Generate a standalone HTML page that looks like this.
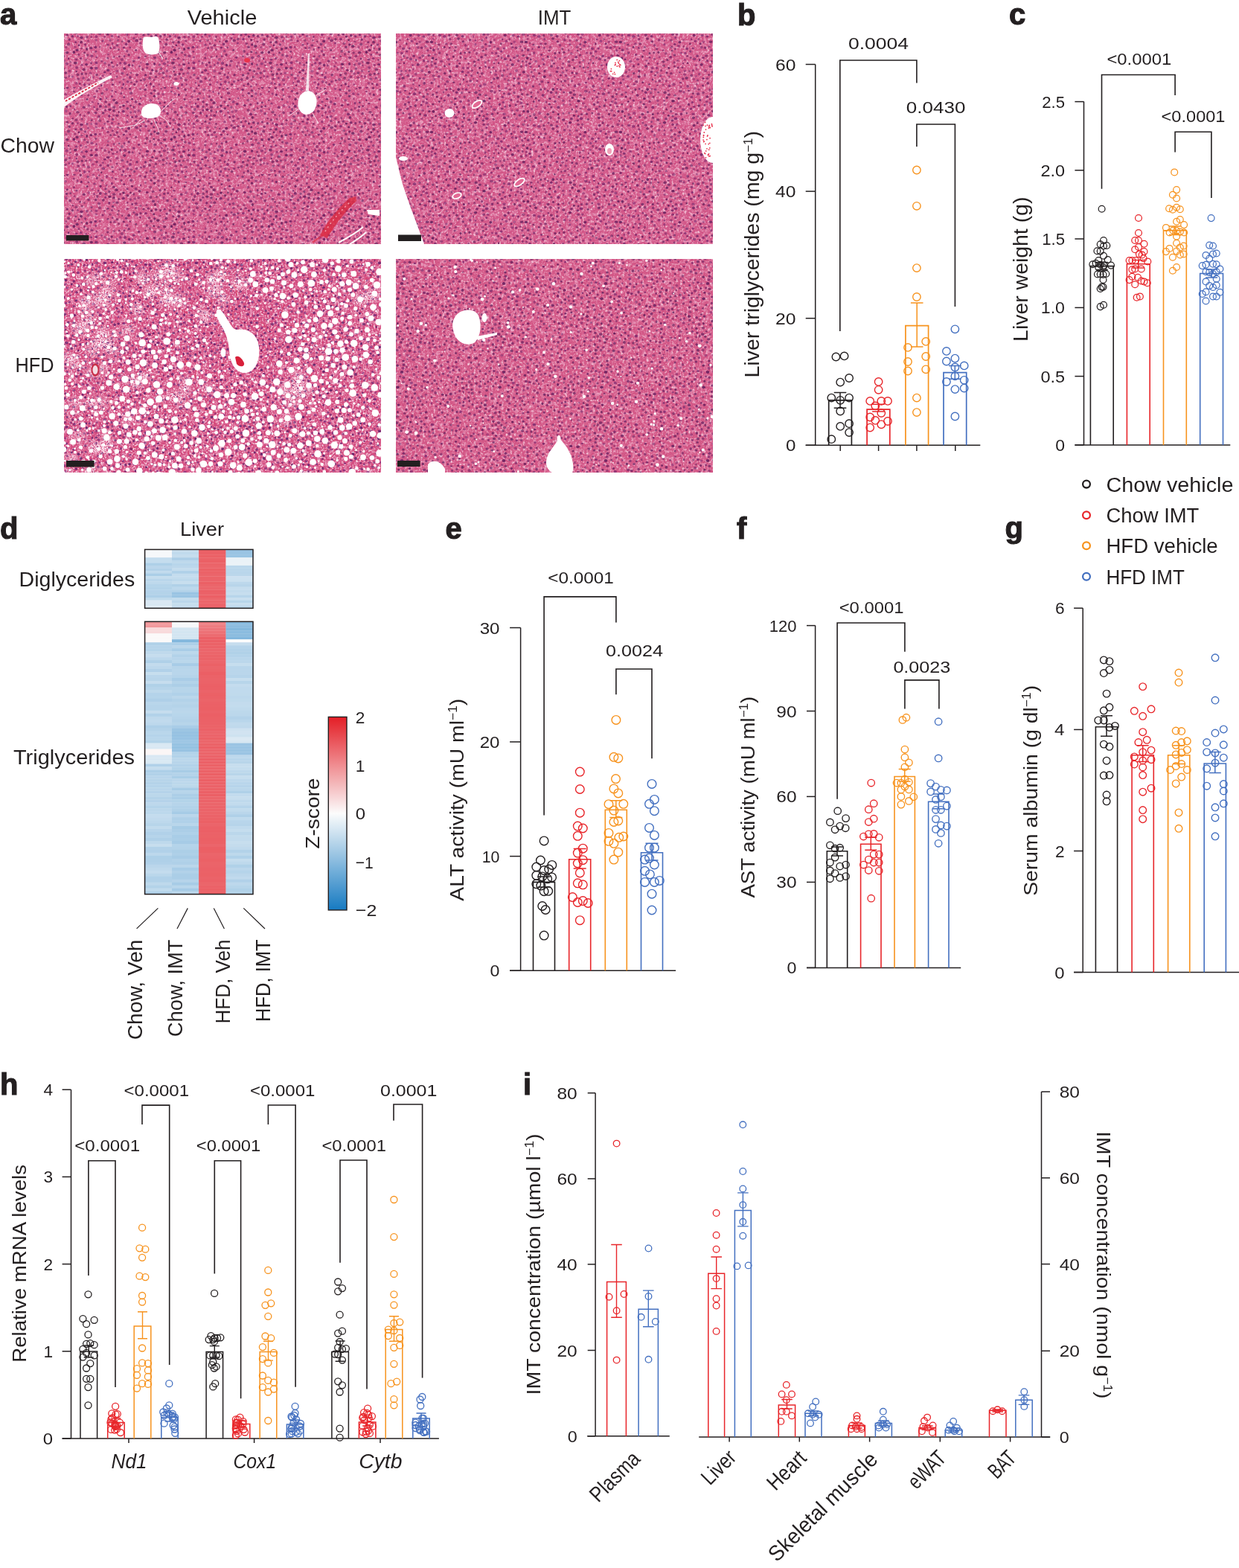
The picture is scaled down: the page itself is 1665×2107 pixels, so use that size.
<!DOCTYPE html>
<html><head><meta charset='utf-8'><title>Figure</title>
<style>html,body{margin:0;padding:0;background:#fff;width:1665px;height:2107px;overflow:hidden;}svg{display:block;}</style></head>
<body><svg width='1665' height='2107' viewBox='0 0 1665 2107' font-family="'Liberation Sans', Arial, sans-serif" fill='#231f20'>
<rect width='1665' height='2107' fill='#fff'/>
<defs><filter id='fA' x='0' y='0' width='1' height='1' color-interpolation-filters='sRGB'><feFlood flood-color='#d35a8a' result='base'/><feTurbulence type='fractalNoise' baseFrequency='0.35' numOctaves='2' seed='7' result='n2'/><feColorMatrix in='n2' type='matrix' values='0 0 0 0 1 0 0 0 0 0.93 0 0 0 0 0.96 2.4 0 0 0 -1.25' result='wh'/><feTurbulence type='fractalNoise' baseFrequency='0.6' numOctaves='1' seed='57' result='n4'/><feColorMatrix in='n4' type='matrix' values='0 0 0 0 0.78 0 0 0 0 0.22 0 0 0 0 0.45 0 2.5 0 0 -1.3' result='dk'/><feTurbulence type='fractalNoise' baseFrequency='0.22' numOctaves='2' seed='97' result='n5'/><feColorMatrix in='n5' type='matrix' values='0 0 0 0 0.92 0 0 0 0 0.62 0 0 0 0 0.75 0 2.6 0 0 -1.28' result='lp'/><feMerge><feMergeNode in='base'/><feMergeNode in='dk'/><feMergeNode in='lp'/><feMergeNode in='wh'/></feMerge></filter><filter id='fB' x='0' y='0' width='1' height='1' color-interpolation-filters='sRGB'><feFlood flood-color='#d35a8a' result='base'/><feTurbulence type='fractalNoise' baseFrequency='0.35' numOctaves='2' seed='9' result='n2'/><feColorMatrix in='n2' type='matrix' values='0 0 0 0 1 0 0 0 0 0.93 0 0 0 0 0.96 2.4 0 0 0 -1.25' result='wh'/><feTurbulence type='fractalNoise' baseFrequency='0.6' numOctaves='1' seed='59' result='n4'/><feColorMatrix in='n4' type='matrix' values='0 0 0 0 0.78 0 0 0 0 0.22 0 0 0 0 0.45 0 2.5 0 0 -1.3' result='dk'/><feTurbulence type='fractalNoise' baseFrequency='0.22' numOctaves='2' seed='99' result='n5'/><feColorMatrix in='n5' type='matrix' values='0 0 0 0 0.92 0 0 0 0 0.62 0 0 0 0 0.75 0 2.6 0 0 -1.28' result='lp'/><feMerge><feMergeNode in='base'/><feMergeNode in='dk'/><feMergeNode in='lp'/><feMergeNode in='wh'/></feMerge></filter><filter id='fC' x='0' y='0' width='1' height='1' color-interpolation-filters='sRGB'><feFlood flood-color='#d44d80' result='base'/><feTurbulence type='fractalNoise' baseFrequency='0.42' numOctaves='2' seed='13' result='n2'/><feColorMatrix in='n2' type='matrix' values='0 0 0 0 1 0 0 0 0 0.93 0 0 0 0 0.96 2.9 0 0 0 -1.38' result='wh'/><feTurbulence type='fractalNoise' baseFrequency='0.6' numOctaves='1' seed='63' result='n4'/><feColorMatrix in='n4' type='matrix' values='0 0 0 0 0.78 0 0 0 0 0.22 0 0 0 0 0.45 0 2.5 0 0 -1.3' result='dk'/><feTurbulence type='fractalNoise' baseFrequency='0.22' numOctaves='2' seed='103' result='n5'/><feColorMatrix in='n5' type='matrix' values='0 0 0 0 0.92 0 0 0 0 0.62 0 0 0 0 0.75 0 2.6 0 0 -1.28' result='lp'/><feMerge><feMergeNode in='base'/><feMergeNode in='dk'/><feMergeNode in='lp'/><feMergeNode in='wh'/></feMerge></filter><filter id='fD' x='0' y='0' width='1' height='1' color-interpolation-filters='sRGB'><feFlood flood-color='#d45a88' result='base'/><feTurbulence type='fractalNoise' baseFrequency='0.35' numOctaves='2' seed='17' result='n2'/><feColorMatrix in='n2' type='matrix' values='0 0 0 0 1 0 0 0 0 0.93 0 0 0 0 0.96 2.4 0 0 0 -1.25' result='wh'/><feTurbulence type='fractalNoise' baseFrequency='0.6' numOctaves='1' seed='67' result='n4'/><feColorMatrix in='n4' type='matrix' values='0 0 0 0 0.78 0 0 0 0 0.22 0 0 0 0 0.45 0 2.5 0 0 -1.3' result='dk'/><feTurbulence type='fractalNoise' baseFrequency='0.22' numOctaves='2' seed='107' result='n5'/><feColorMatrix in='n5' type='matrix' values='0 0 0 0 0.92 0 0 0 0 0.62 0 0 0 0 0.75 0 2.6 0 0 -1.28' result='lp'/><feMerge><feMergeNode in='base'/><feMergeNode in='dk'/><feMergeNode in='lp'/><feMergeNode in='wh'/></feMerge></filter><filter id='fBlur' x='-10%' y='-10%' width='120%' height='120%'><feGaussianBlur stdDeviation='3'/></filter><filter id='fFoam' x='0' y='0' width='1' height='1' color-interpolation-filters='sRGB'><feTurbulence type='fractalNoise' baseFrequency='0.55' numOctaves='2' seed='23' result='n'/><feColorMatrix in='n' type='matrix' values='0 0 0 0 1 0 0 0 0 0.94 0 0 0 0 0.97 4 0 0 0 -1.45'/></filter><pattern id='tA' patternUnits='userSpaceOnUse' width='131' height='117'><ellipse cx='17.6' cy='99.1' rx='1.4' ry='1.3' fill='#722365' fill-opacity='0.58'/><ellipse cx='100.1' cy='29.8' rx='1.4' ry='1.4' fill='#7d276c' fill-opacity='0.61'/><ellipse cx='64.9' cy='52.6' rx='1.9' ry='1.6' fill='#7e276c' fill-opacity='0.82'/><ellipse cx='85.4' cy='92.3' rx='1.8' ry='1.7' fill='#5a1956' fill-opacity='0.57'/><ellipse cx='12.3' cy='3.3' rx='1.9' ry='1.9' fill='#772568' fill-opacity='0.57'/><ellipse cx='109.5' cy='50.6' rx='2.3' ry='1.9' fill='#6d2162' fill-opacity='0.80'/><ellipse cx='99.9' cy='0.2' rx='1.8' ry='1.8' fill='#732365' fill-opacity='0.73'/><ellipse cx='58.3' cy='84.4' rx='1.3' ry='1.3' fill='#81296e' fill-opacity='0.51'/><ellipse cx='30.0' cy='110.6' rx='1.6' ry='1.7' fill='#82296f' fill-opacity='0.57'/><ellipse cx='118.1' cy='3.6' rx='1.8' ry='1.8' fill='#651d5d' fill-opacity='0.64'/><ellipse cx='3.3' cy='63.3' rx='1.1' ry='1.3' fill='#81286e' fill-opacity='0.74'/><ellipse cx='123.0' cy='44.6' rx='1.6' ry='1.3' fill='#5d1a58' fill-opacity='0.63'/><ellipse cx='28.4' cy='49.4' rx='1.4' ry='1.3' fill='#611c5b' fill-opacity='0.61'/><ellipse cx='3.8' cy='25.9' rx='2.0' ry='1.9' fill='#6f2163' fill-opacity='0.82'/><ellipse cx='57.4' cy='58.0' rx='1.6' ry='1.6' fill='#7e276c' fill-opacity='0.70'/><ellipse cx='30.5' cy='27.0' rx='1.4' ry='1.6' fill='#671e5e' fill-opacity='0.65'/><ellipse cx='38.0' cy='2.5' rx='1.3' ry='1.4' fill='#792569' fill-opacity='0.55'/><ellipse cx='109.7' cy='65.1' rx='1.4' ry='1.4' fill='#671e5e' fill-opacity='0.52'/><ellipse cx='84.1' cy='21.8' rx='1.5' ry='1.7' fill='#752467' fill-opacity='0.80'/><ellipse cx='130.0' cy='100.6' rx='1.8' ry='1.7' fill='#5f1b5a' fill-opacity='0.62'/><ellipse cx='-1.0' cy='100.6' rx='1.8' ry='1.7' fill='#5f1b5a' fill-opacity='0.62'/><ellipse cx='15.8' cy='38.9' rx='1.6' ry='1.8' fill='#752467' fill-opacity='0.84'/><ellipse cx='94.5' cy='83.2' rx='1.3' ry='1.5' fill='#6c2061' fill-opacity='0.51'/><ellipse cx='122.7' cy='49.4' rx='1.3' ry='1.5' fill='#702264' fill-opacity='0.55'/><ellipse cx='108.7' cy='78.4' rx='1.8' ry='1.5' fill='#782569' fill-opacity='0.70'/><ellipse cx='39.7' cy='68.7' rx='1.7' ry='1.7' fill='#7f286d' fill-opacity='0.70'/><ellipse cx='115.6' cy='99.0' rx='1.7' ry='1.5' fill='#5a1956' fill-opacity='0.52'/><ellipse cx='66.2' cy='68.9' rx='1.8' ry='1.9' fill='#571855' fill-opacity='0.56'/><ellipse cx='104.5' cy='48.5' rx='1.4' ry='1.5' fill='#7c276b' fill-opacity='0.59'/><ellipse cx='22.7' cy='64.2' rx='1.8' ry='1.6' fill='#81296e' fill-opacity='0.60'/><ellipse cx='92.1' cy='78.9' rx='1.2' ry='1.3' fill='#6a1f60' fill-opacity='0.82'/><ellipse cx='49.1' cy='51.4' rx='1.6' ry='1.5' fill='#742366' fill-opacity='0.70'/><ellipse cx='66.6' cy='91.1' rx='1.7' ry='1.7' fill='#752467' fill-opacity='0.61'/><ellipse cx='68.2' cy='46.0' rx='1.8' ry='1.5' fill='#6e2163' fill-opacity='0.70'/><ellipse cx='64.1' cy='3.5' rx='1.9' ry='1.5' fill='#6b2061' fill-opacity='0.79'/><ellipse cx='5.7' cy='82.3' rx='1.6' ry='1.4' fill='#772568' fill-opacity='0.59'/><ellipse cx='128.8' cy='69.4' rx='1.4' ry='1.3' fill='#6d2162' fill-opacity='0.70'/><ellipse cx='51.6' cy='19.9' rx='2.0' ry='1.9' fill='#7a266a' fill-opacity='0.70'/><ellipse cx='65.8' cy='114.9' rx='1.4' ry='1.3' fill='#6f2163' fill-opacity='0.70'/><ellipse cx='100.9' cy='63.1' rx='1.6' ry='1.4' fill='#712264' fill-opacity='0.52'/><ellipse cx='112.7' cy='27.2' rx='2.0' ry='1.8' fill='#6a1f60' fill-opacity='0.74'/><ellipse cx='75.7' cy='53.7' rx='1.5' ry='1.5' fill='#5a1957' fill-opacity='0.77'/><ellipse cx='35.3' cy='64.1' rx='1.7' ry='1.4' fill='#6a1f60' fill-opacity='0.79'/><ellipse cx='125.4' cy='0.7' rx='1.7' ry='1.6' fill='#82296f' fill-opacity='0.56'/><ellipse cx='102.7' cy='96.0' rx='1.1' ry='1.3' fill='#611c5b' fill-opacity='0.81'/><ellipse cx='116.1' cy='86.6' rx='2.1' ry='1.7' fill='#6d2162' fill-opacity='0.85'/><ellipse cx='106.0' cy='60.7' rx='1.3' ry='1.3' fill='#621c5c' fill-opacity='0.85'/><ellipse cx='7.4' cy='101.8' rx='1.3' ry='1.4' fill='#80286d' fill-opacity='0.72'/><ellipse cx='74.7' cy='23.4' rx='1.8' ry='1.6' fill='#6a1f60' fill-opacity='0.66'/><ellipse cx='46.7' cy='40.5' rx='1.5' ry='1.4' fill='#722365' fill-opacity='0.83'/><ellipse cx='70.5' cy='72.9' rx='1.5' ry='1.8' fill='#631d5c' fill-opacity='0.55'/><ellipse cx='112.8' cy='93.4' rx='2.2' ry='1.9' fill='#5c1a58' fill-opacity='0.63'/><ellipse cx='33.4' cy='98.5' rx='2.1' ry='1.8' fill='#722365' fill-opacity='0.65'/><ellipse cx='88.2' cy='9.7' rx='1.8' ry='1.6' fill='#7c276b' fill-opacity='0.52'/><ellipse cx='2.2' cy='1.7' rx='1.2' ry='1.3' fill='#681e5f' fill-opacity='0.66'/><ellipse cx='14.3' cy='73.1' rx='1.5' ry='1.6' fill='#7d276c' fill-opacity='0.51'/><ellipse cx='45.1' cy='8.1' rx='2.3' ry='1.9' fill='#6b2061' fill-opacity='0.64'/><ellipse cx='22.0' cy='31.9' rx='1.7' ry='1.8' fill='#5e1b59' fill-opacity='0.71'/><ellipse cx='93.2' cy='53.2' rx='1.6' ry='1.8' fill='#702264' fill-opacity='0.78'/><ellipse cx='42.2' cy='55.4' rx='2.0' ry='1.9' fill='#611c5b' fill-opacity='0.80'/><ellipse cx='3.1' cy='45.2' rx='1.9' ry='1.9' fill='#5b1957' fill-opacity='0.52'/><ellipse cx='14.2' cy='105.3' rx='1.7' ry='1.9' fill='#6b2061' fill-opacity='0.68'/><ellipse cx='66.8' cy='24.5' rx='1.9' ry='1.6' fill='#6a1f60' fill-opacity='0.81'/><ellipse cx='79.3' cy='95.6' rx='2.0' ry='1.6' fill='#5d1a59' fill-opacity='0.55'/><ellipse cx='19.2' cy='84.1' rx='1.6' ry='1.7' fill='#611c5b' fill-opacity='0.78'/><ellipse cx='88.8' cy='63.7' rx='1.4' ry='1.6' fill='#7e276c' fill-opacity='0.54'/><ellipse cx='29.2' cy='75.9' rx='1.3' ry='1.3' fill='#5d1a59' fill-opacity='0.63'/><ellipse cx='51.7' cy='67.4' rx='1.5' ry='1.4' fill='#571855' fill-opacity='0.67'/><ellipse cx='42.1' cy='73.8' rx='1.7' ry='1.8' fill='#641d5d' fill-opacity='0.70'/><ellipse cx='7.7' cy='34.9' rx='1.8' ry='1.8' fill='#5e1b59' fill-opacity='0.67'/><ellipse cx='40.1' cy='100.4' rx='1.5' ry='1.6' fill='#6f2163' fill-opacity='0.69'/><ellipse cx='40.7' cy='109.9' rx='2.0' ry='1.8' fill='#81296e' fill-opacity='0.70'/><ellipse cx='97.4' cy='48.7' rx='1.8' ry='1.8' fill='#651d5d' fill-opacity='0.71'/><ellipse cx='33.1' cy='1.0' rx='1.5' ry='1.6' fill='#681f5f' fill-opacity='0.69'/><ellipse cx='107.3' cy='112.6' rx='1.3' ry='1.4' fill='#601b5a' fill-opacity='0.71'/><ellipse cx='113.7' cy='113.9' rx='1.8' ry='1.8' fill='#7f286d' fill-opacity='0.77'/><ellipse cx='92.2' cy='59.5' rx='2.1' ry='1.9' fill='#661e5e' fill-opacity='0.63'/><ellipse cx='56.7' cy='22.7' rx='2.0' ry='1.7' fill='#691f60' fill-opacity='0.78'/><ellipse cx='13.7' cy='77.9' rx='1.6' ry='1.5' fill='#611c5b' fill-opacity='0.64'/><ellipse cx='26.3' cy='38.3' rx='2.1' ry='1.7' fill='#5e1b59' fill-opacity='0.64'/><ellipse cx='129.3' cy='91.6' rx='2.3' ry='1.9' fill='#722265' fill-opacity='0.77'/><ellipse cx='-1.7' cy='91.6' rx='2.3' ry='1.9' fill='#722265' fill-opacity='0.77'/><ellipse cx='44.4' cy='24.9' rx='1.4' ry='1.4' fill='#591956' fill-opacity='0.71'/><ellipse cx='88.4' cy='98.0' rx='2.1' ry='1.7' fill='#641d5c' fill-opacity='0.65'/><ellipse cx='115.6' cy='80.4' rx='1.4' ry='1.3' fill='#691f60' fill-opacity='0.55'/><ellipse cx='30.7' cy='84.9' rx='1.6' ry='1.8' fill='#83296f' fill-opacity='0.76'/><ellipse cx='11.1' cy='19.9' rx='1.8' ry='1.6' fill='#6f2163' fill-opacity='0.72'/><ellipse cx='119.3' cy='24.9' rx='1.8' ry='1.9' fill='#81286e' fill-opacity='0.57'/><ellipse cx='99.4' cy='70.2' rx='1.7' ry='1.9' fill='#5e1a59' fill-opacity='0.84'/><ellipse cx='110.2' cy='43.1' rx='1.6' ry='1.7' fill='#5c1a58' fill-opacity='0.55'/><ellipse cx='44.6' cy='34.1' rx='1.6' ry='1.8' fill='#762467' fill-opacity='0.61'/><ellipse cx='113.6' cy='70.7' rx='1.6' ry='1.5' fill='#5e1b59' fill-opacity='0.58'/><ellipse cx='125.0' cy='103.8' rx='1.7' ry='1.6' fill='#80286d' fill-opacity='0.53'/><ellipse cx='17.7' cy='64.5' rx='1.5' ry='1.6' fill='#5d1a58' fill-opacity='0.63'/><ellipse cx='102.4' cy='44.2' rx='2.0' ry='1.9' fill='#661e5e' fill-opacity='0.52'/><ellipse cx='10.7' cy='31.2' rx='1.5' ry='1.6' fill='#7e276c' fill-opacity='0.75'/><ellipse cx='116.7' cy='66.0' rx='1.6' ry='1.9' fill='#571855' fill-opacity='0.74'/><ellipse cx='36.3' cy='92.1' rx='2.1' ry='1.8' fill='#5f1b5a' fill-opacity='0.78'/><ellipse cx='108.4' cy='1.4' rx='1.6' ry='1.8' fill='#5b1957' fill-opacity='0.64'/><ellipse cx='129.4' cy='49.3' rx='1.9' ry='1.8' fill='#83296f' fill-opacity='0.68'/><ellipse cx='-1.6' cy='49.3' rx='1.9' ry='1.8' fill='#83296f' fill-opacity='0.68'/><ellipse cx='49.6' cy='113.5' rx='1.7' ry='1.7' fill='#5d1a58' fill-opacity='0.63'/><ellipse cx='119.1' cy='34.4' rx='1.9' ry='1.8' fill='#691f60' fill-opacity='0.63'/><ellipse cx='33.2' cy='55.8' rx='1.2' ry='1.4' fill='#591956' fill-opacity='0.58'/><ellipse cx='128.7' cy='34.6' rx='1.9' ry='1.7' fill='#6b2061' fill-opacity='0.72'/><ellipse cx='119.7' cy='113.5' rx='1.1' ry='1.3' fill='#7b266b' fill-opacity='0.79'/><ellipse cx='127.0' cy='13.0' rx='1.9' ry='1.6' fill='#7a266a' fill-opacity='0.65'/><ellipse cx='128.4' cy='63.5' rx='2.0' ry='1.7' fill='#742366' fill-opacity='0.82'/><ellipse cx='40.3' cy='28.8' rx='1.9' ry='1.7' fill='#591856' fill-opacity='0.66'/><ellipse cx='85.4' cy='75.3' rx='1.9' ry='1.6' fill='#712264' fill-opacity='0.62'/><ellipse cx='40.2' cy='38.3' rx='1.3' ry='1.4' fill='#732366' fill-opacity='0.65'/><ellipse cx='43.8' cy='63.7' rx='1.3' ry='1.3' fill='#5c1a58' fill-opacity='0.60'/><ellipse cx='75.8' cy='69.7' rx='1.6' ry='1.3' fill='#5a1956' fill-opacity='0.78'/><ellipse cx='31.9' cy='8.5' rx='1.4' ry='1.6' fill='#6c2061' fill-opacity='0.71'/><ellipse cx='72.2' cy='8.3' rx='1.8' ry='1.6' fill='#752467' fill-opacity='0.83'/><ellipse cx='64.6' cy='100.9' rx='1.7' ry='1.6' fill='#691f60' fill-opacity='0.82'/><ellipse cx='20.2' cy='58.7' rx='1.4' ry='1.6' fill='#782568' fill-opacity='0.65'/><ellipse cx='104.1' cy='9.0' rx='1.5' ry='1.7' fill='#7d276c' fill-opacity='0.63'/><ellipse cx='124.3' cy='20.3' rx='1.5' ry='1.3' fill='#7f286d' fill-opacity='0.54'/><ellipse cx='107.6' cy='37.4' rx='1.2' ry='1.3' fill='#6e2162' fill-opacity='0.82'/><ellipse cx='14.0' cy='60.2' rx='1.6' ry='1.5' fill='#722365' fill-opacity='0.70'/><ellipse cx='117.1' cy='16.6' rx='1.5' ry='1.5' fill='#581856' fill-opacity='0.71'/><ellipse cx='105.3' cy='106.1' rx='2.1' ry='1.7' fill='#6a1f60' fill-opacity='0.59'/><ellipse cx='110.1' cy='87.3' rx='1.6' ry='1.5' fill='#82296f' fill-opacity='0.67'/><ellipse cx='90.3' cy='20.8' rx='1.5' ry='1.4' fill='#5e1b59' fill-opacity='0.75'/><ellipse cx='72.0' cy='63.3' rx='1.8' ry='1.7' fill='#5f1b59' fill-opacity='0.68'/><ellipse cx='51.8' cy='39.6' rx='2.0' ry='1.8' fill='#742366' fill-opacity='0.64'/><ellipse cx='84.7' cy='48.8' rx='1.6' ry='1.7' fill='#6c2061' fill-opacity='0.72'/><ellipse cx='46.5' cy='16.2' rx='1.6' ry='1.3' fill='#5d1a58' fill-opacity='0.84'/><ellipse cx='16.4' cy='30.3' rx='2.1' ry='1.8' fill='#621c5b' fill-opacity='0.79'/><ellipse cx='69.3' cy='58.6' rx='2.0' ry='1.6' fill='#641d5d' fill-opacity='0.54'/><ellipse cx='89.9' cy='85.6' rx='2.2' ry='1.9' fill='#7d276b' fill-opacity='0.66'/><ellipse cx='118.8' cy='107.4' rx='2.3' ry='1.9' fill='#6f2163' fill-opacity='0.54'/><ellipse cx='36.1' cy='75.6' rx='1.4' ry='1.6' fill='#792569' fill-opacity='0.72'/><ellipse cx='6.3' cy='8.4' rx='1.9' ry='1.6' fill='#571855' fill-opacity='0.59'/><ellipse cx='20.9' cy='89.6' rx='1.9' ry='1.7' fill='#702264' fill-opacity='0.54'/><ellipse cx='48.7' cy='82.1' rx='2.0' ry='1.7' fill='#732366' fill-opacity='0.74'/><ellipse cx='112.2' cy='104.9' rx='1.7' ry='1.6' fill='#722265' fill-opacity='0.69'/><ellipse cx='28.5' cy='66.6' rx='1.5' ry='1.7' fill='#5f1b5a' fill-opacity='0.52'/><ellipse cx='99.3' cy='6.1' rx='1.5' ry='1.3' fill='#6f2163' fill-opacity='0.61'/><ellipse cx='5.3' cy='114.8' rx='1.2' ry='1.4' fill='#5d1a59' fill-opacity='0.80'/><ellipse cx='105.8' cy='73.5' rx='1.4' ry='1.5' fill='#762467' fill-opacity='0.70'/><ellipse cx='35.0' cy='106.8' rx='1.6' ry='1.3' fill='#702264' fill-opacity='0.59'/><ellipse cx='86.4' cy='81.9' rx='1.6' ry='1.4' fill='#80286e' fill-opacity='0.51'/><ellipse cx='58.3' cy='108.1' rx='1.7' ry='1.4' fill='#6c2061' fill-opacity='0.65'/><ellipse cx='21.6' cy='38.1' rx='1.5' ry='1.4' fill='#792569' fill-opacity='0.51'/><ellipse cx='78.7' cy='47.8' rx='1.8' ry='1.8' fill='#6a1f60' fill-opacity='0.80'/><ellipse cx='0.5' cy='22.2' rx='1.7' ry='1.5' fill='#7f286d' fill-opacity='0.85'/><ellipse cx='57.5' cy='2.5' rx='1.7' ry='1.4' fill='#81286e' fill-opacity='0.63'/><ellipse cx='82.2' cy='70.9' rx='1.7' ry='1.5' fill='#601b5a' fill-opacity='0.59'/><ellipse cx='32.9' cy='80.0' rx='2.2' ry='1.9' fill='#6e2163' fill-opacity='0.54'/><ellipse cx='50.2' cy='33.2' rx='1.8' ry='1.9' fill='#7a266a' fill-opacity='0.50'/><ellipse cx='14.2' cy='94.5' rx='2.2' ry='1.8' fill='#762467' fill-opacity='0.85'/><ellipse cx='15.5' cy='87.4' rx='1.6' ry='1.8' fill='#762467' fill-opacity='0.63'/><ellipse cx='71.4' cy='112.9' rx='1.6' ry='1.8' fill='#6b2061' fill-opacity='0.80'/><ellipse cx='75.0' cy='36.4' rx='2.1' ry='1.9' fill='#742366' fill-opacity='0.81'/><ellipse cx='65.9' cy='41.7' rx='1.5' ry='1.6' fill='#6e2162' fill-opacity='0.53'/><ellipse cx='57.9' cy='52.6' rx='1.8' ry='1.7' fill='#5f1b59' fill-opacity='0.63'/><ellipse cx='39.9' cy='46.7' rx='1.8' ry='1.7' fill='#7f286d' fill-opacity='0.65'/><ellipse cx='102.6' cy='80.0' rx='1.9' ry='1.5' fill='#782569' fill-opacity='0.72'/><ellipse cx='64.5' cy='75.8' rx='1.5' ry='1.3' fill='#5c1a58' fill-opacity='0.60'/><ellipse cx='78.4' cy='103.2' rx='1.8' ry='1.7' fill='#601b5a' fill-opacity='0.59'/><ellipse cx='129.3' cy='54.0' rx='1.7' ry='1.4' fill='#7c266b' fill-opacity='0.54'/><ellipse cx='40.0' cy='19.9' rx='1.7' ry='1.4' fill='#772468' fill-opacity='0.77'/><ellipse cx='81.2' cy='62.1' rx='2.3' ry='1.9' fill='#581855' fill-opacity='0.73'/><ellipse cx='53.1' cy='100.8' rx='1.7' ry='1.8' fill='#6b2061' fill-opacity='0.76'/><ellipse cx='76.6' cy='85.9' rx='1.6' ry='1.8' fill='#691f5f' fill-opacity='0.84'/><ellipse cx='122.8' cy='91.5' rx='2.1' ry='1.7' fill='#5c1a58' fill-opacity='0.77'/><ellipse cx='92.8' cy='102.3' rx='1.4' ry='1.6' fill='#7c276b' fill-opacity='0.58'/><ellipse cx='71.3' cy='17.8' rx='2.0' ry='1.8' fill='#691f60' fill-opacity='0.53'/><ellipse cx='109.1' cy='56.7' rx='1.9' ry='1.9' fill='#5a1957' fill-opacity='0.71'/><ellipse cx='86.0' cy='2.3' rx='1.2' ry='1.3' fill='#5a1956' fill-opacity='0.52'/><ellipse cx='90.4' cy='47.0' rx='1.7' ry='1.5' fill='#6f2163' fill-opacity='0.72'/><ellipse cx='90.2' cy='70.8' rx='2.2' ry='1.8' fill='#5e1b59' fill-opacity='0.72'/><ellipse cx='9.8' cy='97.2' rx='1.6' ry='1.4' fill='#722265' fill-opacity='0.85'/><ellipse cx='67.0' cy='86.2' rx='2.1' ry='1.7' fill='#641d5d' fill-opacity='0.85'/><ellipse cx='22.1' cy='76.4' rx='1.5' ry='1.5' fill='#641d5d' fill-opacity='0.50'/><ellipse cx='93.5' cy='95.4' rx='1.8' ry='1.9' fill='#7a266a' fill-opacity='0.55'/><ellipse cx='113.5' cy='38.6' rx='1.2' ry='1.4' fill='#621c5c' fill-opacity='0.57'/><ellipse cx='4.0' cy='105.2' rx='1.8' ry='1.6' fill='#80286d' fill-opacity='0.80'/><ellipse cx='81.5' cy='37.0' rx='1.3' ry='1.5' fill='#7f286d' fill-opacity='0.57'/><ellipse cx='56.6' cy='89.1' rx='1.4' ry='1.4' fill='#7a266a' fill-opacity='0.75'/><ellipse cx='102.9' cy='22.2' rx='1.6' ry='1.4' fill='#732366' fill-opacity='0.68'/><ellipse cx='79.4' cy='30.7' rx='1.5' ry='1.6' fill='#5a1957' fill-opacity='0.52'/><ellipse cx='47.3' cy='87.9' rx='1.4' ry='1.6' fill='#772468' fill-opacity='0.69'/><ellipse cx='94.1' cy='35.7' rx='1.8' ry='1.9' fill='#6b2061' fill-opacity='0.69'/><ellipse cx='13.9' cy='46.4' rx='1.7' ry='1.4' fill='#601b5a' fill-opacity='0.71'/><ellipse cx='64.5' cy='11.7' rx='1.2' ry='1.4' fill='#661e5e' fill-opacity='0.60'/><ellipse cx='24.5' cy='6.5' rx='1.1' ry='1.3' fill='#7a266a' fill-opacity='0.84'/><ellipse cx='44.9' cy='98.0' rx='1.2' ry='1.3' fill='#6b2061' fill-opacity='0.61'/><ellipse cx='22.1' cy='27.1' rx='2.3' ry='1.9' fill='#5f1b5a' fill-opacity='0.57'/><ellipse cx='130.3' cy='5.4' rx='1.5' ry='1.7' fill='#752467' fill-opacity='0.73'/><ellipse cx='-0.7' cy='5.4' rx='1.5' ry='1.7' fill='#752467' fill-opacity='0.73'/><ellipse cx='104.5' cy='100.3' rx='2.0' ry='1.9' fill='#581855' fill-opacity='0.58'/><ellipse cx='76.0' cy='107.5' rx='1.7' ry='1.8' fill='#81296e' fill-opacity='0.50'/><ellipse cx='99.4' cy='17.8' rx='1.1' ry='1.3' fill='#5d1a58' fill-opacity='0.82'/><ellipse cx='17.0' cy='54.2' rx='1.6' ry='1.6' fill='#5f1b5a' fill-opacity='0.50'/><ellipse cx='35.8' cy='13.7' rx='1.5' ry='1.4' fill='#6f2163' fill-opacity='0.81'/><ellipse cx='83.5' cy='87.1' rx='1.7' ry='1.6' fill='#631d5c' fill-opacity='0.56'/><ellipse cx='82.7' cy='113.4' rx='1.3' ry='1.5' fill='#7f286d' fill-opacity='0.57'/><ellipse cx='84.1' cy='28.4' rx='1.3' ry='1.3' fill='#651d5d' fill-opacity='0.58'/><ellipse cx='7.9' cy='109.4' rx='2.2' ry='1.9' fill='#772568' fill-opacity='0.71'/><ellipse cx='77.4' cy='40.9' rx='1.7' ry='1.9' fill='#591956' fill-opacity='0.74'/><ellipse cx='26.1' cy='103.0' rx='1.3' ry='1.5' fill='#681f5f' fill-opacity='0.60'/><ellipse cx='55.6' cy='77.5' rx='1.7' ry='1.4' fill='#762468' fill-opacity='0.84'/><ellipse cx='94.5' cy='88.0' rx='1.3' ry='1.3' fill='#702264' fill-opacity='0.57'/><ellipse cx='19.8' cy='107.5' rx='1.7' ry='1.6' fill='#5e1a59' fill-opacity='0.53'/><ellipse cx='58.1' cy='15.0' rx='1.1' ry='1.3' fill='#7c276b' fill-opacity='0.81'/><ellipse cx='102.7' cy='111.9' rx='2.0' ry='1.8' fill='#7c276b' fill-opacity='0.51'/><ellipse cx='76.5' cy='12.2' rx='1.7' ry='1.6' fill='#5e1b59' fill-opacity='0.79'/><ellipse cx='129.4' cy='84.2' rx='2.0' ry='1.8' fill='#81286e' fill-opacity='0.84'/><ellipse cx='-1.6' cy='84.2' rx='2.0' ry='1.8' fill='#81286e' fill-opacity='0.84'/><ellipse cx='70.2' cy='104.9' rx='1.9' ry='1.9' fill='#591956' fill-opacity='0.62'/><ellipse cx='20.6' cy='43.3' rx='1.7' ry='1.6' fill='#671e5e' fill-opacity='0.79'/><ellipse cx='42.6' cy='87.6' rx='1.8' ry='1.8' fill='#6a1f60' fill-opacity='0.83'/><ellipse cx='62.8' cy='106.8' rx='2.1' ry='1.9' fill='#702264' fill-opacity='0.63'/><ellipse cx='75.4' cy='116.1' rx='1.6' ry='1.3' fill='#752467' fill-opacity='0.71'/><ellipse cx='75.4' cy='-0.9' rx='1.6' ry='1.3' fill='#752467' fill-opacity='0.71'/><ellipse cx='97.8' cy='42.3' rx='1.1' ry='1.3' fill='#691f60' fill-opacity='0.71'/><ellipse cx='123.4' cy='75.3' rx='2.1' ry='1.8' fill='#7f286d' fill-opacity='0.72'/><ellipse cx='52.7' cy='54.4' rx='2.3' ry='1.9' fill='#6b2061' fill-opacity='0.68'/><ellipse cx='22.0' cy='17.4' rx='2.0' ry='1.7' fill='#631c5c' fill-opacity='0.71'/><ellipse cx='71.5' cy='31.1' rx='2.1' ry='1.8' fill='#5c1a58' fill-opacity='0.56'/><ellipse cx='117.0' cy='49.8' rx='1.8' ry='1.8' fill='#772568' fill-opacity='0.67'/><ellipse cx='130.8' cy='30.0' rx='1.7' ry='1.9' fill='#621c5b' fill-opacity='0.60'/><ellipse cx='-0.2' cy='30.0' rx='1.7' ry='1.9' fill='#621c5b' fill-opacity='0.60'/><ellipse cx='26.4' cy='87.4' rx='1.2' ry='1.3' fill='#732365' fill-opacity='0.73'/><ellipse cx='76.6' cy='4.7' rx='2.0' ry='1.8' fill='#5e1b59' fill-opacity='0.63'/><ellipse cx='90.6' cy='0.6' rx='1.9' ry='1.8' fill='#6b2061' fill-opacity='0.78'/><ellipse cx='52.7' cy='109.6' rx='1.8' ry='1.7' fill='#7c276b' fill-opacity='0.70'/><ellipse cx='60.8' cy='93.1' rx='1.6' ry='1.9' fill='#581855' fill-opacity='0.51'/><ellipse cx='101.8' cy='56.8' rx='1.6' ry='1.5' fill='#6f2163' fill-opacity='0.72'/><ellipse cx='12.0' cy='15.1' rx='1.6' ry='1.3' fill='#7e276c' fill-opacity='0.58'/><ellipse cx='126.6' cy='26.8' rx='1.3' ry='1.5' fill='#7d276b' fill-opacity='0.75'/><ellipse cx='109.3' cy='10.4' rx='1.5' ry='1.6' fill='#681f5f' fill-opacity='0.85'/><ellipse cx='45.4' cy='110.7' rx='1.6' ry='1.5' fill='#5e1b59' fill-opacity='0.50'/><ellipse cx='72.4' cy='49.1' rx='1.6' ry='1.7' fill='#5e1a59' fill-opacity='0.79'/><ellipse cx='34.8' cy='32.6' rx='2.0' ry='1.9' fill='#752467' fill-opacity='0.84'/><ellipse cx='38.5' cy='59.4' rx='1.9' ry='1.8' fill='#722265' fill-opacity='0.75'/><ellipse cx='26.4' cy='60.9' rx='2.0' ry='1.6' fill='#631c5c' fill-opacity='0.62'/><ellipse cx='129.6' cy='76.9' rx='1.2' ry='1.3' fill='#7c266b' fill-opacity='0.76'/><ellipse cx='19.5' cy='48.4' rx='1.6' ry='1.6' fill='#7c276b' fill-opacity='0.68'/><ellipse cx='35.0' cy='25.1' rx='1.8' ry='1.6' fill='#5e1b59' fill-opacity='0.85'/><ellipse cx='89.7' cy='26.5' rx='1.7' ry='1.4' fill='#661e5e' fill-opacity='0.75'/><ellipse cx='11.1' cy='26.3' rx='1.7' ry='1.6' fill='#631d5c' fill-opacity='0.63'/><ellipse cx='10.1' cy='84.8' rx='1.6' ry='1.9' fill='#762468' fill-opacity='0.58'/><ellipse cx='4.1' cy='16.3' rx='1.6' ry='1.7' fill='#621c5c' fill-opacity='0.81'/><ellipse cx='89.0' cy='32.0' rx='1.7' ry='1.9' fill='#7b266a' fill-opacity='0.59'/><ellipse cx='117.7' cy='74.0' rx='1.8' ry='1.8' fill='#5b1957' fill-opacity='0.55'/><ellipse cx='62.0' cy='47.2' rx='1.5' ry='1.4' fill='#5b1957' fill-opacity='0.69'/><ellipse cx='71.4' cy='98.7' rx='1.9' ry='1.8' fill='#591956' fill-opacity='0.52'/><ellipse cx='110.2' cy='99.2' rx='1.6' ry='1.8' fill='#601b5a' fill-opacity='0.71'/><ellipse cx='43.9' cy='104.0' rx='1.9' ry='1.9' fill='#7e276c' fill-opacity='0.83'/><ellipse cx='1.1' cy='111.4' rx='1.3' ry='1.3' fill='#7b266b' fill-opacity='0.65'/><ellipse cx='7.0' cy='55.1' rx='1.6' ry='1.5' fill='#762468' fill-opacity='0.75'/><ellipse cx='88.2' cy='104.3' rx='1.8' ry='1.4' fill='#5d1a59' fill-opacity='0.52'/><ellipse cx='101.3' cy='84.6' rx='2.4' ry='1.9' fill='#5a1956' fill-opacity='0.71'/><ellipse cx='121.4' cy='98.3' rx='1.9' ry='1.7' fill='#82296f' fill-opacity='0.55'/><ellipse cx='104.5' cy='33.8' rx='2.3' ry='1.8' fill='#5c1a58' fill-opacity='0.57'/><ellipse cx='20.4' cy='113.7' rx='1.6' ry='1.4' fill='#722365' fill-opacity='0.82'/><ellipse cx='76.7' cy='60.0' rx='1.6' ry='1.8' fill='#641d5d' fill-opacity='0.80'/><ellipse cx='122.6' cy='84.8' rx='1.3' ry='1.5' fill='#6d2062' fill-opacity='0.75'/><ellipse cx='84.0' cy='56.0' rx='1.6' ry='1.3' fill='#671e5e' fill-opacity='0.55'/><ellipse cx='51.8' cy='45.5' rx='1.9' ry='1.6' fill='#712264' fill-opacity='0.65'/><ellipse cx='26.3' cy='95.6' rx='2.1' ry='1.9' fill='#7f286d' fill-opacity='0.53'/><ellipse cx='81.9' cy='9.0' rx='1.9' ry='1.8' fill='#80286d' fill-opacity='0.69'/><ellipse cx='27.4' cy='54.2' rx='1.3' ry='1.4' fill='#571855' fill-opacity='0.51'/><ellipse cx='15.8' cy='23.6' rx='1.7' ry='1.8' fill='#691f5f' fill-opacity='0.69'/><ellipse cx='55.2' cy='31.8' rx='1.9' ry='1.9' fill='#80286d' fill-opacity='0.59'/><ellipse cx='118.9' cy='11.0' rx='1.5' ry='1.3' fill='#681f5f' fill-opacity='0.58'/><ellipse cx='118.6' cy='55.1' rx='1.7' ry='1.5' fill='#752467' fill-opacity='0.51'/><ellipse cx='122.4' cy='64.6' rx='2.0' ry='1.7' fill='#641d5c' fill-opacity='0.77'/><ellipse cx='103.1' cy='90.8' rx='2.0' ry='1.9' fill='#762467' fill-opacity='0.65'/><ellipse cx='103.6' cy='67.4' rx='2.1' ry='1.8' fill='#651d5d' fill-opacity='0.81'/><ellipse cx='83.1' cy='99.1' rx='2.0' ry='1.7' fill='#792569' fill-opacity='0.52'/><ellipse cx='19.4' cy='12.6' rx='1.6' ry='1.6' fill='#752467' fill-opacity='0.73'/><ellipse cx='34.8' cy='113.4' rx='1.5' ry='1.8' fill='#7d276c' fill-opacity='0.85'/><ellipse cx='37.0' cy='85.0' rx='2.2' ry='1.9' fill='#792569' fill-opacity='0.71'/><ellipse cx='57.9' cy='42.6' rx='1.8' ry='1.5' fill='#691f5f' fill-opacity='0.51'/><ellipse cx='77.1' cy='77.6' rx='2.1' ry='1.8' fill='#6e2162' fill-opacity='0.71'/><ellipse cx='94.7' cy='25.7' rx='1.5' ry='1.4' fill='#702264' fill-opacity='0.75'/><ellipse cx='25.6' cy='21.2' rx='2.2' ry='1.9' fill='#621c5b' fill-opacity='0.74'/><ellipse cx='9.7' cy='49.2' rx='1.4' ry='1.5' fill='#81286e' fill-opacity='0.64'/><ellipse cx='73.8' cy='94.3' rx='1.7' ry='1.4' fill='#681f5f' fill-opacity='0.85'/><ellipse cx='2.0' cy='39.6' rx='2.1' ry='1.9' fill='#742366' fill-opacity='0.68'/><ellipse cx='97.4' cy='102.9' rx='1.7' ry='1.7' fill='#81296e' fill-opacity='0.64'/><ellipse cx='114.5' cy='60.0' rx='1.6' ry='1.8' fill='#7b266a' fill-opacity='0.76'/><ellipse cx='48.8' cy='27.0' rx='1.6' ry='1.7' fill='#631c5c' fill-opacity='0.60'/><ellipse cx='43.6' cy='2.2' rx='1.5' ry='1.3' fill='#5c1a58' fill-opacity='0.74'/><ellipse cx='19.7' cy='5.0' rx='1.5' ry='1.3' fill='#81296e' fill-opacity='0.66'/><ellipse cx='28.8' cy='33.5' rx='1.1' ry='1.3' fill='#5a1957' fill-opacity='0.79'/><ellipse cx='82.2' cy='15.8' rx='1.3' ry='1.3' fill='#742366' fill-opacity='0.52'/></pattern><pattern id='tB' patternUnits='userSpaceOnUse' width='127' height='121'><ellipse cx='121.4' cy='114.7' rx='1.3' ry='1.3' fill='#661e5e' fill-opacity='0.53'/><ellipse cx='7.2' cy='10.3' rx='1.7' ry='1.6' fill='#5e1b59' fill-opacity='0.81'/><ellipse cx='106.1' cy='89.1' rx='2.0' ry='1.8' fill='#611c5b' fill-opacity='0.75'/><ellipse cx='85.1' cy='37.3' rx='1.9' ry='1.8' fill='#5f1b5a' fill-opacity='0.83'/><ellipse cx='77.0' cy='73.4' rx='1.6' ry='1.3' fill='#80286d' fill-opacity='0.61'/><ellipse cx='73.8' cy='19.2' rx='1.5' ry='1.4' fill='#5a1956' fill-opacity='0.68'/><ellipse cx='54.7' cy='47.6' rx='2.0' ry='1.7' fill='#732366' fill-opacity='0.63'/><ellipse cx='91.8' cy='120.4' rx='1.6' ry='1.6' fill='#5d1a58' fill-opacity='0.70'/><ellipse cx='91.8' cy='-0.6' rx='1.6' ry='1.6' fill='#5d1a58' fill-opacity='0.70'/><ellipse cx='120.6' cy='65.8' rx='1.6' ry='1.6' fill='#5e1a59' fill-opacity='0.59'/><ellipse cx='56.5' cy='32.5' rx='1.7' ry='1.7' fill='#581855' fill-opacity='0.65'/><ellipse cx='4.6' cy='3.3' rx='2.2' ry='1.9' fill='#5c1a58' fill-opacity='0.68'/><ellipse cx='59.0' cy='38.5' rx='1.6' ry='1.5' fill='#82296e' fill-opacity='0.59'/><ellipse cx='48.3' cy='107.9' rx='1.7' ry='1.5' fill='#631d5c' fill-opacity='0.52'/><ellipse cx='66.8' cy='67.8' rx='1.6' ry='1.7' fill='#7c276b' fill-opacity='0.67'/><ellipse cx='30.0' cy='2.9' rx='1.6' ry='1.7' fill='#81286e' fill-opacity='0.69'/><ellipse cx='41.3' cy='16.5' rx='1.8' ry='1.6' fill='#7d276c' fill-opacity='0.79'/><ellipse cx='64.8' cy='120.8' rx='1.5' ry='1.8' fill='#581855' fill-opacity='0.55'/><ellipse cx='64.8' cy='-0.2' rx='1.5' ry='1.8' fill='#581855' fill-opacity='0.55'/><ellipse cx='85.7' cy='22.0' rx='1.8' ry='1.6' fill='#6d2062' fill-opacity='0.51'/><ellipse cx='113.5' cy='96.4' rx='1.9' ry='1.6' fill='#772568' fill-opacity='0.84'/><ellipse cx='93.3' cy='109.7' rx='2.1' ry='1.8' fill='#732366' fill-opacity='0.68'/><ellipse cx='96.9' cy='95.6' rx='1.6' ry='1.8' fill='#641d5d' fill-opacity='0.78'/><ellipse cx='44.9' cy='118.7' rx='2.0' ry='1.6' fill='#80286d' fill-opacity='0.58'/><ellipse cx='122.2' cy='19.5' rx='1.4' ry='1.6' fill='#772568' fill-opacity='0.55'/><ellipse cx='95.8' cy='86.5' rx='1.5' ry='1.4' fill='#712265' fill-opacity='0.81'/><ellipse cx='58.6' cy='64.2' rx='1.8' ry='1.6' fill='#681e5f' fill-opacity='0.68'/><ellipse cx='62.2' cy='111.9' rx='1.8' ry='1.9' fill='#661e5e' fill-opacity='0.74'/><ellipse cx='63.6' cy='100.6' rx='1.6' ry='1.4' fill='#591856' fill-opacity='0.64'/><ellipse cx='114.3' cy='55.8' rx='1.7' ry='1.6' fill='#6b2061' fill-opacity='0.77'/><ellipse cx='72.1' cy='111.4' rx='1.7' ry='1.7' fill='#702264' fill-opacity='0.83'/><ellipse cx='91.9' cy='58.9' rx='1.8' ry='1.6' fill='#792569' fill-opacity='0.60'/><ellipse cx='28.2' cy='39.3' rx='1.6' ry='1.5' fill='#5d1a59' fill-opacity='0.69'/><ellipse cx='115.3' cy='32.4' rx='1.5' ry='1.5' fill='#631c5c' fill-opacity='0.85'/><ellipse cx='115.7' cy='37.5' rx='1.7' ry='1.7' fill='#691f60' fill-opacity='0.69'/><ellipse cx='121.6' cy='85.5' rx='1.3' ry='1.4' fill='#7c266b' fill-opacity='0.74'/><ellipse cx='64.0' cy='62.6' rx='1.7' ry='1.5' fill='#702264' fill-opacity='0.52'/><ellipse cx='82.7' cy='71.1' rx='1.7' ry='1.9' fill='#752467' fill-opacity='0.66'/><ellipse cx='39.6' cy='25.1' rx='2.0' ry='1.6' fill='#712264' fill-opacity='0.74'/><ellipse cx='79.2' cy='9.1' rx='1.5' ry='1.4' fill='#5b1957' fill-opacity='0.84'/><ellipse cx='115.3' cy='23.2' rx='2.0' ry='1.9' fill='#722265' fill-opacity='0.82'/><ellipse cx='94.6' cy='7.1' rx='2.0' ry='1.8' fill='#732366' fill-opacity='0.83'/><ellipse cx='82.9' cy='33.0' rx='1.8' ry='1.9' fill='#691f60' fill-opacity='0.57'/><ellipse cx='28.8' cy='105.9' rx='1.6' ry='1.6' fill='#702264' fill-opacity='0.74'/><ellipse cx='13.5' cy='63.2' rx='2.0' ry='1.9' fill='#691f5f' fill-opacity='0.50'/><ellipse cx='108.5' cy='29.6' rx='1.6' ry='1.7' fill='#611c5b' fill-opacity='0.76'/><ellipse cx='53.7' cy='86.8' rx='2.1' ry='1.9' fill='#6b2061' fill-opacity='0.83'/><ellipse cx='4.0' cy='43.8' rx='2.2' ry='1.8' fill='#601b5a' fill-opacity='0.81'/><ellipse cx='21.8' cy='81.4' rx='1.6' ry='1.4' fill='#712264' fill-opacity='0.56'/><ellipse cx='10.5' cy='115.5' rx='1.9' ry='1.9' fill='#80286d' fill-opacity='0.77'/><ellipse cx='3.2' cy='88.3' rx='1.8' ry='1.7' fill='#591956' fill-opacity='0.54'/><ellipse cx='2.7' cy='30.9' rx='1.5' ry='1.8' fill='#641d5c' fill-opacity='0.50'/><ellipse cx='103.3' cy='19.0' rx='1.7' ry='1.5' fill='#671e5f' fill-opacity='0.82'/><ellipse cx='49.0' cy='5.2' rx='2.2' ry='1.9' fill='#782569' fill-opacity='0.75'/><ellipse cx='78.1' cy='89.8' rx='1.6' ry='1.4' fill='#792569' fill-opacity='0.70'/><ellipse cx='14.4' cy='40.8' rx='1.9' ry='1.6' fill='#6b2061' fill-opacity='0.80'/><ellipse cx='3.9' cy='54.3' rx='1.2' ry='1.4' fill='#7d276c' fill-opacity='0.69'/><ellipse cx='114.6' cy='91.4' rx='1.8' ry='1.8' fill='#7e276c' fill-opacity='0.65'/><ellipse cx='109.5' cy='85.3' rx='1.5' ry='1.4' fill='#5f1b5a' fill-opacity='0.69'/><ellipse cx='60.0' cy='27.3' rx='2.0' ry='1.7' fill='#742366' fill-opacity='0.57'/><ellipse cx='13.0' cy='54.2' rx='1.7' ry='1.6' fill='#691f5f' fill-opacity='0.56'/><ellipse cx='111.1' cy='15.4' rx='1.7' ry='1.7' fill='#7a266a' fill-opacity='0.79'/><ellipse cx='74.3' cy='47.5' rx='1.4' ry='1.6' fill='#722365' fill-opacity='0.64'/><ellipse cx='65.4' cy='17.4' rx='2.1' ry='1.8' fill='#7f286d' fill-opacity='0.67'/><ellipse cx='121.9' cy='31.4' rx='1.4' ry='1.3' fill='#712264' fill-opacity='0.64'/><ellipse cx='2.3' cy='67.5' rx='1.4' ry='1.5' fill='#772468' fill-opacity='0.57'/><ellipse cx='17.9' cy='6.9' rx='1.9' ry='1.5' fill='#691f60' fill-opacity='0.65'/><ellipse cx='4.3' cy='19.5' rx='1.7' ry='1.6' fill='#702264' fill-opacity='0.54'/><ellipse cx='12.2' cy='76.8' rx='1.9' ry='1.8' fill='#762467' fill-opacity='0.83'/><ellipse cx='118.6' cy='120.3' rx='1.9' ry='1.5' fill='#7e276c' fill-opacity='0.84'/><ellipse cx='118.6' cy='-0.7' rx='1.9' ry='1.5' fill='#7e276c' fill-opacity='0.84'/><ellipse cx='29.5' cy='53.8' rx='1.3' ry='1.3' fill='#752467' fill-opacity='0.56'/><ellipse cx='31.8' cy='71.5' rx='1.8' ry='1.8' fill='#7e276c' fill-opacity='0.71'/><ellipse cx='79.3' cy='96.8' rx='1.5' ry='1.6' fill='#641d5d' fill-opacity='0.59'/><ellipse cx='90.1' cy='31.0' rx='2.3' ry='1.9' fill='#80286e' fill-opacity='0.56'/><ellipse cx='53.7' cy='63.7' rx='1.9' ry='1.8' fill='#772568' fill-opacity='0.59'/><ellipse cx='51.9' cy='13.5' rx='1.6' ry='1.8' fill='#762467' fill-opacity='0.83'/><ellipse cx='12.7' cy='22.0' rx='1.8' ry='1.5' fill='#671e5f' fill-opacity='0.65'/><ellipse cx='29.4' cy='26.3' rx='2.2' ry='1.9' fill='#7c266b' fill-opacity='0.73'/><ellipse cx='66.1' cy='56.2' rx='2.3' ry='1.8' fill='#601b5a' fill-opacity='0.72'/><ellipse cx='39.3' cy='77.7' rx='1.6' ry='1.4' fill='#6b2061' fill-opacity='0.63'/><ellipse cx='73.8' cy='6.2' rx='1.7' ry='1.6' fill='#5d1a58' fill-opacity='0.63'/><ellipse cx='23.0' cy='11.3' rx='1.6' ry='1.6' fill='#581855' fill-opacity='0.79'/><ellipse cx='101.9' cy='44.3' rx='1.4' ry='1.3' fill='#732365' fill-opacity='0.73'/><ellipse cx='77.5' cy='35.0' rx='1.4' ry='1.3' fill='#571855' fill-opacity='0.75'/><ellipse cx='124.9' cy='45.0' rx='1.3' ry='1.3' fill='#702264' fill-opacity='0.53'/><ellipse cx='2.4' cy='82.9' rx='2.0' ry='1.7' fill='#611c5b' fill-opacity='0.64'/><ellipse cx='106.8' cy='81.4' rx='1.6' ry='1.4' fill='#722365' fill-opacity='0.52'/><ellipse cx='52.2' cy='58.8' rx='1.6' ry='1.4' fill='#6a1f60' fill-opacity='0.85'/><ellipse cx='26.4' cy='71.2' rx='1.4' ry='1.4' fill='#7a266a' fill-opacity='0.64'/><ellipse cx='9.4' cy='34.4' rx='1.5' ry='1.4' fill='#5e1b59' fill-opacity='0.85'/><ellipse cx='47.4' cy='113.2' rx='1.4' ry='1.4' fill='#7b266a' fill-opacity='0.54'/><ellipse cx='9.7' cy='91.4' rx='1.4' ry='1.3' fill='#581855' fill-opacity='0.84'/><ellipse cx='95.7' cy='47.8' rx='1.5' ry='1.7' fill='#5d1a58' fill-opacity='0.63'/><ellipse cx='15.5' cy='14.7' rx='2.3' ry='1.8' fill='#571855' fill-opacity='0.83'/><ellipse cx='10.2' cy='102.9' rx='1.2' ry='1.4' fill='#631d5c' fill-opacity='0.56'/><ellipse cx='81.4' cy='116.1' rx='1.7' ry='1.6' fill='#6e2163' fill-opacity='0.81'/><ellipse cx='88.0' cy='3.0' rx='1.2' ry='1.4' fill='#6a1f60' fill-opacity='0.56'/><ellipse cx='83.7' cy='94.0' rx='1.9' ry='1.5' fill='#7c266b' fill-opacity='0.53'/><ellipse cx='45.4' cy='55.3' rx='1.8' ry='1.8' fill='#83296f' fill-opacity='0.71'/><ellipse cx='101.4' cy='32.5' rx='2.1' ry='1.8' fill='#5d1a59' fill-opacity='0.68'/><ellipse cx='121.2' cy='97.3' rx='1.9' ry='1.6' fill='#792569' fill-opacity='0.56'/><ellipse cx='118.4' cy='101.2' rx='1.6' ry='1.4' fill='#651d5d' fill-opacity='0.71'/><ellipse cx='116.7' cy='70.9' rx='1.3' ry='1.3' fill='#631d5c' fill-opacity='0.77'/><ellipse cx='103.9' cy='11.6' rx='1.8' ry='1.5' fill='#5f1b59' fill-opacity='0.85'/><ellipse cx='18.6' cy='50.4' rx='1.5' ry='1.5' fill='#83296f' fill-opacity='0.81'/><ellipse cx='113.7' cy='119.6' rx='1.2' ry='1.3' fill='#772468' fill-opacity='0.72'/><ellipse cx='82.3' cy='15.6' rx='1.4' ry='1.3' fill='#631d5c' fill-opacity='0.83'/><ellipse cx='85.2' cy='82.4' rx='2.1' ry='1.7' fill='#762467' fill-opacity='0.59'/><ellipse cx='120.6' cy='91.4' rx='1.8' ry='1.6' fill='#80286e' fill-opacity='0.71'/><ellipse cx='89.3' cy='48.9' rx='2.3' ry='1.9' fill='#83296f' fill-opacity='0.75'/><ellipse cx='126.4' cy='94.7' rx='1.5' ry='1.5' fill='#651d5d' fill-opacity='0.59'/><ellipse cx='-0.6' cy='94.7' rx='1.5' ry='1.5' fill='#651d5d' fill-opacity='0.59'/><ellipse cx='56.0' cy='3.6' rx='1.7' ry='1.9' fill='#651d5d' fill-opacity='0.59'/><ellipse cx='75.6' cy='106.7' rx='1.6' ry='1.8' fill='#80286e' fill-opacity='0.65'/><ellipse cx='22.9' cy='61.7' rx='1.9' ry='1.8' fill='#7d276b' fill-opacity='0.64'/><ellipse cx='61.3' cy='49.0' rx='1.8' ry='1.5' fill='#6f2163' fill-opacity='0.73'/><ellipse cx='90.2' cy='113.3' rx='1.5' ry='1.5' fill='#82296e' fill-opacity='0.71'/><ellipse cx='122.2' cy='40.0' rx='2.2' ry='1.8' fill='#611c5b' fill-opacity='0.69'/><ellipse cx='94.7' cy='79.7' rx='2.0' ry='1.8' fill='#7d276c' fill-opacity='0.69'/><ellipse cx='96.7' cy='103.1' rx='2.1' ry='1.8' fill='#621c5b' fill-opacity='0.84'/><ellipse cx='51.1' cy='80.7' rx='1.4' ry='1.6' fill='#712265' fill-opacity='0.83'/><ellipse cx='124.1' cy='76.8' rx='1.6' ry='1.4' fill='#7e276c' fill-opacity='0.52'/><ellipse cx='2.2' cy='114.1' rx='1.4' ry='1.5' fill='#621c5b' fill-opacity='0.52'/><ellipse cx='92.6' cy='73.4' rx='1.6' ry='1.5' fill='#742366' fill-opacity='0.78'/><ellipse cx='115.0' cy='107.0' rx='1.3' ry='1.4' fill='#6e2163' fill-opacity='0.82'/><ellipse cx='12.8' cy='98.7' rx='1.9' ry='1.7' fill='#601b5a' fill-opacity='0.61'/><ellipse cx='97.4' cy='24.1' rx='2.0' ry='1.8' fill='#6f2163' fill-opacity='0.57'/><ellipse cx='24.3' cy='97.3' rx='1.3' ry='1.3' fill='#772568' fill-opacity='0.70'/><ellipse cx='17.5' cy='74.1' rx='1.8' ry='1.7' fill='#671e5e' fill-opacity='0.67'/><ellipse cx='71.9' cy='56.5' rx='2.2' ry='1.8' fill='#5f1b5a' fill-opacity='0.84'/><ellipse cx='26.0' cy='117.0' rx='1.6' ry='1.4' fill='#7f286d' fill-opacity='0.59'/><ellipse cx='9.2' cy='0.4' rx='1.5' ry='1.4' fill='#7d276c' fill-opacity='0.80'/><ellipse cx='61.6' cy='81.7' rx='1.7' ry='1.7' fill='#782569' fill-opacity='0.72'/><ellipse cx='42.5' cy='32.3' rx='2.1' ry='1.8' fill='#7f286d' fill-opacity='0.69'/><ellipse cx='22.1' cy='90.8' rx='1.5' ry='1.5' fill='#6b2061' fill-opacity='0.74'/><ellipse cx='20.6' cy='46.2' rx='1.8' ry='1.8' fill='#7a266a' fill-opacity='0.57'/><ellipse cx='68.3' cy='46.3' rx='2.2' ry='1.9' fill='#6e2162' fill-opacity='0.51'/><ellipse cx='56.2' cy='105.3' rx='1.6' ry='1.4' fill='#6c2061' fill-opacity='0.82'/><ellipse cx='116.2' cy='9.3' rx='1.6' ry='1.8' fill='#571855' fill-opacity='0.59'/><ellipse cx='104.7' cy='36.8' rx='2.2' ry='1.9' fill='#601b5a' fill-opacity='0.56'/><ellipse cx='83.0' cy='47.5' rx='2.2' ry='1.8' fill='#772468' fill-opacity='0.69'/><ellipse cx='101.3' cy='76.1' rx='1.4' ry='1.7' fill='#581856' fill-opacity='0.79'/><ellipse cx='35.2' cy='115.9' rx='1.8' ry='1.9' fill='#712264' fill-opacity='0.72'/><ellipse cx='48.2' cy='44.1' rx='1.6' ry='1.9' fill='#671e5e' fill-opacity='0.70'/><ellipse cx='40.4' cy='9.4' rx='2.0' ry='1.7' fill='#7c276b' fill-opacity='0.72'/><ellipse cx='58.1' cy='20.1' rx='1.5' ry='1.6' fill='#702264' fill-opacity='0.79'/><ellipse cx='56.1' cy='77.4' rx='1.9' ry='1.5' fill='#7b266a' fill-opacity='0.76'/><ellipse cx='12.6' cy='28.8' rx='1.7' ry='1.8' fill='#752467' fill-opacity='0.72'/><ellipse cx='50.8' cy='99.6' rx='1.8' ry='1.8' fill='#7b266b' fill-opacity='0.58'/><ellipse cx='43.5' cy='106.3' rx='1.4' ry='1.6' fill='#782568' fill-opacity='0.53'/><ellipse cx='117.6' cy='60.8' rx='1.7' ry='1.9' fill='#792569' fill-opacity='0.64'/><ellipse cx='110.4' cy='113.2' rx='1.1' ry='1.3' fill='#5d1a59' fill-opacity='0.81'/><ellipse cx='50.2' cy='21.1' rx='1.7' ry='1.8' fill='#5f1b59' fill-opacity='0.78'/><ellipse cx='96.7' cy='52.8' rx='1.6' ry='1.7' fill='#792569' fill-opacity='0.68'/><ellipse cx='68.9' cy='28.6' rx='1.7' ry='1.6' fill='#621c5b' fill-opacity='0.84'/><ellipse cx='105.9' cy='47.2' rx='2.0' ry='1.7' fill='#651d5d' fill-opacity='0.65'/><ellipse cx='19.1' cy='38.3' rx='2.3' ry='1.9' fill='#7c266b' fill-opacity='0.83'/><ellipse cx='18.1' cy='24.7' rx='1.5' ry='1.3' fill='#641d5c' fill-opacity='0.53'/><ellipse cx='77.5' cy='40.7' rx='1.3' ry='1.4' fill='#7a266a' fill-opacity='0.57'/><ellipse cx='47.3' cy='92.9' rx='1.4' ry='1.5' fill='#7f286d' fill-opacity='0.59'/><ellipse cx='108.1' cy='52.0' rx='1.9' ry='1.8' fill='#621c5b' fill-opacity='0.70'/><ellipse cx='98.9' cy='16.1' rx='1.6' ry='1.7' fill='#6d2062' fill-opacity='0.58'/><ellipse cx='60.2' cy='75.0' rx='2.0' ry='1.8' fill='#611c5b' fill-opacity='0.59'/><ellipse cx='40.2' cy='101.4' rx='1.9' ry='1.9' fill='#671e5e' fill-opacity='0.61'/><ellipse cx='125.6' cy='101.7' rx='1.7' ry='1.6' fill='#80286d' fill-opacity='0.70'/><ellipse cx='-1.4' cy='101.7' rx='1.7' ry='1.6' fill='#80286d' fill-opacity='0.70'/><ellipse cx='66.6' cy='5.6' rx='1.7' ry='1.5' fill='#661e5e' fill-opacity='0.66'/><ellipse cx='16.3' cy='113.4' rx='2.3' ry='1.9' fill='#7b266a' fill-opacity='0.58'/><ellipse cx='101.3' cy='1.1' rx='1.3' ry='1.5' fill='#651d5d' fill-opacity='0.67'/><ellipse cx='22.0' cy='17.8' rx='2.0' ry='1.6' fill='#81296e' fill-opacity='0.54'/><ellipse cx='85.1' cy='11.1' rx='1.4' ry='1.5' fill='#621c5b' fill-opacity='0.69'/><ellipse cx='6.3' cy='108.7' rx='1.7' ry='1.5' fill='#792569' fill-opacity='0.60'/><ellipse cx='25.4' cy='111.1' rx='1.6' ry='1.4' fill='#782569' fill-opacity='0.75'/><ellipse cx='104.4' cy='63.3' rx='1.7' ry='1.6' fill='#611c5b' fill-opacity='0.54'/><ellipse cx='86.6' cy='105.9' rx='1.3' ry='1.5' fill='#7c276b' fill-opacity='0.54'/><ellipse cx='17.8' cy='59.5' rx='1.6' ry='1.5' fill='#6f2163' fill-opacity='0.76'/><ellipse cx='6.8' cy='26.0' rx='1.3' ry='1.4' fill='#5a1957' fill-opacity='0.73'/><ellipse cx='48.1' cy='75.3' rx='1.8' ry='1.8' fill='#732365' fill-opacity='0.82'/><ellipse cx='79.6' cy='25.4' rx='1.9' ry='1.6' fill='#732366' fill-opacity='0.54'/><ellipse cx='47.9' cy='36.0' rx='1.6' ry='1.7' fill='#762467' fill-opacity='0.52'/><ellipse cx='103.1' cy='68.1' rx='1.7' ry='1.4' fill='#651d5d' fill-opacity='0.63'/><ellipse cx='97.2' cy='119.4' rx='1.6' ry='1.6' fill='#702264' fill-opacity='0.65'/><ellipse cx='29.1' cy='85.1' rx='1.2' ry='1.3' fill='#752467' fill-opacity='0.67'/><ellipse cx='73.6' cy='78.1' rx='1.9' ry='1.8' fill='#571855' fill-opacity='0.81'/><ellipse cx='104.5' cy='101.1' rx='1.9' ry='1.8' fill='#6d2162' fill-opacity='0.55'/><ellipse cx='80.8' cy='65.9' rx='1.6' ry='1.4' fill='#6f2163' fill-opacity='0.50'/><ellipse cx='124.2' cy='108.8' rx='2.0' ry='1.8' fill='#702264' fill-opacity='0.62'/><ellipse cx='42.3' cy='65.1' rx='1.6' ry='1.5' fill='#82296f' fill-opacity='0.82'/><ellipse cx='24.4' cy='56.8' rx='2.0' ry='1.8' fill='#621c5b' fill-opacity='0.83'/><ellipse cx='72.8' cy='37.4' rx='1.4' ry='1.3' fill='#732366' fill-opacity='0.63'/><ellipse cx='78.2' cy='79.7' rx='1.4' ry='1.3' fill='#661e5e' fill-opacity='0.83'/><ellipse cx='92.0' cy='41.5' rx='1.5' ry='1.6' fill='#752467' fill-opacity='0.54'/><ellipse cx='81.9' cy='60.0' rx='1.6' ry='1.5' fill='#661e5e' fill-opacity='0.66'/><ellipse cx='101.7' cy='110.8' rx='1.5' ry='1.3' fill='#631d5c' fill-opacity='0.79'/><ellipse cx='111.0' cy='71.6' rx='1.5' ry='1.7' fill='#591856' fill-opacity='0.73'/><ellipse cx='89.2' cy='63.4' rx='1.4' ry='1.4' fill='#621c5b' fill-opacity='0.85'/><ellipse cx='7.9' cy='80.5' rx='1.7' ry='1.5' fill='#5b1957' fill-opacity='0.65'/><ellipse cx='49.7' cy='52.8' rx='1.4' ry='1.5' fill='#691f60' fill-opacity='0.54'/><ellipse cx='65.4' cy='12.2' rx='1.4' ry='1.3' fill='#7c266b' fill-opacity='0.80'/><ellipse cx='89.5' cy='88.9' rx='1.6' ry='1.7' fill='#681f5f' fill-opacity='0.74'/><ellipse cx='60.8' cy='15.6' rx='1.9' ry='1.5' fill='#772568' fill-opacity='0.62'/><ellipse cx='68.3' cy='74.5' rx='1.9' ry='1.6' fill='#571855' fill-opacity='0.67'/><ellipse cx='122.8' cy='3.1' rx='1.7' ry='1.4' fill='#6a1f60' fill-opacity='0.70'/><ellipse cx='109.5' cy='9.3' rx='1.4' ry='1.3' fill='#772468' fill-opacity='0.53'/><ellipse cx='5.7' cy='71.8' rx='1.8' ry='1.9' fill='#732366' fill-opacity='0.51'/><ellipse cx='31.3' cy='95.4' rx='1.5' ry='1.6' fill='#7f286d' fill-opacity='0.65'/><ellipse cx='113.6' cy='48.7' rx='1.9' ry='1.8' fill='#782568' fill-opacity='0.84'/><ellipse cx='0.8' cy='49.0' rx='1.5' ry='1.8' fill='#7e276c' fill-opacity='0.57'/><ellipse cx='63.5' cy='34.0' rx='2.2' ry='1.8' fill='#732365' fill-opacity='0.80'/><ellipse cx='55.6' cy='115.1' rx='1.4' ry='1.3' fill='#631c5c' fill-opacity='0.80'/><ellipse cx='56.2' cy='56.2' rx='1.7' ry='1.8' fill='#7f286d' fill-opacity='0.51'/><ellipse cx='27.9' cy='90.8' rx='1.6' ry='1.3' fill='#611c5b' fill-opacity='0.64'/><ellipse cx='78.9' cy='3.4' rx='1.7' ry='1.4' fill='#6d2062' fill-opacity='0.65'/><ellipse cx='72.3' cy='83.1' rx='1.6' ry='1.7' fill='#691f60' fill-opacity='0.53'/><ellipse cx='46.4' cy='102.5' rx='1.2' ry='1.3' fill='#83296f' fill-opacity='0.60'/><ellipse cx='70.6' cy='64.7' rx='1.3' ry='1.3' fill='#5d1a59' fill-opacity='0.71'/><ellipse cx='121.8' cy='14.2' rx='1.8' ry='1.7' fill='#772468' fill-opacity='0.57'/><ellipse cx='3.9' cy='59.7' rx='1.6' ry='1.7' fill='#83296f' fill-opacity='0.65'/><ellipse cx='111.1' cy='77.3' rx='1.4' ry='1.4' fill='#762468' fill-opacity='0.78'/><ellipse cx='72.2' cy='87.9' rx='1.6' ry='1.8' fill='#80286e' fill-opacity='0.63'/><ellipse cx='74.4' cy='28.8' rx='1.9' ry='1.9' fill='#621c5b' fill-opacity='0.85'/><ellipse cx='25.0' cy='22.4' rx='1.6' ry='1.6' fill='#6b2061' fill-opacity='0.53'/><ellipse cx='1.3' cy='106.2' rx='1.4' ry='1.3' fill='#6c2062' fill-opacity='0.54'/><ellipse cx='38.7' cy='69.1' rx='1.8' ry='1.6' fill='#80286d' fill-opacity='0.79'/><ellipse cx='61.4' cy='9.0' rx='2.0' ry='1.8' fill='#681f5f' fill-opacity='0.78'/><ellipse cx='81.9' cy='102.8' rx='2.2' ry='1.8' fill='#7e276c' fill-opacity='0.73'/><ellipse cx='3.7' cy='14.4' rx='1.3' ry='1.3' fill='#80286e' fill-opacity='0.67'/><ellipse cx='17.4' cy='89.3' rx='1.4' ry='1.4' fill='#651d5d' fill-opacity='0.69'/><ellipse cx='117.5' cy='79.0' rx='1.6' ry='1.3' fill='#661e5e' fill-opacity='0.56'/><ellipse cx='43.8' cy='22.4' rx='1.6' ry='1.3' fill='#772468' fill-opacity='0.77'/><ellipse cx='34.1' cy='65.4' rx='2.1' ry='1.8' fill='#772568' fill-opacity='0.72'/><ellipse cx='43.7' cy='47.6' rx='2.0' ry='1.8' fill='#6d2162' fill-opacity='0.84'/><ellipse cx='105.9' cy='23.0' rx='1.6' ry='1.5' fill='#641d5c' fill-opacity='0.72'/><ellipse cx='19.6' cy='32.5' rx='1.8' ry='1.5' fill='#6c2061' fill-opacity='0.65'/><ellipse cx='33.8' cy='31.1' rx='1.4' ry='1.3' fill='#5a1956' fill-opacity='0.68'/><ellipse cx='29.6' cy='62.6' rx='1.2' ry='1.3' fill='#6b2061' fill-opacity='0.55'/><ellipse cx='65.5' cy='89.2' rx='1.9' ry='1.8' fill='#571855' fill-opacity='0.57'/><ellipse cx='123.7' cy='53.8' rx='1.9' ry='1.8' fill='#7a266a' fill-opacity='0.68'/><ellipse cx='6.0' cy='38.8' rx='1.9' ry='1.8' fill='#6f2163' fill-opacity='0.77'/><ellipse cx='53.1' cy='27.4' rx='1.4' ry='1.3' fill='#80286d' fill-opacity='0.57'/><ellipse cx='17.1' cy='84.0' rx='1.5' ry='1.7' fill='#6d2062' fill-opacity='0.63'/><ellipse cx='122.9' cy='70.3' rx='1.6' ry='1.6' fill='#5a1957' fill-opacity='0.69'/><ellipse cx='119.4' cy='109.7' rx='1.2' ry='1.3' fill='#671e5e' fill-opacity='0.66'/><ellipse cx='112.6' cy='3.7' rx='1.7' ry='1.9' fill='#641d5d' fill-opacity='0.53'/><ellipse cx='77.1' cy='58.1' rx='1.3' ry='1.3' fill='#6a1f60' fill-opacity='0.51'/><ellipse cx='42.9' cy='37.3' rx='2.0' ry='1.9' fill='#621c5b' fill-opacity='0.75'/><ellipse cx='37.3' cy='95.5' rx='1.4' ry='1.4' fill='#6a1f60' fill-opacity='0.51'/><ellipse cx='14.2' cy='68.2' rx='1.3' ry='1.3' fill='#5c1a58' fill-opacity='0.66'/><ellipse cx='97.7' cy='36.5' rx='1.7' ry='1.4' fill='#5d1a59' fill-opacity='0.60'/><ellipse cx='74.5' cy='101.8' rx='2.0' ry='1.9' fill='#641d5d' fill-opacity='0.51'/><ellipse cx='108.2' cy='120.1' rx='1.9' ry='1.9' fill='#611c5b' fill-opacity='0.85'/><ellipse cx='108.2' cy='-0.9' rx='1.9' ry='1.9' fill='#611c5b' fill-opacity='0.85'/><ellipse cx='34.7' cy='75.4' rx='1.5' ry='1.4' fill='#5a1957' fill-opacity='0.60'/><ellipse cx='15.1' cy='34.9' rx='1.5' ry='1.5' fill='#681e5f' fill-opacity='0.75'/><ellipse cx='35.1' cy='84.7' rx='1.2' ry='1.3' fill='#5b1957' fill-opacity='0.80'/><ellipse cx='36.5' cy='0.5' rx='1.6' ry='1.5' fill='#752467' fill-opacity='0.84'/><ellipse cx='26.5' cy='32.2' rx='1.8' ry='1.8' fill='#722365' fill-opacity='0.78'/><ellipse cx='18.4' cy='66.0' rx='1.3' ry='1.4' fill='#6f2163' fill-opacity='0.72'/><ellipse cx='42.5' cy='94.8' rx='1.7' ry='1.7' fill='#6b2061' fill-opacity='0.63'/><ellipse cx='6.9' cy='97.7' rx='1.5' ry='1.5' fill='#671e5e' fill-opacity='0.84'/><ellipse cx='98.1' cy='58.8' rx='1.9' ry='1.6' fill='#571855' fill-opacity='0.60'/><ellipse cx='76.8' cy='85.3' rx='1.8' ry='1.6' fill='#752467' fill-opacity='0.82'/><ellipse cx='59.1' cy='95.0' rx='2.1' ry='1.9' fill='#7d276c' fill-opacity='0.57'/><ellipse cx='113.6' cy='42.8' rx='1.4' ry='1.3' fill='#732366' fill-opacity='0.82'/><ellipse cx='74.7' cy='67.2' rx='1.8' ry='1.9' fill='#702264' fill-opacity='0.77'/><ellipse cx='50.2' cy='120.3' rx='1.7' ry='1.4' fill='#5a1957' fill-opacity='0.55'/><ellipse cx='50.2' cy='-0.7' rx='1.7' ry='1.4' fill='#5a1957' fill-opacity='0.55'/><ellipse cx='31.5' cy='80.4' rx='1.6' ry='1.3' fill='#792569' fill-opacity='0.59'/><ellipse cx='33.6' cy='104.8' rx='2.2' ry='1.9' fill='#581856' fill-opacity='0.70'/><ellipse cx='89.7' cy='98.6' rx='1.8' ry='1.6' fill='#581855' fill-opacity='0.67'/><ellipse cx='38.3' cy='58.8' rx='1.4' ry='1.6' fill='#5e1a59' fill-opacity='0.69'/><ellipse cx='67.3' cy='22.1' rx='1.4' ry='1.4' fill='#661e5e' fill-opacity='0.67'/><ellipse cx='74.1' cy='52.3' rx='1.3' ry='1.4' fill='#81286e' fill-opacity='0.54'/><ellipse cx='68.8' cy='96.9' rx='2.1' ry='1.8' fill='#651d5d' fill-opacity='0.80'/><ellipse cx='61.6' cy='105.6' rx='1.8' ry='1.6' fill='#732366' fill-opacity='0.63'/><ellipse cx='25.4' cy='1.4' rx='2.3' ry='1.9' fill='#732365' fill-opacity='0.63'/><ellipse cx='70.2' cy='41.6' rx='1.2' ry='1.3' fill='#782569' fill-opacity='0.83'/><ellipse cx='9.9' cy='6.2' rx='2.1' ry='1.7' fill='#5b1957' fill-opacity='0.64'/><ellipse cx='34.0' cy='11.7' rx='1.2' ry='1.3' fill='#5f1b5a' fill-opacity='0.55'/><ellipse cx='46.5' cy='87.7' rx='1.5' ry='1.4' fill='#82296e' fill-opacity='0.71'/><ellipse cx='105.7' cy='3.3' rx='1.8' ry='1.8' fill='#742366' fill-opacity='0.84'/><ellipse cx='31.0' cy='100.2' rx='2.0' ry='1.6' fill='#7f286d' fill-opacity='0.61'/><ellipse cx='67.3' cy='82.6' rx='1.4' ry='1.5' fill='#6b2061' fill-opacity='0.64'/><ellipse cx='89.3' cy='14.0' rx='1.6' ry='1.5' fill='#762468' fill-opacity='0.80'/><ellipse cx='96.3' cy='64.4' rx='1.4' ry='1.3' fill='#712264' fill-opacity='0.73'/><ellipse cx='42.4' cy='4.7' rx='1.4' ry='1.4' fill='#591956' fill-opacity='0.68'/><ellipse cx='69.7' cy='119.5' rx='2.1' ry='1.8' fill='#7d276c' fill-opacity='0.52'/><ellipse cx='69.7' cy='-1.5' rx='2.1' ry='1.8' fill='#7d276c' fill-opacity='0.52'/><ellipse cx='15.1' cy='46.3' rx='1.9' ry='1.6' fill='#6a1f60' fill-opacity='0.66'/><ellipse cx='40.1' cy='52.9' rx='1.3' ry='1.3' fill='#81286e' fill-opacity='0.82'/><ellipse cx='44.0' cy='79.3' rx='2.1' ry='1.9' fill='#7b266a' fill-opacity='0.74'/><ellipse cx='36.5' cy='19.4' rx='1.7' ry='1.8' fill='#702264' fill-opacity='0.78'/></pattern><pattern id='tC' patternUnits='userSpaceOnUse' width='123' height='113'><ellipse cx='29.3' cy='61.5' rx='1.8' ry='1.6' fill='#5e1d6a' fill-opacity='0.55'/><ellipse cx='45.5' cy='68.2' rx='1.5' ry='1.5' fill='#611f6c' fill-opacity='0.63'/><ellipse cx='77.0' cy='7.4' rx='1.9' ry='1.5' fill='#66206f' fill-opacity='0.84'/><ellipse cx='1.6' cy='94.6' rx='2.3' ry='1.8' fill='#702575' fill-opacity='0.60'/><ellipse cx='31.9' cy='26.5' rx='1.7' ry='1.5' fill='#501862' fill-opacity='0.68'/><ellipse cx='122.5' cy='53.1' rx='1.9' ry='1.5' fill='#682170' fill-opacity='0.60'/><ellipse cx='-0.5' cy='53.1' rx='1.9' ry='1.5' fill='#682170' fill-opacity='0.60'/><ellipse cx='102.9' cy='53.8' rx='1.9' ry='1.6' fill='#601e6b' fill-opacity='0.69'/><ellipse cx='78.6' cy='17.0' rx='2.1' ry='1.9' fill='#621f6d' fill-opacity='0.65'/><ellipse cx='78.1' cy='98.1' rx='1.6' ry='1.3' fill='#5e1d6a' fill-opacity='0.80'/><ellipse cx='64.4' cy='83.8' rx='1.7' ry='1.3' fill='#712576' fill-opacity='0.63'/><ellipse cx='82.6' cy='7.2' rx='1.8' ry='1.5' fill='#541964' fill-opacity='0.69'/><ellipse cx='93.3' cy='66.8' rx='1.6' ry='1.6' fill='#722576' fill-opacity='0.75'/><ellipse cx='37.1' cy='3.5' rx='1.5' ry='1.5' fill='#611f6c' fill-opacity='0.64'/><ellipse cx='88.4' cy='99.3' rx='1.5' ry='1.7' fill='#722576' fill-opacity='0.70'/><ellipse cx='87.8' cy='104.1' rx='1.3' ry='1.4' fill='#5b1c69' fill-opacity='0.72'/><ellipse cx='48.6' cy='90.5' rx='1.2' ry='1.3' fill='#591b67' fill-opacity='0.60'/><ellipse cx='54.7' cy='105.7' rx='1.9' ry='1.6' fill='#742677' fill-opacity='0.69'/><ellipse cx='108.1' cy='11.0' rx='1.8' ry='1.8' fill='#702575' fill-opacity='0.82'/><ellipse cx='16.7' cy='24.5' rx='1.7' ry='1.7' fill='#501862' fill-opacity='0.81'/><ellipse cx='118.8' cy='49.3' rx='1.5' ry='1.6' fill='#732677' fill-opacity='0.60'/><ellipse cx='77.1' cy='34.0' rx='1.5' ry='1.8' fill='#65206f' fill-opacity='0.53'/><ellipse cx='62.4' cy='43.6' rx='1.4' ry='1.5' fill='#4b165f' fill-opacity='0.79'/><ellipse cx='71.9' cy='102.2' rx='1.5' ry='1.5' fill='#5c1c69' fill-opacity='0.68'/><ellipse cx='105.3' cy='112.0' rx='1.5' ry='1.7' fill='#682170' fill-opacity='0.65'/><ellipse cx='105.3' cy='-1.0' rx='1.5' ry='1.7' fill='#682170' fill-opacity='0.65'/><ellipse cx='111.3' cy='64.3' rx='1.9' ry='1.9' fill='#6a2271' fill-opacity='0.53'/><ellipse cx='87.8' cy='23.9' rx='1.5' ry='1.8' fill='#772779' fill-opacity='0.52'/><ellipse cx='102.3' cy='64.8' rx='1.9' ry='1.6' fill='#5d1d6a' fill-opacity='0.81'/><ellipse cx='10.9' cy='90.5' rx='1.8' ry='1.5' fill='#5d1d6a' fill-opacity='0.70'/><ellipse cx='50.5' cy='17.0' rx='1.6' ry='1.4' fill='#5c1d69' fill-opacity='0.53'/><ellipse cx='36.1' cy='86.9' rx='1.4' ry='1.3' fill='#752678' fill-opacity='0.68'/><ellipse cx='107.4' cy='5.0' rx='1.6' ry='1.4' fill='#551a65' fill-opacity='0.66'/><ellipse cx='88.4' cy='37.4' rx='1.8' ry='1.6' fill='#571b66' fill-opacity='0.84'/><ellipse cx='62.2' cy='112.8' rx='2.0' ry='1.6' fill='#541964' fill-opacity='0.60'/><ellipse cx='62.2' cy='-0.2' rx='2.0' ry='1.6' fill='#541964' fill-opacity='0.60'/><ellipse cx='38.1' cy='8.7' rx='1.4' ry='1.4' fill='#621f6d' fill-opacity='0.72'/><ellipse cx='73.8' cy='3.5' rx='2.0' ry='1.8' fill='#732677' fill-opacity='0.80'/><ellipse cx='24.3' cy='46.1' rx='1.4' ry='1.4' fill='#4d1760' fill-opacity='0.65'/><ellipse cx='5.2' cy='98.1' rx='1.7' ry='1.4' fill='#722576' fill-opacity='0.58'/><ellipse cx='38.6' cy='108.3' rx='1.9' ry='1.9' fill='#501862' fill-opacity='0.82'/><ellipse cx='110.3' cy='42.7' rx='1.5' ry='1.4' fill='#531964' fill-opacity='0.51'/><ellipse cx='56.6' cy='58.8' rx='1.3' ry='1.5' fill='#712575' fill-opacity='0.79'/><ellipse cx='79.2' cy='67.3' rx='1.5' ry='1.5' fill='#5c1d69' fill-opacity='0.56'/><ellipse cx='68.8' cy='70.1' rx='1.3' ry='1.5' fill='#6a2271' fill-opacity='0.62'/><ellipse cx='115.7' cy='57.3' rx='1.4' ry='1.4' fill='#5e1d6a' fill-opacity='0.70'/><ellipse cx='53.0' cy='81.4' rx='1.9' ry='1.7' fill='#541964' fill-opacity='0.73'/><ellipse cx='29.2' cy='34.0' rx='1.5' ry='1.4' fill='#6c2373' fill-opacity='0.64'/><ellipse cx='120.3' cy='58.9' rx='1.4' ry='1.7' fill='#67216f' fill-opacity='0.65'/><ellipse cx='67.5' cy='1.3' rx='1.9' ry='1.8' fill='#712576' fill-opacity='0.67'/><ellipse cx='51.1' cy='65.5' rx='1.4' ry='1.5' fill='#732677' fill-opacity='0.74'/><ellipse cx='2.5' cy='69.6' rx='2.2' ry='1.8' fill='#772779' fill-opacity='0.62'/><ellipse cx='77.2' cy='52.7' rx='1.6' ry='1.6' fill='#531963' fill-opacity='0.75'/><ellipse cx='83.6' cy='39.8' rx='1.8' ry='1.7' fill='#65206e' fill-opacity='0.54'/><ellipse cx='87.0' cy='83.4' rx='2.2' ry='1.8' fill='#601e6b' fill-opacity='0.69'/><ellipse cx='2.7' cy='6.8' rx='1.8' ry='1.6' fill='#611e6c' fill-opacity='0.70'/><ellipse cx='83.2' cy='108.9' rx='1.5' ry='1.4' fill='#4f1761' fill-opacity='0.77'/><ellipse cx='30.9' cy='51.6' rx='1.6' ry='1.5' fill='#732677' fill-opacity='0.81'/><ellipse cx='72.9' cy='36.2' rx='1.8' ry='1.9' fill='#702575' fill-opacity='0.76'/><ellipse cx='44.8' cy='35.3' rx='1.3' ry='1.3' fill='#692271' fill-opacity='0.76'/><ellipse cx='36.9' cy='42.6' rx='1.8' ry='1.6' fill='#64206e' fill-opacity='0.59'/><ellipse cx='95.0' cy='3.0' rx='1.8' ry='1.6' fill='#5c1c69' fill-opacity='0.54'/><ellipse cx='70.0' cy='83.1' rx='1.5' ry='1.5' fill='#6b2372' fill-opacity='0.56'/><ellipse cx='38.1' cy='25.1' rx='1.3' ry='1.4' fill='#5d1d6a' fill-opacity='0.70'/><ellipse cx='98.9' cy='27.0' rx='1.4' ry='1.3' fill='#601e6c' fill-opacity='0.57'/><ellipse cx='85.9' cy='11.5' rx='1.7' ry='1.4' fill='#4f1761' fill-opacity='0.69'/><ellipse cx='39.6' cy='37.7' rx='1.6' ry='1.8' fill='#621f6c' fill-opacity='0.64'/><ellipse cx='105.2' cy='19.1' rx='1.3' ry='1.5' fill='#591b67' fill-opacity='0.83'/><ellipse cx='41.4' cy='73.5' rx='1.8' ry='1.9' fill='#601e6b' fill-opacity='0.65'/><ellipse cx='108.8' cy='51.0' rx='2.0' ry='1.9' fill='#531964' fill-opacity='0.70'/><ellipse cx='27.7' cy='13.7' rx='1.7' ry='1.4' fill='#551a65' fill-opacity='0.84'/><ellipse cx='65.1' cy='21.6' rx='2.0' ry='1.7' fill='#732677' fill-opacity='0.53'/><ellipse cx='99.2' cy='94.7' rx='2.2' ry='1.8' fill='#551a65' fill-opacity='0.66'/><ellipse cx='22.6' cy='31.5' rx='1.7' ry='1.5' fill='#6d2373' fill-opacity='0.56'/><ellipse cx='99.3' cy='72.5' rx='1.8' ry='1.5' fill='#611f6c' fill-opacity='0.63'/><ellipse cx='99.2' cy='39.0' rx='1.8' ry='1.7' fill='#611f6c' fill-opacity='0.74'/><ellipse cx='16.0' cy='33.0' rx='1.9' ry='1.8' fill='#561a65' fill-opacity='0.69'/><ellipse cx='42.6' cy='47.1' rx='1.7' ry='1.5' fill='#4d1660' fill-opacity='0.56'/><ellipse cx='51.6' cy='46.3' rx='1.8' ry='1.4' fill='#6d2373' fill-opacity='0.68'/><ellipse cx='113.2' cy='17.6' rx='1.6' ry='1.8' fill='#6b2372' fill-opacity='0.63'/><ellipse cx='0.6' cy='106.6' rx='1.5' ry='1.6' fill='#6c2373' fill-opacity='0.82'/><ellipse cx='114.1' cy='25.1' rx='1.5' ry='1.4' fill='#772779' fill-opacity='0.76'/><ellipse cx='91.7' cy='94.5' rx='1.9' ry='1.7' fill='#511863' fill-opacity='0.69'/><ellipse cx='81.5' cy='58.6' rx='1.8' ry='1.7' fill='#521863' fill-opacity='0.55'/><ellipse cx='28.0' cy='7.7' rx='1.6' ry='1.8' fill='#511862' fill-opacity='0.50'/><ellipse cx='99.7' cy='5.1' rx='2.2' ry='1.8' fill='#5c1d69' fill-opacity='0.66'/><ellipse cx='111.1' cy='78.4' rx='1.4' ry='1.7' fill='#561a66' fill-opacity='0.75'/><ellipse cx='113.6' cy='101.3' rx='1.3' ry='1.5' fill='#6a2271' fill-opacity='0.56'/><ellipse cx='1.6' cy='84.2' rx='1.4' ry='1.6' fill='#591b67' fill-opacity='0.84'/><ellipse cx='31.1' cy='97.4' rx='1.8' ry='1.8' fill='#5c1c69' fill-opacity='0.78'/><ellipse cx='58.7' cy='88.4' rx='1.8' ry='1.7' fill='#591b67' fill-opacity='0.58'/><ellipse cx='43.3' cy='22.3' rx='1.8' ry='1.8' fill='#5a1c68' fill-opacity='0.58'/><ellipse cx='65.8' cy='92.3' rx='1.5' ry='1.4' fill='#591b67' fill-opacity='0.70'/><ellipse cx='21.1' cy='89.5' rx='1.4' ry='1.7' fill='#581b66' fill-opacity='0.51'/><ellipse cx='113.4' cy='91.1' rx='1.4' ry='1.5' fill='#531964' fill-opacity='0.70'/><ellipse cx='6.1' cy='30.7' rx='2.0' ry='1.8' fill='#66206f' fill-opacity='0.73'/><ellipse cx='52.0' cy='53.4' rx='1.4' ry='1.6' fill='#5e1d6a' fill-opacity='0.61'/><ellipse cx='6.7' cy='14.3' rx='2.2' ry='1.8' fill='#611f6c' fill-opacity='0.53'/><ellipse cx='15.3' cy='7.7' rx='1.5' ry='1.6' fill='#67216f' fill-opacity='0.65'/><ellipse cx='119.9' cy='96.6' rx='2.4' ry='1.9' fill='#521963' fill-opacity='0.63'/><ellipse cx='10.6' cy='56.7' rx='1.3' ry='1.4' fill='#611e6c' fill-opacity='0.67'/><ellipse cx='72.2' cy='40.8' rx='1.9' ry='1.9' fill='#5d1d6a' fill-opacity='0.50'/><ellipse cx='23.5' cy='37.2' rx='1.6' ry='1.3' fill='#6a2272' fill-opacity='0.80'/><ellipse cx='15.2' cy='62.8' rx='1.4' ry='1.3' fill='#692271' fill-opacity='0.61'/><ellipse cx='88.1' cy='43.0' rx='1.6' ry='1.5' fill='#581b67' fill-opacity='0.55'/><ellipse cx='9.8' cy='20.2' rx='1.7' ry='1.4' fill='#762779' fill-opacity='0.52'/><ellipse cx='96.3' cy='43.0' rx='1.5' ry='1.4' fill='#4e1761' fill-opacity='0.76'/><ellipse cx='61.0' cy='79.4' rx='1.6' ry='1.8' fill='#611f6c' fill-opacity='0.72'/><ellipse cx='56.7' cy='27.7' rx='1.5' ry='1.7' fill='#621f6c' fill-opacity='0.84'/><ellipse cx='65.9' cy='78.6' rx='1.4' ry='1.3' fill='#692271' fill-opacity='0.82'/><ellipse cx='8.8' cy='48.0' rx='1.8' ry='1.7' fill='#64206e' fill-opacity='0.64'/><ellipse cx='52.4' cy='99.4' rx='1.9' ry='1.7' fill='#4c165f' fill-opacity='0.61'/><ellipse cx='115.2' cy='42.3' rx='1.4' ry='1.5' fill='#601e6b' fill-opacity='0.59'/><ellipse cx='0.6' cy='16.2' rx='1.8' ry='1.7' fill='#6c2373' fill-opacity='0.83'/><ellipse cx='11.3' cy='11.2' rx='1.3' ry='1.4' fill='#5a1c68' fill-opacity='0.52'/><ellipse cx='14.9' cy='95.4' rx='1.5' ry='1.7' fill='#66206f' fill-opacity='0.58'/><ellipse cx='82.8' cy='94.5' rx='1.3' ry='1.4' fill='#531963' fill-opacity='0.68'/><ellipse cx='117.1' cy='65.4' rx='1.9' ry='1.8' fill='#64206e' fill-opacity='0.62'/><ellipse cx='94.4' cy='57.8' rx='1.3' ry='1.3' fill='#6b2372' fill-opacity='0.76'/><ellipse cx='7.5' cy='36.6' rx='1.6' ry='1.7' fill='#571a66' fill-opacity='0.58'/><ellipse cx='29.8' cy='20.3' rx='1.6' ry='1.4' fill='#66206f' fill-opacity='0.72'/><ellipse cx='30.7' cy='69.6' rx='1.4' ry='1.4' fill='#6d2373' fill-opacity='0.67'/><ellipse cx='91.9' cy='18.2' rx='1.6' ry='1.6' fill='#5e1d6a' fill-opacity='0.57'/><ellipse cx='59.5' cy='72.7' rx='1.6' ry='1.7' fill='#6b2272' fill-opacity='0.82'/><ellipse cx='11.8' cy='84.5' rx='2.3' ry='1.8' fill='#6f2474' fill-opacity='0.75'/><ellipse cx='24.5' cy='66.2' rx='1.2' ry='1.4' fill='#6d2373' fill-opacity='0.81'/><ellipse cx='36.4' cy='79.7' rx='2.0' ry='1.7' fill='#752778' fill-opacity='0.60'/><ellipse cx='71.9' cy='30.2' rx='1.7' ry='1.8' fill='#5e1d6a' fill-opacity='0.55'/><ellipse cx='26.8' cy='2.6' rx='1.8' ry='1.8' fill='#5d1d6a' fill-opacity='0.61'/><ellipse cx='17.7' cy='112.0' rx='2.3' ry='1.9' fill='#561a65' fill-opacity='0.51'/><ellipse cx='17.7' cy='-1.0' rx='2.3' ry='1.9' fill='#561a65' fill-opacity='0.51'/><ellipse cx='59.0' cy='67.7' rx='1.4' ry='1.5' fill='#5c1c69' fill-opacity='0.84'/><ellipse cx='57.6' cy='94.3' rx='1.3' ry='1.4' fill='#722576' fill-opacity='0.59'/><ellipse cx='105.4' cy='45.2' rx='1.8' ry='1.9' fill='#551a65' fill-opacity='0.82'/><ellipse cx='90.2' cy='108.5' rx='1.6' ry='1.5' fill='#541964' fill-opacity='0.69'/><ellipse cx='28.9' cy='81.1' rx='1.8' ry='1.5' fill='#611f6c' fill-opacity='0.60'/><ellipse cx='105.0' cy='27.4' rx='1.6' ry='1.9' fill='#6c2373' fill-opacity='0.79'/><ellipse cx='23.0' cy='79.6' rx='1.8' ry='1.5' fill='#541964' fill-opacity='0.55'/><ellipse cx='105.6' cy='101.7' rx='1.7' ry='1.8' fill='#742677' fill-opacity='0.70'/><ellipse cx='71.4' cy='76.3' rx='1.5' ry='1.6' fill='#4d1760' fill-opacity='0.82'/><ellipse cx='0.8' cy='37.8' rx='1.8' ry='1.5' fill='#752778' fill-opacity='0.57'/><ellipse cx='67.0' cy='13.5' rx='1.8' ry='1.5' fill='#682170' fill-opacity='0.54'/><ellipse cx='33.8' cy='75.2' rx='1.7' ry='1.5' fill='#5a1c68' fill-opacity='0.73'/><ellipse cx='13.8' cy='100.3' rx='1.2' ry='1.5' fill='#501862' fill-opacity='0.70'/><ellipse cx='95.0' cy='85.6' rx='1.8' ry='1.8' fill='#5a1c68' fill-opacity='0.56'/><ellipse cx='118.2' cy='76.0' rx='1.4' ry='1.4' fill='#591b67' fill-opacity='0.69'/><ellipse cx='88.3' cy='76.7' rx='1.7' ry='1.5' fill='#581b66' fill-opacity='0.67'/><ellipse cx='69.7' cy='20.6' rx='1.4' ry='1.6' fill='#6d2373' fill-opacity='0.67'/><ellipse cx='22.0' cy='100.6' rx='1.4' ry='1.4' fill='#712575' fill-opacity='0.67'/><ellipse cx='40.8' cy='81.4' rx='1.6' ry='1.6' fill='#712575' fill-opacity='0.63'/><ellipse cx='73.5' cy='62.7' rx='1.6' ry='1.5' fill='#4b165f' fill-opacity='0.69'/><ellipse cx='38.4' cy='19.9' rx='1.8' ry='1.6' fill='#5f1e6b' fill-opacity='0.67'/><ellipse cx='8.4' cy='80.9' rx='1.7' ry='1.4' fill='#772779' fill-opacity='0.54'/><ellipse cx='62.1' cy='27.9' rx='1.2' ry='1.4' fill='#6e2474' fill-opacity='0.59'/><ellipse cx='43.4' cy='95.7' rx='2.0' ry='1.6' fill='#702575' fill-opacity='0.80'/><ellipse cx='22.7' cy='21.4' rx='1.7' ry='1.9' fill='#4d1660' fill-opacity='0.63'/><ellipse cx='100.3' cy='84.6' rx='2.0' ry='1.8' fill='#5f1e6b' fill-opacity='0.76'/><ellipse cx='72.8' cy='16.6' rx='2.0' ry='1.9' fill='#692271' fill-opacity='0.81'/><ellipse cx='49.0' cy='21.9' rx='1.2' ry='1.3' fill='#732677' fill-opacity='0.53'/><ellipse cx='64.9' cy='64.2' rx='1.5' ry='1.8' fill='#571b66' fill-opacity='0.73'/><ellipse cx='98.8' cy='100.7' rx='1.5' ry='1.4' fill='#6b2272' fill-opacity='0.51'/><ellipse cx='77.9' cy='110.4' rx='2.1' ry='1.9' fill='#541964' fill-opacity='0.75'/><ellipse cx='84.5' cy='33.8' rx='1.4' ry='1.7' fill='#6d2373' fill-opacity='0.74'/><ellipse cx='64.4' cy='52.0' rx='1.3' ry='1.4' fill='#631f6d' fill-opacity='0.84'/><ellipse cx='23.8' cy='59.8' rx='1.7' ry='1.7' fill='#501862' fill-opacity='0.80'/><ellipse cx='4.6' cy='56.6' rx='1.8' ry='1.6' fill='#692271' fill-opacity='0.55'/><ellipse cx='69.6' cy='108.4' rx='1.7' ry='1.8' fill='#712576' fill-opacity='0.60'/><ellipse cx='66.3' cy='105.1' rx='1.4' ry='1.4' fill='#732677' fill-opacity='0.65'/><ellipse cx='99.2' cy='105.3' rx='1.6' ry='1.6' fill='#6a2271' fill-opacity='0.61'/><ellipse cx='19.8' cy='56.2' rx='1.5' ry='1.8' fill='#6d2373' fill-opacity='0.60'/><ellipse cx='86.0' cy='60.7' rx='1.9' ry='1.9' fill='#6b2372' fill-opacity='0.71'/><ellipse cx='51.9' cy='73.4' rx='1.7' ry='1.9' fill='#5e1d6a' fill-opacity='0.58'/><ellipse cx='37.5' cy='52.5' rx='1.9' ry='1.5' fill='#66206f' fill-opacity='0.63'/><ellipse cx='45.6' cy='59.8' rx='1.8' ry='1.7' fill='#5f1e6b' fill-opacity='0.73'/><ellipse cx='73.4' cy='25.3' rx='1.7' ry='1.7' fill='#611e6c' fill-opacity='0.68'/><ellipse cx='0.3' cy='23.6' rx='1.7' ry='1.8' fill='#531964' fill-opacity='0.77'/><ellipse cx='96.3' cy='16.2' rx='1.9' ry='1.8' fill='#4e1760' fill-opacity='0.67'/><ellipse cx='56.6' cy='22.1' rx='1.6' ry='1.7' fill='#541964' fill-opacity='0.59'/><ellipse cx='7.3' cy='2.5' rx='1.5' ry='1.6' fill='#64206e' fill-opacity='0.50'/><ellipse cx='76.6' cy='39.1' rx='1.5' ry='1.4' fill='#762778' fill-opacity='0.66'/><ellipse cx='89.5' cy='31.1' rx='1.6' ry='1.5' fill='#682170' fill-opacity='0.78'/><ellipse cx='96.9' cy='52.6' rx='1.1' ry='1.3' fill='#5e1d6a' fill-opacity='0.67'/><ellipse cx='114.7' cy='34.0' rx='2.0' ry='1.8' fill='#591b67' fill-opacity='0.60'/><ellipse cx='42.4' cy='10.6' rx='1.7' ry='1.7' fill='#611e6c' fill-opacity='0.80'/><ellipse cx='21.0' cy='4.1' rx='1.5' ry='1.5' fill='#4d1760' fill-opacity='0.69'/><ellipse cx='6.6' cy='73.9' rx='1.4' ry='1.6' fill='#5a1c68' fill-opacity='0.50'/><ellipse cx='115.6' cy='3.9' rx='1.5' ry='1.4' fill='#4f1761' fill-opacity='0.80'/><ellipse cx='37.5' cy='68.6' rx='1.3' ry='1.4' fill='#6a2272' fill-opacity='0.72'/><ellipse cx='116.4' cy='9.9' rx='1.6' ry='1.8' fill='#551a65' fill-opacity='0.85'/><ellipse cx='36.1' cy='96.0' rx='1.7' ry='1.5' fill='#561a65' fill-opacity='0.80'/><ellipse cx='14.1' cy='44.1' rx='1.9' ry='1.6' fill='#511863' fill-opacity='0.65'/><ellipse cx='88.6' cy='68.4' rx='1.6' ry='1.3' fill='#742677' fill-opacity='0.79'/><ellipse cx='59.9' cy='17.4' rx='1.6' ry='1.7' fill='#66216f' fill-opacity='0.84'/><ellipse cx='87.4' cy='2.6' rx='1.7' ry='1.5' fill='#501862' fill-opacity='0.56'/><ellipse cx='18.8' cy='72.8' rx='1.6' ry='1.4' fill='#6c2373' fill-opacity='0.64'/><ellipse cx='28.3' cy='109.3' rx='1.5' ry='1.8' fill='#692271' fill-opacity='0.80'/><ellipse cx='74.3' cy='89.1' rx='1.6' ry='1.5' fill='#5b1c68' fill-opacity='0.65'/><ellipse cx='21.8' cy='8.9' rx='2.1' ry='1.8' fill='#6c2372' fill-opacity='0.83'/><ellipse cx='101.5' cy='12.7' rx='1.8' ry='1.5' fill='#611f6c' fill-opacity='0.76'/><ellipse cx='27.4' cy='93.7' rx='1.4' ry='1.5' fill='#5a1c68' fill-opacity='0.72'/><ellipse cx='75.7' cy='72.5' rx='1.9' ry='1.8' fill='#4b165f' fill-opacity='0.73'/><ellipse cx='54.8' cy='12.5' rx='1.7' ry='1.4' fill='#64206e' fill-opacity='0.67'/><ellipse cx='89.5' cy='8.7' rx='2.2' ry='1.8' fill='#65206e' fill-opacity='0.80'/><ellipse cx='42.6' cy='54.8' rx='1.7' ry='1.4' fill='#702475' fill-opacity='0.79'/><ellipse cx='8.8' cy='62.5' rx='2.0' ry='1.8' fill='#5c1d69' fill-opacity='0.57'/><ellipse cx='90.4' cy='47.8' rx='1.7' ry='1.4' fill='#6d2373' fill-opacity='0.70'/><ellipse cx='114.5' cy='82.1' rx='1.7' ry='1.5' fill='#581b67' fill-opacity='0.82'/><ellipse cx='75.3' cy='105.2' rx='1.7' ry='1.5' fill='#64206e' fill-opacity='0.65'/><ellipse cx='65.9' cy='47.3' rx='1.9' ry='1.6' fill='#571b66' fill-opacity='0.84'/><ellipse cx='50.6' cy='8.8' rx='2.0' ry='1.8' fill='#571b66' fill-opacity='0.57'/><ellipse cx='45.8' cy='18.2' rx='2.0' ry='1.8' fill='#682170' fill-opacity='0.57'/><ellipse cx='6.2' cy='23.0' rx='1.7' ry='1.6' fill='#5b1c69' fill-opacity='0.71'/><ellipse cx='120.5' cy='88.8' rx='1.5' ry='1.7' fill='#6c2373' fill-opacity='0.84'/><ellipse cx='120.4' cy='4.0' rx='1.8' ry='1.6' fill='#752778' fill-opacity='0.73'/><ellipse cx='53.2' cy='38.2' rx='2.0' ry='1.8' fill='#4c165f' fill-opacity='0.78'/><ellipse cx='51.4' cy='29.4' rx='1.5' ry='1.7' fill='#581b67' fill-opacity='0.72'/><ellipse cx='51.0' cy='58.6' rx='1.9' ry='1.6' fill='#561a65' fill-opacity='0.83'/><ellipse cx='118.0' cy='17.5' rx='1.7' ry='1.6' fill='#6c2373' fill-opacity='0.63'/><ellipse cx='38.7' cy='59.0' rx='1.6' ry='1.4' fill='#712576' fill-opacity='0.77'/><ellipse cx='12.6' cy='75.6' rx='1.5' ry='1.3' fill='#6f2475' fill-opacity='0.50'/><ellipse cx='110.2' cy='108.5' rx='1.9' ry='1.6' fill='#4d1760' fill-opacity='0.65'/><ellipse cx='79.2' cy='22.0' rx='1.7' ry='1.7' fill='#591b67' fill-opacity='0.79'/><ellipse cx='38.9' cy='30.6' rx='2.3' ry='1.8' fill='#5d1d69' fill-opacity='0.53'/><ellipse cx='116.8' cy='106.6' rx='1.2' ry='1.3' fill='#561a65' fill-opacity='0.77'/><ellipse cx='34.7' cy='14.9' rx='1.6' ry='1.6' fill='#712576' fill-opacity='0.71'/><ellipse cx='9.7' cy='26.0' rx='1.9' ry='1.8' fill='#702475' fill-opacity='0.70'/><ellipse cx='83.0' cy='73.1' rx='1.8' ry='1.5' fill='#5d1d6a' fill-opacity='0.85'/><ellipse cx='47.0' cy='12.1' rx='1.5' ry='1.3' fill='#531964' fill-opacity='0.58'/><ellipse cx='48.0' cy='111.6' rx='1.3' ry='1.4' fill='#521963' fill-opacity='0.77'/><ellipse cx='48.0' cy='-1.4' rx='1.3' ry='1.4' fill='#521963' fill-opacity='0.77'/><ellipse cx='17.9' cy='14.3' rx='2.2' ry='1.9' fill='#5f1e6b' fill-opacity='0.81'/><ellipse cx='43.3' cy='103.4' rx='1.3' ry='1.4' fill='#6e2474' fill-opacity='0.65'/><ellipse cx='120.5' cy='27.8' rx='1.3' ry='1.3' fill='#6a2271' fill-opacity='0.70'/><ellipse cx='97.7' cy='112.0' rx='1.6' ry='1.8' fill='#531964' fill-opacity='0.66'/><ellipse cx='97.7' cy='-1.0' rx='1.6' ry='1.8' fill='#531964' fill-opacity='0.66'/><ellipse cx='94.2' cy='10.5' rx='1.4' ry='1.5' fill='#722576' fill-opacity='0.68'/></pattern><pattern id='tD' patternUnits='userSpaceOnUse' width='137' height='119'><ellipse cx='32.3' cy='12.3' rx='1.2' ry='1.4' fill='#5f1b59' fill-opacity='0.60'/><ellipse cx='54.3' cy='18.4' rx='1.9' ry='1.9' fill='#7d276b' fill-opacity='0.81'/><ellipse cx='9.1' cy='47.8' rx='2.2' ry='1.8' fill='#81286e' fill-opacity='0.77'/><ellipse cx='125.8' cy='95.3' rx='1.6' ry='1.7' fill='#571855' fill-opacity='0.61'/><ellipse cx='104.8' cy='26.4' rx='1.5' ry='1.6' fill='#702264' fill-opacity='0.82'/><ellipse cx='73.5' cy='32.9' rx='1.9' ry='1.9' fill='#5d1a59' fill-opacity='0.77'/><ellipse cx='23.7' cy='12.6' rx='1.8' ry='1.6' fill='#722365' fill-opacity='0.52'/><ellipse cx='29.4' cy='110.4' rx='1.9' ry='1.7' fill='#621c5c' fill-opacity='0.53'/><ellipse cx='113.6' cy='96.0' rx='1.5' ry='1.4' fill='#5e1b59' fill-opacity='0.58'/><ellipse cx='109.7' cy='23.0' rx='1.5' ry='1.6' fill='#681e5f' fill-opacity='0.54'/><ellipse cx='42.4' cy='74.6' rx='2.0' ry='1.7' fill='#691f5f' fill-opacity='0.56'/><ellipse cx='100.3' cy='101.7' rx='1.7' ry='1.6' fill='#661e5e' fill-opacity='0.84'/><ellipse cx='120.6' cy='10.3' rx='1.6' ry='1.4' fill='#6c2061' fill-opacity='0.59'/><ellipse cx='83.0' cy='79.9' rx='2.0' ry='1.8' fill='#5a1957' fill-opacity='0.55'/><ellipse cx='69.3' cy='21.2' rx='1.5' ry='1.6' fill='#651d5d' fill-opacity='0.67'/><ellipse cx='64.9' cy='10.6' rx='1.7' ry='1.6' fill='#702264' fill-opacity='0.83'/><ellipse cx='128.0' cy='103.0' rx='1.8' ry='1.7' fill='#581856' fill-opacity='0.68'/><ellipse cx='124.5' cy='68.1' rx='1.9' ry='1.7' fill='#651d5d' fill-opacity='0.83'/><ellipse cx='120.9' cy='100.9' rx='1.6' ry='1.8' fill='#82296f' fill-opacity='0.83'/><ellipse cx='69.6' cy='49.3' rx='1.6' ry='1.9' fill='#6e2163' fill-opacity='0.71'/><ellipse cx='82.1' cy='51.3' rx='1.6' ry='1.3' fill='#7a266a' fill-opacity='0.63'/><ellipse cx='22.1' cy='36.3' rx='2.1' ry='1.9' fill='#6f2163' fill-opacity='0.71'/><ellipse cx='111.3' cy='5.1' rx='1.6' ry='1.6' fill='#7b266a' fill-opacity='0.85'/><ellipse cx='6.3' cy='74.5' rx='1.4' ry='1.5' fill='#681f5f' fill-opacity='0.53'/><ellipse cx='38.4' cy='63.6' rx='1.5' ry='1.4' fill='#782569' fill-opacity='0.56'/><ellipse cx='64.6' cy='40.8' rx='1.8' ry='1.9' fill='#691f60' fill-opacity='0.85'/><ellipse cx='136.6' cy='23.3' rx='1.5' ry='1.5' fill='#5d1a58' fill-opacity='0.55'/><ellipse cx='-0.4' cy='23.3' rx='1.5' ry='1.5' fill='#5d1a58' fill-opacity='0.55'/><ellipse cx='56.6' cy='24.1' rx='1.6' ry='1.8' fill='#742366' fill-opacity='0.58'/><ellipse cx='86.7' cy='32.9' rx='1.1' ry='1.3' fill='#651d5d' fill-opacity='0.69'/><ellipse cx='48.7' cy='88.9' rx='1.1' ry='1.3' fill='#742366' fill-opacity='0.58'/><ellipse cx='43.9' cy='66.5' rx='1.6' ry='1.8' fill='#5a1957' fill-opacity='0.76'/><ellipse cx='8.4' cy='27.2' rx='1.7' ry='1.9' fill='#6c2061' fill-opacity='0.62'/><ellipse cx='104.8' cy='73.2' rx='1.8' ry='1.8' fill='#691f60' fill-opacity='0.70'/><ellipse cx='32.5' cy='39.4' rx='1.6' ry='1.4' fill='#641d5d' fill-opacity='0.59'/><ellipse cx='24.3' cy='54.6' rx='1.8' ry='1.8' fill='#792569' fill-opacity='0.60'/><ellipse cx='5.9' cy='83.0' rx='1.7' ry='1.9' fill='#6b2061' fill-opacity='0.70'/><ellipse cx='122.7' cy='113.6' rx='1.9' ry='1.8' fill='#6a1f60' fill-opacity='0.58'/><ellipse cx='100.7' cy='114.2' rx='1.4' ry='1.4' fill='#661e5e' fill-opacity='0.63'/><ellipse cx='2.5' cy='34.4' rx='1.6' ry='1.5' fill='#5e1b59' fill-opacity='0.79'/><ellipse cx='132.3' cy='92.3' rx='1.5' ry='1.5' fill='#732365' fill-opacity='0.53'/><ellipse cx='56.2' cy='112.3' rx='1.5' ry='1.5' fill='#6c2062' fill-opacity='0.80'/><ellipse cx='85.0' cy='97.3' rx='1.5' ry='1.5' fill='#722265' fill-opacity='0.77'/><ellipse cx='40.2' cy='22.8' rx='1.5' ry='1.7' fill='#671e5e' fill-opacity='0.51'/><ellipse cx='60.8' cy='16.2' rx='1.4' ry='1.3' fill='#681f5f' fill-opacity='0.58'/><ellipse cx='45.4' cy='1.1' rx='1.7' ry='1.8' fill='#6b2061' fill-opacity='0.76'/><ellipse cx='6.1' cy='20.2' rx='1.3' ry='1.4' fill='#7c266b' fill-opacity='0.69'/><ellipse cx='107.4' cy='43.2' rx='1.8' ry='1.5' fill='#7e276c' fill-opacity='0.52'/><ellipse cx='39.8' cy='11.6' rx='1.2' ry='1.3' fill='#7e276c' fill-opacity='0.69'/><ellipse cx='134.5' cy='50.5' rx='1.7' ry='1.4' fill='#681f5f' fill-opacity='0.71'/><ellipse cx='28.5' cy='7.1' rx='2.1' ry='1.8' fill='#601b5a' fill-opacity='0.70'/><ellipse cx='92.7' cy='17.8' rx='1.5' ry='1.4' fill='#7b266a' fill-opacity='0.58'/><ellipse cx='5.6' cy='58.4' rx='1.4' ry='1.6' fill='#6f2163' fill-opacity='0.80'/><ellipse cx='34.1' cy='118.7' rx='1.7' ry='1.4' fill='#82296f' fill-opacity='0.72'/><ellipse cx='34.1' cy='-0.3' rx='1.7' ry='1.4' fill='#82296f' fill-opacity='0.72'/><ellipse cx='16.8' cy='63.0' rx='1.6' ry='1.4' fill='#651d5d' fill-opacity='0.70'/><ellipse cx='106.0' cy='48.7' rx='1.9' ry='1.6' fill='#5a1957' fill-opacity='0.66'/><ellipse cx='135.3' cy='56.9' rx='2.3' ry='1.9' fill='#5b1957' fill-opacity='0.64'/><ellipse cx='-1.7' cy='56.9' rx='2.3' ry='1.9' fill='#5b1957' fill-opacity='0.64'/><ellipse cx='33.1' cy='48.9' rx='1.8' ry='1.8' fill='#722365' fill-opacity='0.56'/><ellipse cx='34.1' cy='105.8' rx='1.4' ry='1.5' fill='#6d2162' fill-opacity='0.67'/><ellipse cx='113.9' cy='59.3' rx='2.0' ry='1.8' fill='#6a1f60' fill-opacity='0.57'/><ellipse cx='33.2' cy='24.8' rx='1.3' ry='1.5' fill='#5c1a58' fill-opacity='0.70'/><ellipse cx='19.4' cy='6.1' rx='2.3' ry='1.9' fill='#702264' fill-opacity='0.59'/><ellipse cx='123.4' cy='77.8' rx='1.4' ry='1.7' fill='#571855' fill-opacity='0.75'/><ellipse cx='108.3' cy='88.6' rx='1.8' ry='1.4' fill='#702264' fill-opacity='0.73'/><ellipse cx='28.9' cy='104.0' rx='1.6' ry='1.8' fill='#5f1b59' fill-opacity='0.69'/><ellipse cx='46.1' cy='78.2' rx='1.5' ry='1.7' fill='#6a1f60' fill-opacity='0.73'/><ellipse cx='109.5' cy='76.5' rx='1.8' ry='1.6' fill='#6a1f60' fill-opacity='0.52'/><ellipse cx='89.7' cy='81.6' rx='1.7' ry='1.9' fill='#782569' fill-opacity='0.84'/><ellipse cx='36.8' cy='109.8' rx='2.0' ry='1.7' fill='#712264' fill-opacity='0.66'/><ellipse cx='131.0' cy='8.9' rx='1.8' ry='1.5' fill='#5a1957' fill-opacity='0.72'/><ellipse cx='133.0' cy='114.5' rx='1.9' ry='1.5' fill='#732365' fill-opacity='0.55'/><ellipse cx='91.6' cy='5.3' rx='2.4' ry='1.9' fill='#571855' fill-opacity='0.72'/><ellipse cx='123.2' cy='15.2' rx='1.7' ry='1.6' fill='#5a1957' fill-opacity='0.76'/><ellipse cx='132.7' cy='79.4' rx='1.8' ry='1.5' fill='#591956' fill-opacity='0.58'/><ellipse cx='87.0' cy='67.7' rx='1.6' ry='1.6' fill='#6e2163' fill-opacity='0.72'/><ellipse cx='126.4' cy='1.6' rx='2.0' ry='1.8' fill='#772568' fill-opacity='0.51'/><ellipse cx='120.3' cy='65.5' rx='1.5' ry='1.3' fill='#6d2162' fill-opacity='0.82'/><ellipse cx='120.4' cy='24.0' rx='1.7' ry='1.5' fill='#80286e' fill-opacity='0.56'/><ellipse cx='92.0' cy='39.3' rx='1.9' ry='1.8' fill='#581856' fill-opacity='0.59'/><ellipse cx='122.2' cy='92.1' rx='2.4' ry='1.9' fill='#5e1a59' fill-opacity='0.66'/><ellipse cx='64.6' cy='62.6' rx='1.6' ry='1.4' fill='#7c276b' fill-opacity='0.76'/><ellipse cx='3.6' cy='4.1' rx='1.4' ry='1.5' fill='#722265' fill-opacity='0.55'/><ellipse cx='81.4' cy='58.2' rx='1.6' ry='1.8' fill='#5c1a58' fill-opacity='0.69'/><ellipse cx='118.5' cy='72.4' rx='2.2' ry='1.8' fill='#732366' fill-opacity='0.54'/><ellipse cx='19.0' cy='43.1' rx='2.0' ry='1.7' fill='#732366' fill-opacity='0.53'/><ellipse cx='105.2' cy='62.2' rx='2.0' ry='1.7' fill='#681e5f' fill-opacity='0.53'/><ellipse cx='1.4' cy='99.7' rx='1.4' ry='1.4' fill='#7a266a' fill-opacity='0.70'/><ellipse cx='113.4' cy='10.1' rx='1.9' ry='1.6' fill='#631d5c' fill-opacity='0.68'/><ellipse cx='74.4' cy='45.4' rx='2.0' ry='1.6' fill='#681e5f' fill-opacity='0.74'/><ellipse cx='107.9' cy='37.0' rx='1.5' ry='1.4' fill='#702264' fill-opacity='0.81'/><ellipse cx='32.0' cy='57.9' rx='1.5' ry='1.4' fill='#5f1b5a' fill-opacity='0.75'/><ellipse cx='15.7' cy='73.9' rx='1.4' ry='1.3' fill='#5b1957' fill-opacity='0.61'/><ellipse cx='59.5' cy='102.1' rx='1.7' ry='1.6' fill='#641d5c' fill-opacity='0.59'/><ellipse cx='106.4' cy='8.0' rx='2.0' ry='1.8' fill='#671e5f' fill-opacity='0.66'/><ellipse cx='41.4' cy='99.5' rx='1.4' ry='1.5' fill='#792569' fill-opacity='0.50'/><ellipse cx='57.9' cy='95.0' rx='1.8' ry='1.7' fill='#5c1a58' fill-opacity='0.51'/><ellipse cx='22.9' cy='104.0' rx='1.6' ry='1.6' fill='#742366' fill-opacity='0.80'/><ellipse cx='24.2' cy='17.8' rx='1.8' ry='1.9' fill='#7d276c' fill-opacity='0.83'/><ellipse cx='74.2' cy='107.6' rx='1.1' ry='1.3' fill='#7a266a' fill-opacity='0.57'/><ellipse cx='97.3' cy='0.7' rx='1.6' ry='1.8' fill='#762467' fill-opacity='0.73'/><ellipse cx='66.7' cy='85.2' rx='2.0' ry='1.7' fill='#611c5b' fill-opacity='0.67'/><ellipse cx='33.6' cy='100.9' rx='1.7' ry='1.5' fill='#671e5e' fill-opacity='0.79'/><ellipse cx='135.1' cy='74.6' rx='1.7' ry='1.8' fill='#591856' fill-opacity='0.77'/><ellipse cx='92.7' cy='72.5' rx='1.6' ry='1.5' fill='#742366' fill-opacity='0.78'/><ellipse cx='42.9' cy='108.6' rx='1.5' ry='1.6' fill='#6f2163' fill-opacity='0.71'/><ellipse cx='64.0' cy='108.5' rx='1.5' ry='1.5' fill='#6a1f60' fill-opacity='0.54'/><ellipse cx='11.3' cy='17.1' rx='2.1' ry='1.7' fill='#571855' fill-opacity='0.62'/><ellipse cx='123.6' cy='44.3' rx='2.3' ry='1.9' fill='#5c1a58' fill-opacity='0.82'/><ellipse cx='78.9' cy='41.7' rx='1.5' ry='1.7' fill='#601b5a' fill-opacity='0.66'/><ellipse cx='85.1' cy='11.1' rx='1.5' ry='1.6' fill='#5b1957' fill-opacity='0.64'/><ellipse cx='24.6' cy='77.9' rx='2.0' ry='1.7' fill='#661e5e' fill-opacity='0.80'/><ellipse cx='44.8' cy='35.8' rx='1.3' ry='1.4' fill='#772568' fill-opacity='0.76'/><ellipse cx='130.1' cy='98.7' rx='2.1' ry='1.8' fill='#591956' fill-opacity='0.61'/><ellipse cx='130.6' cy='18.9' rx='2.1' ry='1.8' fill='#81296e' fill-opacity='0.70'/><ellipse cx='78.6' cy='111.6' rx='2.0' ry='1.9' fill='#81286e' fill-opacity='0.61'/><ellipse cx='92.5' cy='88.7' rx='2.2' ry='1.8' fill='#6e2163' fill-opacity='0.53'/><ellipse cx='55.6' cy='71.3' rx='1.3' ry='1.5' fill='#5e1a59' fill-opacity='0.62'/><ellipse cx='122.9' cy='83.7' rx='2.3' ry='1.9' fill='#5d1a58' fill-opacity='0.50'/><ellipse cx='42.4' cy='27.4' rx='1.4' ry='1.5' fill='#732365' fill-opacity='0.63'/><ellipse cx='136.5' cy='107.0' rx='2.2' ry='1.9' fill='#772568' fill-opacity='0.62'/><ellipse cx='-0.5' cy='107.0' rx='2.2' ry='1.9' fill='#772568' fill-opacity='0.62'/><ellipse cx='54.8' cy='47.7' rx='1.8' ry='1.8' fill='#7e276c' fill-opacity='0.65'/><ellipse cx='112.0' cy='33.8' rx='2.1' ry='1.9' fill='#6b2061' fill-opacity='0.63'/><ellipse cx='56.4' cy='1.6' rx='2.2' ry='1.7' fill='#6e2163' fill-opacity='0.53'/><ellipse cx='25.2' cy='64.3' rx='1.2' ry='1.4' fill='#712264' fill-opacity='0.61'/><ellipse cx='49.9' cy='113.2' rx='1.3' ry='1.4' fill='#691f60' fill-opacity='0.52'/><ellipse cx='85.4' cy='18.6' rx='1.6' ry='1.6' fill='#691f5f' fill-opacity='0.52'/><ellipse cx='9.3' cy='115.9' rx='1.7' ry='1.4' fill='#7d276c' fill-opacity='0.82'/><ellipse cx='82.7' cy='37.2' rx='2.1' ry='1.9' fill='#6c2061' fill-opacity='0.58'/><ellipse cx='12.5' cy='30.7' rx='1.5' ry='1.4' fill='#80286d' fill-opacity='0.58'/><ellipse cx='20.4' cy='28.4' rx='1.8' ry='1.7' fill='#5b1957' fill-opacity='0.76'/><ellipse cx='22.4' cy='94.1' rx='1.6' ry='1.7' fill='#6f2163' fill-opacity='0.77'/><ellipse cx='93.3' cy='65.1' rx='1.4' ry='1.4' fill='#752467' fill-opacity='0.53'/><ellipse cx='131.4' cy='31.2' rx='2.0' ry='1.7' fill='#5d1a58' fill-opacity='0.64'/><ellipse cx='13.3' cy='3.8' rx='1.7' ry='1.4' fill='#641d5d' fill-opacity='0.68'/><ellipse cx='89.8' cy='113.4' rx='1.4' ry='1.6' fill='#7d276b' fill-opacity='0.67'/><ellipse cx='76.7' cy='82.6' rx='2.0' ry='1.9' fill='#6a1f60' fill-opacity='0.55'/><ellipse cx='99.1' cy='65.7' rx='1.4' ry='1.6' fill='#571855' fill-opacity='0.61'/><ellipse cx='119.8' cy='30.5' rx='1.3' ry='1.5' fill='#651d5d' fill-opacity='0.83'/><ellipse cx='53.6' cy='81.2' rx='1.4' ry='1.5' fill='#581855' fill-opacity='0.63'/><ellipse cx='118.0' cy='39.1' rx='1.7' ry='1.5' fill='#5f1b5a' fill-opacity='0.61'/><ellipse cx='3.8' cy='104.3' rx='1.8' ry='1.9' fill='#6e2163' fill-opacity='0.70'/><ellipse cx='2.6' cy='114.3' rx='2.0' ry='1.9' fill='#581855' fill-opacity='0.68'/><ellipse cx='31.8' cy='65.9' rx='1.4' ry='1.6' fill='#80286e' fill-opacity='0.71'/><ellipse cx='25.4' cy='98.2' rx='1.3' ry='1.3' fill='#712265' fill-opacity='0.51'/><ellipse cx='136.5' cy='84.1' rx='1.9' ry='1.8' fill='#6b2061' fill-opacity='0.85'/><ellipse cx='-0.5' cy='84.1' rx='1.9' ry='1.8' fill='#6b2061' fill-opacity='0.85'/><ellipse cx='52.0' cy='100.9' rx='1.5' ry='1.5' fill='#5a1957' fill-opacity='0.66'/><ellipse cx='114.2' cy='69.9' rx='1.8' ry='1.8' fill='#712264' fill-opacity='0.80'/><ellipse cx='124.9' cy='36.3' rx='1.5' ry='1.5' fill='#5b1957' fill-opacity='0.76'/><ellipse cx='88.6' cy='106.8' rx='1.5' ry='1.6' fill='#742366' fill-opacity='0.69'/><ellipse cx='82.2' cy='4.4' rx='2.1' ry='1.7' fill='#5d1a59' fill-opacity='0.82'/><ellipse cx='117.5' cy='78.8' rx='2.1' ry='1.9' fill='#6c2061' fill-opacity='0.62'/><ellipse cx='114.3' cy='106.1' rx='1.8' ry='1.8' fill='#611c5b' fill-opacity='0.72'/><ellipse cx='82.8' cy='62.7' rx='1.5' ry='1.5' fill='#5a1956' fill-opacity='0.75'/><ellipse cx='135.3' cy='42.0' rx='1.9' ry='1.6' fill='#6e2163' fill-opacity='0.80'/><ellipse cx='11.2' cy='84.9' rx='1.6' ry='1.8' fill='#80286e' fill-opacity='0.79'/><ellipse cx='81.9' cy='29.7' rx='1.8' ry='1.9' fill='#7e276c' fill-opacity='0.57'/><ellipse cx='107.1' cy='108.1' rx='2.1' ry='1.8' fill='#7e276c' fill-opacity='0.52'/><ellipse cx='95.4' cy='13.9' rx='1.8' ry='1.9' fill='#6b2061' fill-opacity='0.58'/><ellipse cx='69.8' cy='0.1' rx='1.4' ry='1.4' fill='#7d276b' fill-opacity='0.77'/><ellipse cx='65.5' cy='17.2' rx='2.1' ry='1.8' fill='#7b266b' fill-opacity='0.59'/><ellipse cx='49.3' cy='105.9' rx='1.7' ry='1.7' fill='#591956' fill-opacity='0.64'/><ellipse cx='102.5' cy='97.1' rx='1.7' ry='1.4' fill='#732365' fill-opacity='0.65'/><ellipse cx='40.8' cy='46.2' rx='1.3' ry='1.6' fill='#702264' fill-opacity='0.82'/><ellipse cx='40.9' cy='82.2' rx='1.7' ry='1.5' fill='#7f286d' fill-opacity='0.73'/><ellipse cx='108.1' cy='83.8' rx='1.3' ry='1.3' fill='#7a266a' fill-opacity='0.59'/><ellipse cx='18.1' cy='90.2' rx='1.7' ry='1.5' fill='#6e2163' fill-opacity='0.80'/><ellipse cx='46.6' cy='54.2' rx='1.7' ry='1.7' fill='#611c5b' fill-opacity='0.75'/><ellipse cx='15.6' cy='115.6' rx='1.8' ry='1.8' fill='#722265' fill-opacity='0.56'/><ellipse cx='10.4' cy='100.8' rx='1.6' ry='1.7' fill='#742366' fill-opacity='0.58'/><ellipse cx='24.6' cy='85.5' rx='2.1' ry='1.8' fill='#5b1957' fill-opacity='0.68'/><ellipse cx='3.7' cy='91.2' rx='1.6' ry='1.4' fill='#581855' fill-opacity='0.84'/><ellipse cx='24.8' cy='24.5' rx='1.8' ry='1.7' fill='#782569' fill-opacity='0.78'/><ellipse cx='4.8' cy='38.6' rx='2.2' ry='1.9' fill='#82296e' fill-opacity='0.75'/><ellipse cx='91.5' cy='100.3' rx='1.5' ry='1.3' fill='#5f1b59' fill-opacity='0.69'/><ellipse cx='14.3' cy='23.7' rx='1.1' ry='1.3' fill='#7f286d' fill-opacity='0.82'/><ellipse cx='18.9' cy='57.0' rx='1.9' ry='1.8' fill='#772468' fill-opacity='0.60'/><ellipse cx='74.8' cy='64.3' rx='1.4' ry='1.4' fill='#6a1f60' fill-opacity='0.82'/><ellipse cx='114.9' cy='90.3' rx='1.7' ry='1.6' fill='#651d5d' fill-opacity='0.74'/><ellipse cx='30.0' cy='28.4' rx='1.9' ry='1.5' fill='#6e2163' fill-opacity='0.72'/><ellipse cx='78.6' cy='23.2' rx='1.4' ry='1.5' fill='#5f1b5a' fill-opacity='0.58'/><ellipse cx='85.6' cy='40.9' rx='1.7' ry='1.6' fill='#5c1a58' fill-opacity='0.56'/><ellipse cx='49.8' cy='84.3' rx='1.2' ry='1.3' fill='#681e5f' fill-opacity='0.81'/><ellipse cx='68.1' cy='4.9' rx='2.1' ry='1.7' fill='#752467' fill-opacity='0.74'/><ellipse cx='51.5' cy='55.2' rx='1.5' ry='1.6' fill='#5f1b5a' fill-opacity='0.76'/><ellipse cx='122.6' cy='57.3' rx='1.5' ry='1.6' fill='#591856' fill-opacity='0.57'/><ellipse cx='133.4' cy='62.7' rx='2.1' ry='1.7' fill='#7f286d' fill-opacity='0.53'/><ellipse cx='82.2' cy='71.3' rx='1.4' ry='1.5' fill='#631d5c' fill-opacity='0.51'/><ellipse cx='59.6' cy='37.4' rx='1.3' ry='1.3' fill='#671e5e' fill-opacity='0.75'/><ellipse cx='74.6' cy='114.1' rx='1.6' ry='1.4' fill='#82296f' fill-opacity='0.81'/><ellipse cx='135.3' cy='17.0' rx='1.7' ry='1.4' fill='#681e5f' fill-opacity='0.53'/><ellipse cx='97.4' cy='71.0' rx='1.8' ry='1.7' fill='#762467' fill-opacity='0.73'/><ellipse cx='36.1' cy='6.8' rx='1.4' ry='1.6' fill='#671e5e' fill-opacity='0.60'/><ellipse cx='65.1' cy='103.0' rx='1.7' ry='1.7' fill='#702264' fill-opacity='0.82'/><ellipse cx='115.9' cy='113.7' rx='2.0' ry='1.9' fill='#5a1956' fill-opacity='0.67'/><ellipse cx='125.8' cy='109.8' rx='1.9' ry='1.7' fill='#7e276c' fill-opacity='0.70'/><ellipse cx='136.8' cy='1.3' rx='2.2' ry='1.8' fill='#82296f' fill-opacity='0.54'/><ellipse cx='-0.2' cy='1.3' rx='2.2' ry='1.8' fill='#82296f' fill-opacity='0.54'/><ellipse cx='70.0' cy='65.4' rx='1.4' ry='1.5' fill='#772468' fill-opacity='0.78'/><ellipse cx='38.0' cy='69.9' rx='1.5' ry='1.3' fill='#7f286d' fill-opacity='0.69'/><ellipse cx='74.7' cy='50.6' rx='1.2' ry='1.3' fill='#6e2163' fill-opacity='0.70'/><ellipse cx='66.1' cy='77.5' rx='1.6' ry='1.7' fill='#621c5b' fill-opacity='0.72'/><ellipse cx='74.6' cy='69.1' rx='1.9' ry='1.7' fill='#702264' fill-opacity='0.76'/><ellipse cx='118.3' cy='94.9' rx='1.8' ry='1.8' fill='#571855' fill-opacity='0.53'/><ellipse cx='53.9' cy='28.8' rx='1.5' ry='1.5' fill='#6d2062' fill-opacity='0.71'/><ellipse cx='60.5' cy='87.1' rx='1.5' ry='1.5' fill='#631d5c' fill-opacity='0.61'/><ellipse cx='104.0' cy='68.2' rx='2.1' ry='1.9' fill='#601b5a' fill-opacity='0.78'/><ellipse cx='53.8' cy='10.3' rx='1.8' ry='1.5' fill='#712265' fill-opacity='0.73'/><ellipse cx='101.1' cy='90.2' rx='1.2' ry='1.3' fill='#702264' fill-opacity='0.65'/><ellipse cx='14.1' cy='109.6' rx='2.2' ry='1.9' fill='#631c5c' fill-opacity='0.73'/><ellipse cx='113.8' cy='84.6' rx='1.7' ry='1.8' fill='#5d1a58' fill-opacity='0.71'/><ellipse cx='85.2' cy='110.0' rx='2.2' ry='1.8' fill='#571855' fill-opacity='0.64'/><ellipse cx='39.0' cy='39.9' rx='1.2' ry='1.3' fill='#631c5c' fill-opacity='0.73'/><ellipse cx='17.0' cy='103.0' rx='2.0' ry='1.9' fill='#641d5d' fill-opacity='0.67'/><ellipse cx='104.6' cy='55.9' rx='1.8' ry='1.7' fill='#5b1957' fill-opacity='0.70'/><ellipse cx='101.6' cy='33.4' rx='1.4' ry='1.3' fill='#601b5a' fill-opacity='0.52'/><ellipse cx='36.3' cy='85.3' rx='1.5' ry='1.4' fill='#6e2162' fill-opacity='0.71'/><ellipse cx='108.4' cy='115.4' rx='1.5' ry='1.4' fill='#702264' fill-opacity='0.73'/><ellipse cx='127.2' cy='88.3' rx='1.4' ry='1.3' fill='#571855' fill-opacity='0.60'/><ellipse cx='47.7' cy='60.5' rx='1.6' ry='1.4' fill='#782569' fill-opacity='0.81'/><ellipse cx='91.6' cy='30.3' rx='1.6' ry='1.3' fill='#722265' fill-opacity='0.79'/><ellipse cx='6.2' cy='97.4' rx='1.4' ry='1.3' fill='#702264' fill-opacity='0.58'/><ellipse cx='105.7' cy='18.4' rx='1.4' ry='1.5' fill='#7e276c' fill-opacity='0.54'/><ellipse cx='7.7' cy='7.5' rx='2.2' ry='1.8' fill='#7b266a' fill-opacity='0.60'/><ellipse cx='87.4' cy='26.8' rx='1.9' ry='1.7' fill='#782568' fill-opacity='0.51'/><ellipse cx='96.4' cy='50.9' rx='1.6' ry='1.6' fill='#5a1957' fill-opacity='0.56'/><ellipse cx='53.5' cy='64.7' rx='1.9' ry='1.9' fill='#641d5d' fill-opacity='0.70'/><ellipse cx='74.1' cy='8.5' rx='1.3' ry='1.5' fill='#6c2061' fill-opacity='0.51'/><ellipse cx='97.1' cy='22.7' rx='1.4' ry='1.6' fill='#5e1b59' fill-opacity='0.64'/><ellipse cx='112.4' cy='53.5' rx='1.9' ry='1.6' fill='#621c5b' fill-opacity='0.73'/><ellipse cx='69.0' cy='58.2' rx='2.1' ry='1.9' fill='#7e276c' fill-opacity='0.72'/><ellipse cx='24.1' cy='45.7' rx='1.9' ry='1.9' fill='#6d2062' fill-opacity='0.67'/><ellipse cx='85.9' cy='47.5' rx='1.6' ry='1.5' fill='#5a1956' fill-opacity='0.77'/><ellipse cx='37.3' cy='51.9' rx='1.9' ry='1.9' fill='#611c5b' fill-opacity='0.59'/><ellipse cx='67.6' cy='30.6' rx='1.5' ry='1.5' fill='#5e1a59' fill-opacity='0.73'/><ellipse cx='51.1' cy='41.5' rx='1.1' ry='1.3' fill='#661e5e' fill-opacity='0.69'/><ellipse cx='50.3' cy='68.6' rx='1.9' ry='1.7' fill='#7f286d' fill-opacity='0.71'/><ellipse cx='64.6' cy='117.6' rx='1.5' ry='1.3' fill='#591856' fill-opacity='0.77'/><ellipse cx='127.1' cy='52.9' rx='1.5' ry='1.4' fill='#611c5b' fill-opacity='0.59'/><ellipse cx='49.6' cy='94.3' rx='1.4' ry='1.4' fill='#7e276c' fill-opacity='0.77'/><ellipse cx='70.4' cy='91.9' rx='1.5' ry='1.6' fill='#7c266b' fill-opacity='0.59'/><ellipse cx='18.7' cy='48.5' rx='1.7' ry='1.7' fill='#83296f' fill-opacity='0.56'/><ellipse cx='100.6' cy='85.2' rx='1.5' ry='1.3' fill='#5f1b5a' fill-opacity='0.78'/><ellipse cx='58.5' cy='31.5' rx='1.6' ry='1.4' fill='#641d5c' fill-opacity='0.53'/><ellipse cx='13.9' cy='68.3' rx='1.6' ry='1.5' fill='#7a266a' fill-opacity='0.61'/><ellipse cx='86.7' cy='52.4' rx='2.1' ry='1.8' fill='#5a1957' fill-opacity='0.59'/><ellipse cx='71.0' cy='77.3' rx='1.8' ry='1.9' fill='#81286e' fill-opacity='0.81'/><ellipse cx='94.8' cy='108.1' rx='1.5' ry='1.4' fill='#641d5d' fill-opacity='0.54'/><ellipse cx='103.7' cy='39.8' rx='1.4' ry='1.5' fill='#5b1957' fill-opacity='0.76'/><ellipse cx='47.6' cy='26.2' rx='1.8' ry='1.5' fill='#6a1f60' fill-opacity='0.73'/><ellipse cx='57.7' cy='53.4' rx='2.2' ry='1.9' fill='#681e5f' fill-opacity='0.79'/><ellipse cx='89.3' cy='60.1' rx='1.7' ry='1.7' fill='#691f60' fill-opacity='0.51'/><ellipse cx='129.0' cy='24.0' rx='2.3' ry='1.9' fill='#631d5c' fill-opacity='0.84'/><ellipse cx='13.9' cy='58.9' rx='2.2' ry='1.8' fill='#80286d' fill-opacity='0.68'/><ellipse cx='63.9' cy='52.4' rx='1.5' ry='1.7' fill='#792569' fill-opacity='0.52'/><ellipse cx='60.1' cy='75.4' rx='1.5' ry='1.8' fill='#5c1a58' fill-opacity='0.63'/><ellipse cx='32.9' cy='94.6' rx='2.3' ry='1.9' fill='#7c276b' fill-opacity='0.84'/><ellipse cx='117.5' cy='4.7' rx='1.7' ry='1.6' fill='#671e5e' fill-opacity='0.60'/><ellipse cx='91.2' cy='94.2' rx='1.8' ry='1.5' fill='#772568' fill-opacity='0.59'/><ellipse cx='114.8' cy='43.0' rx='1.5' ry='1.6' fill='#5c1a58' fill-opacity='0.61'/><ellipse cx='96.6' cy='77.0' rx='2.0' ry='1.7' fill='#772468' fill-opacity='0.62'/><ellipse cx='8.2' cy='64.1' rx='1.3' ry='1.3' fill='#712264' fill-opacity='0.52'/><ellipse cx='56.9' cy='60.2' rx='2.0' ry='1.7' fill='#752467' fill-opacity='0.66'/><ellipse cx='76.1' cy='100.7' rx='1.7' ry='1.5' fill='#712264' fill-opacity='0.54'/><ellipse cx='79.4' cy='47.1' rx='1.4' ry='1.5' fill='#712264' fill-opacity='0.67'/><ellipse cx='61.2' cy='21.4' rx='1.6' ry='1.8' fill='#712265' fill-opacity='0.66'/><ellipse cx='15.9' cy='85.8' rx='1.2' ry='1.3' fill='#7a266a' fill-opacity='0.66'/><ellipse cx='19.8' cy='67.8' rx='1.7' ry='1.8' fill='#591956' fill-opacity='0.63'/><ellipse cx='36.1' cy='35.5' rx='1.7' ry='1.9' fill='#681f5f' fill-opacity='0.74'/><ellipse cx='9.6' cy='52.9' rx='1.8' ry='1.6' fill='#5a1957' fill-opacity='0.70'/><ellipse cx='67.5' cy='96.3' rx='1.8' ry='1.7' fill='#6e2163' fill-opacity='0.77'/><ellipse cx='97.8' cy='36.8' rx='1.4' ry='1.3' fill='#742366' fill-opacity='0.76'/><ellipse cx='108.9' cy='100.4' rx='1.9' ry='1.6' fill='#83296f' fill-opacity='0.61'/><ellipse cx='111.8' cy='18.7' rx='1.4' ry='1.6' fill='#6b2061' fill-opacity='0.64'/><ellipse cx='26.7' cy='37.6' rx='2.1' ry='1.7' fill='#702264' fill-opacity='0.77'/><ellipse cx='44.9' cy='15.4' rx='1.7' ry='1.9' fill='#6b2061' fill-opacity='0.60'/><ellipse cx='10.4' cy='41.5' rx='2.2' ry='1.8' fill='#722265' fill-opacity='0.76'/><ellipse cx='113.4' cy='29.1' rx='1.3' ry='1.4' fill='#5e1a59' fill-opacity='0.54'/><ellipse cx='36.6' cy='16.0' rx='2.0' ry='1.9' fill='#5f1b5a' fill-opacity='0.61'/><ellipse cx='83.1' cy='88.2' rx='1.1' ry='1.3' fill='#732366' fill-opacity='0.72'/><ellipse cx='12.9' cy='93.6' rx='1.4' ry='1.3' fill='#6e2162' fill-opacity='0.82'/><ellipse cx='103.5' cy='79.1' rx='1.3' ry='1.4' fill='#5c1a58' fill-opacity='0.55'/><ellipse cx='17.8' cy='79.2' rx='1.4' ry='1.3' fill='#772568' fill-opacity='0.76'/><ellipse cx='136.3' cy='6.8' rx='1.3' ry='1.3' fill='#742366' fill-opacity='0.64'/><ellipse cx='-0.7' cy='6.8' rx='1.3' ry='1.3' fill='#742366' fill-opacity='0.64'/><ellipse cx='100.5' cy='106.8' rx='1.5' ry='1.7' fill='#681f5f' fill-opacity='0.51'/><ellipse cx='96.8' cy='43.1' rx='2.3' ry='1.9' fill='#7f286d' fill-opacity='0.75'/><ellipse cx='115.2' cy='118.4' rx='1.7' ry='1.7' fill='#651d5d' fill-opacity='0.70'/><ellipse cx='115.2' cy='-0.6' rx='1.7' ry='1.7' fill='#651d5d' fill-opacity='0.70'/><ellipse cx='18.1' cy='98.4' rx='1.4' ry='1.4' fill='#5d1a58' fill-opacity='0.81'/><ellipse cx='65.7' cy='35.5' rx='1.5' ry='1.7' fill='#621c5b' fill-opacity='0.59'/><ellipse cx='136.9' cy='66.2' rx='1.7' ry='1.6' fill='#80286d' fill-opacity='0.82'/><ellipse cx='-0.1' cy='66.2' rx='1.7' ry='1.6' fill='#80286d' fill-opacity='0.82'/><ellipse cx='131.5' cy='14.2' rx='2.0' ry='1.8' fill='#6c2061' fill-opacity='0.75'/><ellipse cx='7.4' cy='69.3' rx='1.5' ry='1.6' fill='#5d1a59' fill-opacity='0.69'/><ellipse cx='76.9' cy='59.7' rx='1.8' ry='1.8' fill='#7b266a' fill-opacity='0.76'/><ellipse cx='69.8' cy='100.9' rx='1.3' ry='1.4' fill='#571855' fill-opacity='0.56'/><ellipse cx='72.8' cy='37.9' rx='1.3' ry='1.5' fill='#571855' fill-opacity='0.52'/><ellipse cx='115.9' cy='22.5' rx='1.9' ry='1.6' fill='#742366' fill-opacity='0.77'/><ellipse cx='65.7' cy='90.4' rx='1.3' ry='1.3' fill='#6d2062' fill-opacity='0.68'/><ellipse cx='3.6' cy='44.6' rx='1.4' ry='1.3' fill='#5e1b59' fill-opacity='0.78'/><ellipse cx='69.4' cy='112.6' rx='1.5' ry='1.4' fill='#6d2162' fill-opacity='0.79'/><ellipse cx='118.6' cy='109.6' rx='1.7' ry='1.4' fill='#681e5f' fill-opacity='0.82'/><ellipse cx='131.0' cy='37.6' rx='2.0' ry='1.7' fill='#6f2163' fill-opacity='0.54'/><ellipse cx='126.7' cy='30.0' rx='1.7' ry='1.4' fill='#792569' fill-opacity='0.68'/><ellipse cx='79.6' cy='97.1' rx='1.7' ry='1.5' fill='#691f60' fill-opacity='0.58'/></pattern><clipPath id='cTL'><rect x='86' y='45' width='426' height='283'/></clipPath><clipPath id='cTR'><rect x='532' y='45' width='426' height='283'/></clipPath><clipPath id='cBL'><rect x='86' y='348' width='426' height='287'/></clipPath><clipPath id='cBR'><rect x='532' y='348' width='426' height='287'/></clipPath></defs><g clip-path='url(#cTL)'><rect x='86' y='45' width='426' height='283' filter='url(#fA)'/><rect x='86' y='45' width='426' height='283' fill='url(#tA)'/><path d='M86,134 C100,126 125,112 149,101 L151,104 C128,116 104,130 86,144Z' fill='#fff' fill-opacity='0.92'/><path d='M88,136 C100,129 118,119 132,111' stroke='#d8283f' stroke-width='1.8' fill='none' stroke-dasharray='3 2'/><path d='M193,50 C197,48 203,51 208,49 C212,48 214,52 214,58 C215,64 214,70 212,72 C207,74 199,74 195,71 C191,66 191,56 193,50Z' fill='#fff'/><path d='M213,70 L219,79' stroke='#fff' stroke-width='1.3' stroke-opacity='0.8'/><path d='M190,152 C189,145 196,139 204,139 C212,139 217,144 216,151 C215,157 209,159 201,159 C194,159 190,157 190,152Z' fill='#fff'/><g stroke='#fff' stroke-width='1' stroke-opacity='0.75' fill='none'><path d='M216,150 L230,136 L236,132'/><path d='M214,155 L224,162 L229,170'/><path d='M195,162 L182,168 L160,172'/><path d='M190,160 L178,172'/><path d='M207,161 L212,172 L214,178'/><path d='M425,128 L438,120'/><path d='M402,146 L388,156'/><path d='M420,152 L428,166'/><path d='M124,108 L123,100'/></g><ellipse cx='237' cy='112.5' rx='3.5' ry='2.5' fill='#fff'/><ellipse cx='413' cy='138' rx='12.5' ry='16' fill='#fff' transform='rotate(10 413 138)'/><path d='M411,122 L414,72 L416,72 L415,122Z' fill='#fff' fill-opacity='0.8'/><path d='M430,316 C438,300 452,282 470,266 L478,264 L479,270 C464,284 450,302 440,320Z' fill='#d8283f' fill-opacity='0.8'/><path d='M437,311 C445,298 456,285 470,272' stroke='#f5a0b0' stroke-width='1.5' fill='none' stroke-dasharray='2 4'/><path d='M420,326 C430,318 440,312 446,308' stroke='#e03048' stroke-width='2.5' fill='none' stroke-opacity='0.7'/><path d='M455,326 C470,318 480,312 488,305 M470,328 C480,322 486,318 492,312' stroke='#fff' stroke-width='2' fill='none'/><path d='M493,282 L510,282 L510,290 L495,288Z' fill='#fff'/><ellipse cx='332' cy='81' rx='4' ry='3' fill='#e8344e'/></g><rect x='89' y='316' width='30.4' height='7.4' fill='#231f20'/><g clip-path='url(#cTR)'><rect x='532' y='45' width='426' height='283' filter='url(#fB)'/><rect x='532' y='45' width='426' height='283' fill='url(#tB)' /><path d='M532,211 C535,222 538,240 546,262 C552,280 560,300 570,328 L532,328Z' fill='#fff'/><ellipse cx='828' cy='90' rx='12' ry='14' fill='#fff'/><ellipse cx='604' cy='152' rx='6.5' ry='6' fill='#fff'/><ellipse cx='641' cy='140' rx='8.5' ry='4.5' fill='#fff' transform='rotate(-35 641 140)'/><ellipse cx='641' cy='140' rx='6.5' ry='2.7' fill='#e26a94' transform='rotate(-35 641 140)'/><ellipse cx='698' cy='245' rx='9' ry='4.5' fill='#fff' transform='rotate(-35 698 245)'/><ellipse cx='698' cy='245' rx='7' ry='2.7' fill='#e26a94' transform='rotate(-35 698 245)'/><ellipse cx='614' cy='263' rx='7' ry='4.5' fill='#fff' transform='rotate(-20 614 263)'/><ellipse cx='614' cy='263' rx='5' ry='2.7' fill='#e26a94' transform='rotate(-20 614 263)'/><ellipse cx='819' cy='201' rx='6' ry='8' fill='#fff'/><ellipse cx='819' cy='203' rx='3' ry='4' fill='#f2a0b8'/><ellipse cx='542' cy='213' rx='6' ry='3' fill='#fff'/><ellipse cx='958' cy='188' rx='17' ry='31' fill='#fff'/><circle cx='951.0' cy='181.9' r='0.9' fill='#e8344e'/><circle cx='946.8' cy='205.6' r='0.9' fill='#e8344e'/><circle cx='945.1' cy='188.1' r='0.9' fill='#e8344e'/><circle cx='956.7' cy='167.9' r='0.9' fill='#e8344e'/><circle cx='952.2' cy='193.6' r='0.9' fill='#e8344e'/><circle cx='945.5' cy='182.2' r='0.9' fill='#e8344e'/><circle cx='954.1' cy='185.7' r='0.9' fill='#e8344e'/><circle cx='954.4' cy='171.5' r='0.9' fill='#e8344e'/><circle cx='948.1' cy='169.3' r='0.9' fill='#e8344e'/><circle cx='951.6' cy='208.3' r='0.9' fill='#e8344e'/><circle cx='952.7' cy='201.2' r='0.9' fill='#e8344e'/><circle cx='950.0' cy='199.8' r='0.9' fill='#e8344e'/><circle cx='946.3' cy='178.0' r='0.9' fill='#e8344e'/><circle cx='953.8' cy='198.8' r='0.9' fill='#e8344e'/><circle cx='950.5' cy='168.2' r='0.9' fill='#e8344e'/><circle cx='948.5' cy='174.1' r='0.9' fill='#e8344e'/><circle cx='948.7' cy='202.9' r='0.9' fill='#e8344e'/><circle cx='947.6' cy='206.5' r='0.9' fill='#e8344e'/><circle cx='956.4' cy='166.6' r='0.9' fill='#e8344e'/><circle cx='949.9' cy='187.6' r='0.9' fill='#e8344e'/><circle cx='945.3' cy='184.4' r='0.9' fill='#e8344e'/><circle cx='956.8' cy='169.4' r='0.9' fill='#e8344e'/><circle cx='952.8' cy='169.8' r='0.9' fill='#e8344e'/><circle cx='952.5' cy='207.0' r='0.9' fill='#e8344e'/><circle cx='947.6' cy='164.4' r='0.9' fill='#e8344e'/><circle cx='946.1' cy='189.9' r='0.9' fill='#e8344e'/><circle cx='945.2' cy='168.1' r='0.9' fill='#e8344e'/><circle cx='951.5' cy='208.2' r='0.9' fill='#e8344e'/><circle cx='950.5' cy='183.1' r='0.9' fill='#e8344e'/><circle cx='953.3' cy='168.5' r='0.9' fill='#e8344e'/><circle cx='952.5' cy='172.3' r='0.9' fill='#e8344e'/><circle cx='952.9' cy='210.0' r='0.9' fill='#e8344e'/><circle cx='945.7' cy='190.6' r='0.9' fill='#e8344e'/><circle cx='952.9' cy='171.2' r='0.9' fill='#e8344e'/><circle cx='948.5' cy='211.8' r='0.9' fill='#e8344e'/><circle cx='958.0' cy='169.8' r='0.9' fill='#e8344e'/><circle cx='954.2' cy='209.6' r='0.9' fill='#e8344e'/><circle cx='948.1' cy='193.3' r='0.9' fill='#e8344e'/><circle cx='945.6' cy='181.6' r='0.9' fill='#e8344e'/><circle cx='953.8' cy='192.3' r='0.9' fill='#e8344e'/><circle cx='832.4' cy='81.7' r='0.9' fill='#e8344e'/><circle cx='825.6' cy='97.3' r='0.9' fill='#e8344e'/><circle cx='829.3' cy='89.0' r='0.9' fill='#e8344e'/><circle cx='826.4' cy='99.7' r='0.9' fill='#e8344e'/><circle cx='829.2' cy='80.4' r='0.9' fill='#e8344e'/><circle cx='832.8' cy='86.6' r='0.9' fill='#e8344e'/><circle cx='826.9' cy='84.3' r='0.9' fill='#e8344e'/><circle cx='827.1' cy='86.5' r='0.9' fill='#e8344e'/><circle cx='821.4' cy='92.6' r='0.9' fill='#e8344e'/><circle cx='821.6' cy='95.7' r='0.9' fill='#e8344e'/><circle cx='820.4' cy='95.6' r='0.9' fill='#e8344e'/><circle cx='832.9' cy='89.9' r='0.9' fill='#e8344e'/><circle cx='831.4' cy='85.0' r='0.9' fill='#e8344e'/><circle cx='831.8' cy='88.5' r='0.9' fill='#e8344e'/><circle cx='823.7' cy='99.3' r='0.9' fill='#e8344e'/><circle cx='826.4' cy='87.5' r='0.9' fill='#e8344e'/><circle cx='833.8' cy='87.4' r='0.9' fill='#e8344e'/><circle cx='830.7' cy='83.4' r='0.9' fill='#e8344e'/></g><rect x='535' y='315.5' width='31' height='8.5' fill='#231f20'/><g clip-path='url(#cBR)'><rect x='532' y='348' width='426' height='287' filter='url(#fD)'/><rect x='532' y='348' width='426' height='287' fill='url(#tD)'/><circle cx='602.3' cy='546.0' r='1.9' fill='#fff'/><circle cx='736.1' cy='410.0' r='2.1' fill='#fff'/><circle cx='876.1' cy='495.1' r='1.7' fill='#fff'/><circle cx='632.6' cy='348.9' r='1.5' fill='#fff'/><circle cx='781.4' cy='367.9' r='2.1' fill='#fff'/><circle cx='630.9' cy='414.8' r='1.0' fill='#fff'/><circle cx='957.0' cy='560.0' r='2.2' fill='#fff'/><circle cx='794.4' cy='357.8' r='1.4' fill='#fff'/><circle cx='744.0' cy='381.2' r='2.3' fill='#fff'/><circle cx='689.0' cy='392.4' r='2.1' fill='#fff'/><circle cx='585.2' cy='614.3' r='1.6' fill='#fff'/><circle cx='767.2' cy='446.4' r='1.6' fill='#fff'/><circle cx='611.6' cy='358.7' r='2.2' fill='#fff'/><circle cx='632.1' cy='571.9' r='1.2' fill='#fff'/><circle cx='944.7' cy='604.6' r='2.0' fill='#fff'/><circle cx='856.9' cy='514.7' r='2.0' fill='#fff'/><circle cx='584.2' cy='484.7' r='2.1' fill='#fff'/><circle cx='617.7' cy='612.9' r='2.2' fill='#fff'/><circle cx='706.5' cy='452.8' r='1.6' fill='#fff'/><circle cx='696.3' cy='633.5' r='1.5' fill='#fff'/><circle cx='543.4' cy='374.8' r='2.0' fill='#fff'/><circle cx='954.9' cy='490.4' r='1.6' fill='#fff'/><circle cx='766.5' cy='562.7' r='1.2' fill='#fff'/><circle cx='791.4' cy='507.7' r='1.8' fill='#fff'/><circle cx='609.0' cy='396.8' r='1.4' fill='#fff'/><circle cx='926.9' cy='447.5' r='1.8' fill='#fff'/><circle cx='662.6' cy='377.6' r='1.0' fill='#fff'/><circle cx='878.6' cy='571.0' r='1.5' fill='#fff'/><circle cx='823.1' cy='542.0' r='2.2' fill='#fff'/><circle cx='940.2' cy='464.8' r='2.4' fill='#fff'/><circle cx='941.6' cy='517.5' r='2.2' fill='#fff'/><circle cx='741.1' cy='455.8' r='1.3' fill='#fff'/><circle cx='905.2' cy='394.6' r='1.0' fill='#fff'/><circle cx='875.1' cy='570.1' r='1.6' fill='#fff'/><circle cx='888.6' cy='363.0' r='1.3' fill='#fff'/><circle cx='655.5' cy='468.4' r='1.2' fill='#fff'/><circle cx='561.6' cy='445.0' r='2.2' fill='#fff'/><circle cx='950.9' cy='562.1' r='1.6' fill='#fff'/><circle cx='639.4' cy='623.2' r='1.7' fill='#fff'/><circle cx='842.4' cy='356.1' r='1.2' fill='#fff'/><circle cx='889.1' cy='576.2' r='2.2' fill='#fff'/><circle cx='788.2' cy='470.3' r='1.8' fill='#fff'/><circle cx='893.8' cy='436.4' r='1.7' fill='#fff'/><circle cx='649.6' cy='568.5' r='0.9' fill='#fff'/><circle cx='823.9' cy='621.8' r='0.9' fill='#fff'/><circle cx='784.9' cy='532.8' r='2.2' fill='#fff'/><circle cx='780.9' cy='421.8' r='1.5' fill='#fff'/><circle cx='940.4' cy='607.9' r='1.1' fill='#fff'/><circle cx='572.4' cy='375.0' r='0.9' fill='#fff'/><circle cx='722.4' cy='388.4' r='2.2' fill='#fff'/><circle cx='811.2' cy='384.3' r='1.7' fill='#fff'/><circle cx='670.1' cy='489.7' r='1.2' fill='#fff'/><circle cx='602.8' cy='400.8' r='1.5' fill='#fff'/><circle cx='834.4' cy='505.9' r='1.0' fill='#fff'/><circle cx='834.8' cy='598.8' r='2.1' fill='#fff'/><circle cx='868.8' cy='350.2' r='1.6' fill='#fff'/><circle cx='559.0' cy='567.2' r='1.2' fill='#fff'/><circle cx='835.1' cy='420.6' r='1.9' fill='#fff'/><circle cx='665.6' cy='360.0' r='1.5' fill='#fff'/><circle cx='663.8' cy='606.5' r='1.3' fill='#fff'/><circle cx='746.3' cy='505.7' r='2.3' fill='#fff'/><circle cx='574.0' cy='520.5' r='1.7' fill='#fff'/><circle cx='844.9' cy='625.6' r='1.4' fill='#fff'/><circle cx='830.0' cy='498.9' r='1.7' fill='#fff'/><circle cx='559.1' cy='581.8' r='2.4' fill='#fff'/><circle cx='683.3' cy='439.3' r='2.4' fill='#fff'/><circle cx='577.8' cy='369.8' r='1.0' fill='#fff'/><circle cx='878.9' cy='566.1' r='1.6' fill='#fff'/><circle cx='796.7' cy='353.7' r='1.9' fill='#fff'/><circle cx='720.6' cy='496.5' r='1.5' fill='#fff'/><circle cx='703.0' cy='412.7' r='1.0' fill='#fff'/><circle cx='716.8' cy='418.9' r='2.0' fill='#fff'/><circle cx='880.2' cy='555.7' r='1.6' fill='#fff'/><circle cx='632.7' cy='458.6' r='1.6' fill='#fff'/><circle cx='801.2' cy='624.4' r='1.0' fill='#fff'/><circle cx='736.4' cy='489.2' r='2.0' fill='#fff'/><circle cx='911.3' cy='571.7' r='1.8' fill='#fff'/><circle cx='855.1' cy='539.7' r='2.2' fill='#fff'/><circle cx='829.8' cy='544.0' r='1.3' fill='#fff'/><circle cx='922.5' cy='458.8' r='1.8' fill='#fff'/><circle cx='883.4' cy='624.6' r='2.4' fill='#fff'/><circle cx='534.7' cy='437.7' r='1.4' fill='#fff'/><circle cx='698.7' cy='389.7' r='1.7' fill='#fff'/><circle cx='565.9' cy='434.8' r='2.3' fill='#fff'/><circle cx='848.2' cy='480.7' r='1.1' fill='#fff'/><circle cx='939.3' cy='550.0' r='1.2' fill='#fff'/><circle cx='674.8' cy='532.1' r='1.9' fill='#fff'/><circle cx='643.1' cy='621.0' r='1.4' fill='#fff'/><circle cx='640.3' cy='590.6' r='1.1' fill='#fff'/><circle cx='822.2' cy='405.4' r='1.8' fill='#fff'/><circle cx='650.2' cy='456.8' r='2.3' fill='#fff'/><circle cx='730.9' cy='473.4' r='1.8' fill='#fff'/><circle cx='651.5' cy='398.0' r='1.5' fill='#fff'/><circle cx='648.0' cy='402.1' r='2.3' fill='#fff'/><circle cx='546.6' cy='580.6' r='2.3' fill='#fff'/><circle cx='832.2' cy='353.4' r='1.7' fill='#fff'/><circle cx='548.7' cy='522.5' r='2.0' fill='#fff'/><circle cx='634.3' cy='350.2' r='1.7' fill='#fff'/><circle cx='572.3' cy='436.7' r='1.6' fill='#fff'/><circle cx='913.0' cy='454.2' r='1.1' fill='#fff'/><circle cx='869.3' cy='584.0' r='1.7' fill='#fff'/><circle cx='552.9' cy='401.8' r='1.5' fill='#fff'/><circle cx='767.1' cy='412.6' r='2.1' fill='#fff'/><circle cx='891.3' cy='613.5' r='2.2' fill='#fff'/><circle cx='539.5' cy='515.1' r='1.0' fill='#fff'/><circle cx='915.3' cy='562.4' r='2.0' fill='#fff'/><circle cx='612.2' cy='365.1' r='2.1' fill='#fff'/><circle cx='790.4' cy='526.0' r='1.6' fill='#fff'/><circle cx='872.8' cy='445.0' r='1.3' fill='#fff'/><circle cx='682.4' cy='433.5' r='1.8' fill='#fff'/><path d='M612,425 C620,414 638,414 643,424 C648,436 646,452 638,460 C630,466 616,462 611,450 C607,440 607,432 612,425Z' fill='#fff'/><path d='M640,452 L668,447 L668,450 L642,457Z' fill='#fff'/><ellipse cx='651' cy='427' rx='3.5' ry='6' fill='#fff'/><ellipse cx='640' cy='433' rx='2.5' ry='4' fill='#fff'/><path d='M751,588 C746,600 735,607 734,620 C733,632 745,640 760,640 C772,640 772,628 768,614 C764,602 757,595 751,588Z' fill='#fff'/><ellipse cx='751' cy='590' rx='2.5' ry='5' fill='#fff'/><path d='M575,624 C580,617 592,618 598,630 L598,636 L575,636Z' fill='#fff'/></g><rect x='534' y='619' width='30.6' height='8' fill='#231f20'/><g clip-path='url(#cBL)'><rect x='86' y='348' width='426' height='287' filter='url(#fC)'/><rect x='86' y='348' width='426' height='287' fill='url(#tC)'/><g stroke='#e0304a' stroke-width='1' stroke-opacity='0.55' fill='none'><path d='M426.4,441.5 L440.6,454.9'/><path d='M135.0,484.7 L132.0,501.0'/><path d='M148.0,529.0 L147.9,548.9'/><path d='M98.1,622.7 L114.7,632.7'/><path d='M302.1,587.8 L312.6,594.6'/><path d='M123.1,571.5 L122.0,582.3'/><path d='M167.7,371.2 L180.5,380.5'/><path d='M272.4,550.1 L291.6,554.8'/><path d='M504.4,560.3 L490.6,574.7'/><path d='M126.4,480.4 L144.8,485.0'/><path d='M315.2,378.6 L318.4,397.2'/><path d='M321.2,382.9 L312.6,384.6'/><path d='M445.2,627.5 L430.1,642.5'/><path d='M312.2,410.9 L313.8,429.2'/><path d='M413.4,458.3 L405.0,459.7'/><path d='M297.2,359.3 L306.6,379.0'/><path d='M136.2,630.9 L119.4,636.1'/><path d='M109.8,483.3 L104.5,491.0'/><path d='M213.0,374.4 L194.7,384.2'/><path d='M479.5,563.5 L477.4,572.1'/><path d='M291.1,566.3 L285.1,572.1'/><path d='M89.5,373.3 L80.2,375.6'/><path d='M252.3,484.6 L243.0,488.1'/><path d='M197.4,569.5 L207.3,572.3'/><path d='M96.7,623.0 L107.9,633.1'/><path d='M247.5,629.7 L237.4,642.6'/><path d='M294.5,424.9 L286.3,429.4'/><path d='M350.9,432.7 L360.2,443.6'/><path d='M166.6,517.9 L174.6,519.7'/><path d='M146.2,373.8 L132.2,379.5'/><path d='M375.1,571.6 L393.6,582.2'/><path d='M249.7,480.1 L250.4,497.8'/><path d='M413.3,403.7 L401.3,410.9'/><path d='M192.9,596.1 L174.5,603.9'/><path d='M223.8,610.3 L207.4,624.3'/><path d='M407.6,634.9 L408.8,653.4'/><path d='M418.8,498.5 L418.6,512.1'/><path d='M456.0,456.6 L444.9,468.0'/><path d='M387.1,436.7 L404.1,441.0'/><path d='M147.8,451.2 L141.1,456.7'/><path d='M474.1,517.0 L470.8,534.2'/><path d='M110.3,354.3 L99.9,366.8'/><path d='M358.4,584.3 L365.2,592.0'/><path d='M498.8,365.4 L497.9,382.1'/><path d='M492.9,372.9 L487.5,380.2'/><path d='M279.3,526.0 L271.6,530.0'/><path d='M404.9,390.7 L411.3,411.5'/><path d='M448.3,370.0 L456.7,370.1'/><path d='M418.6,359.0 L403.6,371.1'/><path d='M434.3,616.8 L426.4,634.7'/><path d='M317.3,539.8 L332.6,543.3'/><path d='M507.9,459.4 L501.3,467.6'/><path d='M291.2,503.4 L281.8,511.7'/><path d='M285.7,402.5 L280.6,423.0'/><path d='M250.7,537.2 L248.8,547.8'/><path d='M382.7,408.8 L375.0,429.3'/><path d='M216.7,539.9 L224.9,554.8'/><path d='M167.5,491.7 L158.9,498.6'/><path d='M237.1,412.8 L252.4,421.1'/><path d='M440.1,499.2 L442.2,511.3'/><path d='M187.9,618.5 L189.1,636.0'/><path d='M204.9,397.7 L217.0,398.0'/><path d='M264.5,497.6 L258.2,514.1'/><path d='M459.4,578.2 L448.7,594.2'/><path d='M316.8,483.7 L297.0,489.1'/><path d='M250.4,596.9 L254.5,615.0'/><path d='M96.3,518.7 L82.4,521.0'/><path d='M456.9,543.3 L466.0,543.9'/><path d='M226.8,626.8 L219.1,641.2'/><path d='M452.3,448.5 L465.1,454.8'/></g><mask id='mF'><g filter='url(#fBlur)' fill='#fff'><ellipse cx='101.7' cy='490.8' rx='9.3' ry='5.7' fill-opacity='0.69'/><ellipse cx='143.2' cy='455.4' rx='5.0' ry='5.6' fill-opacity='0.81'/><ellipse cx='171.4' cy='443.9' rx='6.9' ry='6.6' fill-opacity='0.88'/><ellipse cx='125.1' cy='470.8' rx='9.2' ry='7.5' fill-opacity='0.64'/><ellipse cx='140.9' cy='461.4' rx='9.8' ry='5.4' fill-opacity='0.85'/><ellipse cx='137.1' cy='447.0' rx='6.9' ry='6.9' fill-opacity='0.97'/><ellipse cx='137.9' cy='493.0' rx='6.2' ry='5.2' fill-opacity='0.87'/><ellipse cx='141.8' cy='391.3' rx='5.2' ry='7.9' fill-opacity='0.89'/><ellipse cx='116.3' cy='406.0' rx='9.2' ry='7.5' fill-opacity='0.84'/><ellipse cx='111.0' cy='439.0' rx='7.3' ry='8.2' fill-opacity='0.87'/><ellipse cx='101.7' cy='541.5' rx='9.2' ry='5.2' fill-opacity='0.66'/><ellipse cx='130.8' cy='460.1' rx='8.8' ry='7.6' fill-opacity='0.82'/><ellipse cx='155.3' cy='448.1' rx='6.0' ry='5.4' fill-opacity='0.74'/><ellipse cx='149.4' cy='380.3' rx='5.3' ry='6.7' fill-opacity='0.62'/><ellipse cx='120.1' cy='428.6' rx='5.9' ry='7.6' fill-opacity='0.93'/><ellipse cx='113.6' cy='415.8' rx='8.2' ry='6.1' fill-opacity='0.60'/><ellipse cx='123.8' cy='540.6' rx='8.1' ry='5.8' fill-opacity='0.94'/><ellipse cx='140.6' cy='407.5' rx='9.8' ry='6.1' fill-opacity='0.63'/><ellipse cx='76.1' cy='440.8' rx='8.0' ry='7.2' fill-opacity='0.80'/><ellipse cx='125.1' cy='499.5' rx='7.0' ry='7.2' fill-opacity='0.98'/><ellipse cx='148.5' cy='470.2' rx='9.7' ry='7.6' fill-opacity='0.63'/><ellipse cx='93.4' cy='481.2' rx='9.6' ry='5.3' fill-opacity='0.96'/><ellipse cx='132.8' cy='401.9' rx='7.7' ry='8.3' fill-opacity='0.70'/><ellipse cx='119.6' cy='376.7' rx='5.4' ry='6.1' fill-opacity='0.76'/><ellipse cx='171.4' cy='560.7' rx='6.3' ry='5.9' fill-opacity='0.84'/><ellipse cx='106.7' cy='440.9' rx='6.6' ry='7.0' fill-opacity='0.96'/><ellipse cx='182.4' cy='513.0' rx='9.7' ry='7.7' fill-opacity='0.92'/><ellipse cx='78.9' cy='553.8' rx='8.7' ry='7.7' fill-opacity='0.78'/><ellipse cx='137.6' cy='540.5' rx='8.7' ry='5.0' fill-opacity='0.72'/><ellipse cx='111.8' cy='440.8' rx='5.6' ry='5.8' fill-opacity='0.61'/><ellipse cx='240.4' cy='404.4' rx='7.5' ry='7.6' fill-opacity='0.72'/><ellipse cx='275.4' cy='424.1' rx='8.2' ry='7.7' fill-opacity='0.88'/><ellipse cx='185.4' cy='415.4' rx='6.6' ry='7.6' fill-opacity='0.93'/><ellipse cx='284.5' cy='393.8' rx='5.6' ry='5.1' fill-opacity='0.63'/><ellipse cx='133.3' cy='374.2' rx='9.6' ry='5.6' fill-opacity='0.77'/><ellipse cx='292.0' cy='374.3' rx='9.1' ry='6.0' fill-opacity='0.71'/><ellipse cx='229.5' cy='403.2' rx='7.0' ry='8.2' fill-opacity='0.86'/><ellipse cx='222.4' cy='401.6' rx='7.3' ry='8.6' fill-opacity='0.79'/><ellipse cx='225.6' cy='358.9' rx='9.4' ry='7.0' fill-opacity='0.75'/><ellipse cx='137.1' cy='399.9' rx='6.4' ry='5.8' fill-opacity='0.93'/><ellipse cx='150.3' cy='393.7' rx='5.9' ry='5.2' fill-opacity='0.69'/><ellipse cx='200.2' cy='392.3' rx='6.4' ry='8.8' fill-opacity='0.77'/><ellipse cx='285.6' cy='391.1' rx='6.5' ry='5.7' fill-opacity='0.86'/><ellipse cx='191.0' cy='374.0' rx='8.6' ry='8.5' fill-opacity='0.74'/><ellipse cx='205.6' cy='390.0' rx='8.0' ry='6.2' fill-opacity='0.86'/><ellipse cx='212.0' cy='370.9' rx='8.3' ry='8.8' fill-opacity='0.67'/><ellipse cx='224.1' cy='367.1' rx='9.7' ry='5.3' fill-opacity='0.75'/><ellipse cx='227.1' cy='403.8' rx='9.5' ry='7.1' fill-opacity='0.74'/><ellipse cx='223.4' cy='388.4' rx='5.1' ry='8.1' fill-opacity='0.82'/><ellipse cx='234.4' cy='368.7' rx='9.7' ry='6.3' fill-opacity='0.69'/><ellipse cx='316.5' cy='377.6' rx='5.2' ry='5.0' fill-opacity='0.61'/><ellipse cx='296.7' cy='368.8' rx='5.6' ry='8.2' fill-opacity='0.91'/><ellipse cx='283.9' cy='375.6' rx='7.2' ry='7.8' fill-opacity='0.76'/><ellipse cx='321.6' cy='381.1' rx='8.4' ry='8.7' fill-opacity='0.99'/><ellipse cx='291.4' cy='388.5' rx='7.6' ry='8.7' fill-opacity='0.68'/><ellipse cx='299.5' cy='402.0' rx='6.2' ry='8.2' fill-opacity='0.81'/><ellipse cx='404.7' cy='531.0' rx='8.5' ry='5.1' fill-opacity='0.68'/><ellipse cx='416.9' cy='522.4' rx='7.0' ry='5.1' fill-opacity='0.70'/><ellipse cx='391.0' cy='541.8' rx='7.1' ry='6.7' fill-opacity='0.73'/><ellipse cx='400.7' cy='523.9' rx='8.2' ry='7.2' fill-opacity='0.84'/><ellipse cx='383.8' cy='524.4' rx='8.8' ry='7.9' fill-opacity='0.86'/><ellipse cx='400.0' cy='516.4' rx='8.7' ry='6.2' fill-opacity='0.84'/><ellipse cx='402.0' cy='509.0' rx='8.1' ry='8.9' fill-opacity='0.80'/><ellipse cx='384.1' cy='564.6' rx='8.4' ry='6.3' fill-opacity='0.71'/><ellipse cx='128.8' cy='601.1' rx='9.9' ry='7.2' fill-opacity='0.91'/><ellipse cx='122.4' cy='634.4' rx='8.5' ry='8.5' fill-opacity='0.79'/><ellipse cx='143.7' cy='588.5' rx='5.7' ry='8.6' fill-opacity='0.72'/><ellipse cx='143.5' cy='589.5' rx='7.0' ry='7.1' fill-opacity='0.75'/><ellipse cx='125.7' cy='602.6' rx='5.4' ry='8.6' fill-opacity='0.74'/><ellipse cx='141.0' cy='602.6' rx='8.2' ry='7.5' fill-opacity='0.97'/><ellipse cx='89.2' cy='636.0' rx='5.1' ry='5.6' fill-opacity='0.80'/><ellipse cx='106.8' cy='585.1' rx='8.9' ry='7.2' fill-opacity='0.60'/><ellipse cx='96.8' cy='616.4' rx='6.3' ry='5.7' fill-opacity='0.86'/><ellipse cx='59.5' cy='613.3' rx='9.8' ry='6.2' fill-opacity='0.61'/><ellipse cx='505.6' cy='397.2' rx='7.1' ry='6.7' fill-opacity='0.63'/><ellipse cx='496.2' cy='397.6' rx='8.8' ry='5.5' fill-opacity='0.85'/><ellipse cx='484.9' cy='401.4' rx='8.4' ry='5.8' fill-opacity='0.88'/><ellipse cx='484.5' cy='404.9' rx='5.1' ry='6.3' fill-opacity='0.81'/><ellipse cx='496.8' cy='397.2' rx='7.9' ry='6.0' fill-opacity='0.94'/><ellipse cx='234.0' cy='532.4' rx='9.8' ry='5.4' fill-opacity='0.95'/><ellipse cx='248.9' cy='524.7' rx='5.6' ry='8.7' fill-opacity='0.72'/><ellipse cx='192.2' cy='506.4' rx='5.7' ry='5.3' fill-opacity='0.88'/><ellipse cx='249.0' cy='512.2' rx='6.3' ry='5.0' fill-opacity='0.74'/><ellipse cx='279.1' cy='522.1' rx='7.6' ry='5.1' fill-opacity='0.90'/><ellipse cx='242.8' cy='540.9' rx='5.2' ry='5.5' fill-opacity='0.75'/></g></mask><rect x='86' y='348' width='426' height='287' filter='url(#fFoam)' mask='url(#mF)'/><g fill='#fff'><circle cx='329.2' cy='530.0' r='2.6'/><circle cx='290.0' cy='602.2' r='3.9'/><circle cx='164.2' cy='535.7' r='3.9'/><circle cx='222.0' cy='545.9' r='2.6'/><circle cx='489.7' cy='531.0' r='2.6'/><circle cx='306.8' cy='607.6' r='4.8'/><circle cx='267.2' cy='592.4' r='3.9'/><circle cx='509.9' cy='365.3' r='4.8'/><circle cx='222.3' cy='416.6' r='1.4'/><circle cx='236.2' cy='537.6' r='3.2'/><circle cx='163.7' cy='378.0' r='1.4'/><circle cx='85.3' cy='465.3' r='2.3'/><circle cx='423.6' cy='517.6' r='2.6'/><circle cx='409.9' cy='451.2' r='2.3'/><circle cx='219.6' cy='604.7' r='2.0'/><circle cx='475.2' cy='558.2' r='1.7'/><circle cx='464.8' cy='616.7' r='2.6'/><circle cx='265.5' cy='493.5' r='4.3'/><circle cx='497.6' cy='486.2' r='3.2'/><circle cx='220.6' cy='624.5' r='2.0'/><circle cx='474.3' cy='396.2' r='2.9'/><circle cx='441.5' cy='472.3' r='4.8'/><circle cx='457.6' cy='564.4' r='3.9'/><circle cx='448.6' cy='368.8' r='2.3'/><circle cx='169.6' cy='523.2' r='4.8'/><circle cx='261.8' cy='612.7' r='2.0'/><circle cx='280.5' cy='573.1' r='2.3'/><circle cx='424.3' cy='412.4' r='2.9'/><circle cx='122.2' cy='605.8' r='2.6'/><circle cx='277.4' cy='404.8' r='2.3'/><circle cx='444.3' cy='421.2' r='3.9'/><circle cx='140.0' cy='578.8' r='3.5'/><circle cx='223.2' cy='560.8' r='1.4'/><circle cx='117.8' cy='444.1' r='2.6'/><circle cx='297.2' cy='520.4' r='2.6'/><circle cx='180.5' cy='358.3' r='1.4'/><circle cx='361.4' cy='624.3' r='3.2'/><circle cx='305.9' cy='575.7' r='1.7'/><circle cx='447.6' cy='490.9' r='3.2'/><circle cx='452.8' cy='552.1' r='3.2'/><circle cx='474.2' cy='528.4' r='4.8'/><circle cx='387.9' cy='456.2' r='4.8'/><circle cx='152.1' cy='409.6' r='2.0'/><circle cx='442.8' cy='384.3' r='2.0'/><circle cx='491.1' cy='466.5' r='4.3'/><circle cx='299.3' cy='577.2' r='1.7'/><circle cx='470.7' cy='500.5' r='4.3'/><circle cx='125.5' cy='627.3' r='2.3'/><circle cx='477.7' cy='414.7' r='2.6'/><circle cx='90.2' cy='436.2' r='2.3'/><circle cx='192.3' cy='472.3' r='2.9'/><circle cx='234.8' cy='380.7' r='1.7'/><circle cx='225.2' cy='535.1' r='2.6'/><circle cx='410.3' cy='399.3' r='2.3'/><circle cx='97.4' cy='554.5' r='3.2'/><circle cx='234.9' cy='625.7' r='3.9'/><circle cx='320.6' cy='560.9' r='2.6'/><circle cx='345.8' cy='555.9' r='2.0'/><circle cx='391.5' cy='384.2' r='2.9'/><circle cx='234.9' cy='564.3' r='4.8'/><circle cx='457.2' cy='518.4' r='2.3'/><circle cx='375.3' cy='488.6' r='4.3'/><circle cx='395.0' cy='626.9' r='2.9'/><circle cx='452.2' cy='378.6' r='1.4'/><circle cx='476.7' cy='568.7' r='3.2'/><circle cx='472.9' cy='518.5' r='3.2'/><circle cx='247.5' cy='579.5' r='3.5'/><circle cx='221.8' cy='587.8' r='3.9'/><circle cx='409.6' cy='610.6' r='2.0'/><circle cx='423.5' cy='628.6' r='1.7'/><circle cx='296.3' cy='546.1' r='3.2'/><circle cx='229.3' cy='493.4' r='2.9'/><circle cx='143.1' cy='504.7' r='1.4'/><circle cx='97.1' cy='505.5' r='2.3'/><circle cx='465.0' cy='410.8' r='2.9'/><circle cx='450.8' cy='511.4' r='3.5'/><circle cx='255.0' cy='573.7' r='1.7'/><circle cx='450.7' cy='499.4' r='2.0'/><circle cx='458.3' cy='600.0' r='3.2'/><circle cx='222.7' cy='434.0' r='2.0'/><circle cx='490.8' cy='411.1' r='1.7'/><circle cx='92.8' cy='620.1' r='2.0'/><circle cx='478.5' cy='604.7' r='1.4'/><circle cx='142.2' cy='451.6' r='1.7'/><circle cx='385.3' cy='604.5' r='3.9'/><circle cx='236.1' cy='553.8' r='2.0'/><circle cx='107.6' cy='491.4' r='2.0'/><circle cx='425.2' cy='447.9' r='1.7'/><circle cx='404.0' cy='369.2' r='1.7'/><circle cx='397.2' cy='396.4' r='3.5'/><circle cx='252.1' cy='544.6' r='4.3'/><circle cx='111.6' cy='571.0' r='3.5'/><circle cx='242.4' cy='490.4' r='4.8'/><circle cx='401.0' cy='559.8' r='4.8'/><circle cx='238.6' cy='349.4' r='1.4'/><circle cx='197.1' cy='589.8' r='3.5'/><circle cx='453.2' cy='618.5' r='1.7'/><circle cx='165.1' cy='462.4' r='3.2'/><circle cx='123.8' cy='440.0' r='2.3'/><circle cx='477.9' cy='384.4' r='4.3'/><circle cx='353.9' cy='567.2' r='2.0'/><circle cx='235.6' cy='574.6' r='3.2'/><circle cx='187.3' cy='541.0' r='1.4'/><circle cx='261.4' cy='549.3' r='2.9'/><circle cx='484.1' cy='402.2' r='3.9'/><circle cx='442.3' cy='463.9' r='2.6'/><circle cx='195.3' cy='567.1' r='2.3'/><circle cx='116.9' cy='578.7' r='1.4'/><circle cx='310.0' cy='553.8' r='1.7'/><circle cx='157.4' cy='616.6' r='4.3'/><circle cx='357.9' cy='592.2' r='3.5'/><circle cx='253.0' cy='444.7' r='2.3'/><circle cx='207.8' cy='611.2' r='3.9'/><circle cx='376.6' cy='594.3' r='1.4'/><circle cx='423.9' cy='581.7' r='3.2'/><circle cx='166.4' cy='480.8' r='2.0'/><circle cx='296.5' cy='636.4' r='1.4'/><circle cx='386.4' cy='562.0' r='4.3'/><circle cx='218.7' cy='423.3' r='2.6'/><circle cx='277.3' cy='556.8' r='2.3'/><circle cx='432.1' cy='378.9' r='2.9'/><circle cx='414.1' cy='456.1' r='2.3'/><circle cx='330.4' cy='517.6' r='1.7'/><circle cx='108.5' cy='601.0' r='2.6'/><circle cx='367.7' cy='547.2' r='4.3'/><circle cx='475.7' cy='461.4' r='4.8'/><circle cx='431.7' cy='480.9' r='3.5'/><circle cx='178.3' cy='504.5' r='2.6'/><circle cx='214.4' cy='472.0' r='2.6'/><circle cx='432.7' cy='624.0' r='2.3'/><circle cx='86.6' cy='502.6' r='2.0'/><circle cx='139.4' cy='549.6' r='1.4'/><circle cx='149.2' cy='506.6' r='3.2'/><circle cx='372.3' cy='582.3' r='3.9'/><circle cx='260.9' cy='413.6' r='2.3'/><circle cx='117.5' cy='372.0' r='1.7'/><circle cx='227.9' cy='434.5' r='2.0'/><circle cx='487.8' cy='564.0' r='3.5'/><circle cx='508.5' cy='432.7' r='4.3'/><circle cx='422.4' cy='508.6' r='4.8'/><circle cx='215.1' cy='526.2' r='4.3'/><circle cx='233.0' cy='482.8' r='4.3'/><circle cx='136.0' cy='367.7' r='2.3'/><circle cx='110.9' cy='424.7' r='2.3'/><circle cx='343.2' cy='382.0' r='3.9'/><circle cx='333.7' cy='596.6' r='2.3'/><circle cx='319.2' cy='586.4' r='2.9'/><circle cx='348.5' cy='581.8' r='2.6'/><circle cx='142.0' cy='356.2' r='1.4'/><circle cx='436.7' cy='392.2' r='2.3'/><circle cx='494.7' cy='630.5' r='2.3'/><circle cx='241.7' cy='443.4' r='1.7'/><circle cx='108.7' cy='533.8' r='2.6'/><circle cx='202.1' cy='540.2' r='4.8'/><circle cx='375.1' cy='350.4' r='2.3'/><circle cx='308.4' cy='592.3' r='2.9'/><circle cx='205.6' cy='595.6' r='2.6'/><circle cx='147.4' cy='606.4' r='2.6'/><circle cx='294.6' cy='499.5' r='2.3'/><circle cx='296.1' cy='623.2' r='3.5'/><circle cx='101.3' cy='563.6' r='1.7'/><circle cx='403.9' cy='381.8' r='3.9'/><circle cx='426.1' cy='527.0' r='2.6'/><circle cx='287.4' cy='393.0' r='1.4'/><circle cx='155.9' cy='568.7' r='3.5'/><circle cx='291.7' cy='352.9' r='2.3'/><circle cx='169.7' cy='424.1' r='1.7'/><circle cx='418.4' cy='380.7' r='4.8'/><circle cx='261.4' cy='582.4' r='4.3'/><circle cx='209.2' cy='479.8' r='3.2'/><circle cx='494.7' cy='355.1' r='3.2'/><circle cx='198.9' cy='615.6' r='2.9'/><circle cx='425.7' cy='355.7' r='1.7'/><circle cx='106.8' cy='519.3' r='2.0'/><circle cx='330.4' cy='582.1' r='4.8'/><circle cx='230.1' cy='509.2' r='2.3'/><circle cx='420.6' cy='620.7' r='4.3'/><circle cx='208.1' cy='546.5' r='2.6'/><circle cx='465.4' cy='459.3' r='2.6'/><circle cx='153.9' cy='552.5' r='1.4'/><circle cx='381.6' cy='596.2' r='2.3'/><circle cx='270.5' cy='402.6' r='2.3'/><circle cx='278.7' cy='599.8' r='2.0'/><circle cx='170.1' cy='592.9' r='3.5'/><circle cx='145.8' cy='466.7' r='2.3'/><circle cx='257.2' cy='595.1' r='2.9'/><circle cx='395.8' cy='444.1' r='3.5'/><circle cx='190.5' cy='599.0' r='4.3'/><circle cx='156.8' cy='606.5' r='3.2'/><circle cx='507.6' cy='473.8' r='2.3'/><circle cx='95.2' cy='465.2' r='1.4'/><circle cx='111.9' cy='487.9' r='2.3'/><circle cx='321.8' cy='377.8' r='2.3'/><circle cx='363.5' cy='563.0' r='4.8'/><circle cx='452.2' cy='527.1' r='2.0'/><circle cx='359.4' cy='539.5' r='1.4'/><circle cx='165.8' cy='613.3' r='2.0'/><circle cx='384.1' cy='618.0' r='2.9'/><circle cx='411.6' cy='424.6' r='1.4'/><circle cx='356.6' cy='353.9' r='2.0'/><circle cx='101.9' cy='502.5' r='1.4'/><circle cx='111.5' cy='508.2' r='1.7'/><circle cx='123.7' cy='537.8' r='2.3'/><circle cx='471.5' cy='600.5' r='2.9'/><circle cx='105.1' cy='553.4' r='1.7'/><circle cx='304.6' cy='531.4' r='3.5'/><circle cx='307.1' cy='422.9' r='1.7'/><circle cx='159.6' cy='375.7' r='1.7'/><circle cx='118.5' cy='450.9' r='2.3'/><circle cx='470.0' cy='389.3' r='2.9'/><circle cx='285.5' cy='634.1' r='1.4'/><circle cx='272.0' cy='609.2' r='1.4'/><circle cx='137.2' cy='479.7' r='2.0'/><circle cx='380.8' cy='548.1' r='1.4'/><circle cx='146.3' cy='514.5' r='3.9'/><circle cx='435.3' cy='532.5' r='2.6'/><circle cx='329.3' cy='562.6' r='4.8'/><circle cx='505.4' cy='418.1' r='1.4'/><circle cx='208.1' cy='490.9' r='3.9'/><circle cx='205.6' cy='506.2' r='1.7'/><circle cx='249.0' cy='441.7' r='1.7'/><circle cx='403.6' cy='453.5' r='2.3'/><circle cx='424.1' cy='429.5' r='3.5'/><circle cx='339.3' cy='557.0' r='2.3'/><circle cx='249.7' cy='599.4' r='2.9'/><circle cx='496.4' cy='538.6' r='2.3'/><circle cx='180.6' cy='478.2' r='2.9'/><circle cx='221.5' cy='399.2' r='1.7'/><circle cx='264.6' cy='564.5' r='2.6'/><circle cx='468.6' cy='379.5' r='3.9'/><circle cx='439.1' cy='497.4' r='2.6'/><circle cx='358.2' cy='361.1' r='2.0'/><circle cx='311.9' cy='521.1' r='1.7'/><circle cx='199.2' cy='375.5' r='2.0'/><circle cx='265.5' cy='369.1' r='2.3'/><circle cx='211.3' cy='463.4' r='1.4'/><circle cx='125.3' cy='575.9' r='1.4'/><circle cx='491.9' cy='385.7' r='2.9'/><circle cx='449.9' cy='446.0' r='3.5'/><circle cx='435.5' cy='438.0' r='4.3'/><circle cx='168.3' cy='600.7' r='2.6'/><circle cx='124.2' cy='418.8' r='2.0'/><circle cx='464.3' cy='480.2' r='4.8'/><circle cx='110.8' cy='548.5' r='3.9'/><circle cx='365.1' cy='387.7' r='2.9'/><circle cx='171.7' cy='556.6' r='3.5'/><circle cx='487.8' cy='547.6' r='2.6'/><circle cx='450.3' cy='431.4' r='4.3'/><circle cx='191.3' cy='460.8' r='4.8'/><circle cx='374.1' cy='414.3' r='1.4'/><circle cx='382.1' cy='540.7' r='2.9'/><circle cx='180.2' cy='552.7' r='4.3'/><circle cx='456.5' cy='588.0' r='3.2'/><circle cx='232.4' cy='609.6' r='2.6'/><circle cx='262.0' cy='528.2' r='2.6'/><circle cx='273.5' cy='544.1' r='3.5'/><circle cx='278.9' cy='439.0' r='1.4'/><circle cx='262.6' cy='447.9' r='2.0'/><circle cx='503.3' cy='520.8' r='4.8'/><circle cx='213.5' cy='536.3' r='4.8'/><circle cx='225.5' cy='371.5' r='1.7'/><circle cx='287.0' cy='517.6' r='1.4'/><circle cx='360.4' cy='581.4' r='3.5'/><circle cx='177.5' cy='543.0' r='2.3'/><circle cx='281.2' cy='523.3' r='3.9'/><circle cx='223.3' cy='478.5' r='2.6'/><circle cx='460.8' cy='420.8' r='2.3'/><circle cx='511.0' cy='460.6' r='1.7'/><circle cx='144.2' cy='426.0' r='2.3'/><circle cx='189.1' cy='393.1' r='1.7'/><circle cx='283.8' cy='605.9' r='2.3'/><circle cx='431.7' cy='512.1' r='3.2'/><circle cx='243.8' cy='478.5' r='1.4'/><circle cx='319.3' cy='567.7' r='2.0'/><circle cx='441.7' cy='388.9' r='1.7'/><circle cx='351.2' cy='358.4' r='1.7'/><circle cx='501.0' cy='583.0' r='4.3'/><circle cx='290.7' cy='581.4' r='2.3'/><circle cx='222.6' cy='428.1' r='1.7'/><circle cx='310.9' cy='540.3' r='4.3'/><circle cx='271.4' cy='574.4' r='4.3'/><circle cx='488.0' cy='614.4' r='3.9'/><circle cx='261.9' cy='480.2' r='1.7'/><circle cx='404.5' cy='521.9' r='2.6'/><circle cx='373.6' cy='572.7' r='2.0'/><circle cx='411.7' cy='406.5' r='2.9'/><circle cx='391.4' cy='497.3' r='4.3'/><circle cx='459.7' cy='574.8' r='3.9'/><circle cx='185.5' cy='502.1' r='1.4'/><circle cx='132.8' cy='578.8' r='1.7'/><circle cx='203.9' cy='623.6' r='1.7'/><circle cx='313.2' cy='625.4' r='4.3'/><circle cx='454.4' cy='361.3' r='4.3'/><circle cx='160.3' cy='404.1' r='2.3'/><circle cx='245.8' cy='361.9' r='1.4'/><circle cx='257.1' cy='363.9' r='2.3'/><circle cx='129.2' cy='556.6' r='2.9'/><circle cx='434.8' cy='555.7' r='2.6'/><circle cx='94.0' cy='580.2' r='3.9'/><circle cx='227.9' cy='517.0' r='3.9'/><circle cx='133.1' cy='463.4' r='1.7'/><circle cx='449.3' cy='389.0' r='3.5'/><circle cx='330.2' cy='382.9' r='2.3'/><circle cx='485.0' cy='454.5' r='2.9'/><circle cx='129.2' cy='381.3' r='2.3'/><circle cx='297.0' cy='611.2' r='3.2'/><circle cx='337.4' cy='397.5' r='1.7'/><circle cx='463.5' cy='592.6' r='3.5'/><circle cx='350.3' cy='370.9' r='1.7'/><circle cx='395.4' cy='369.5' r='3.9'/><circle cx='259.0' cy='630.8' r='2.6'/><circle cx='316.8' cy='549.3' r='1.4'/><circle cx='284.9' cy='577.2' r='1.4'/><circle cx='425.5' cy='391.2' r='1.7'/><circle cx='494.1' cy='435.0' r='1.4'/><circle cx='91.8' cy='400.9' r='2.0'/><circle cx='430.0' cy='421.6' r='4.3'/><circle cx='131.4' cy='497.5' r='1.4'/><circle cx='188.1' cy='428.4' r='2.6'/><circle cx='399.0' cy='437.0' r='3.2'/><circle cx='448.0' cy='402.8' r='3.2'/><circle cx='404.9' cy='632.8' r='2.0'/><circle cx='472.0' cy='449.2' r='2.9'/><circle cx='329.2' cy='612.5' r='3.2'/><circle cx='366.1' cy='582.6' r='1.4'/><circle cx='99.5' cy='477.1' r='2.0'/><circle cx='503.4' cy='457.4' r='2.3'/><circle cx='168.0' cy='509.5' r='4.8'/><circle cx='238.2' cy='432.4' r='2.0'/><circle cx='154.8' cy='450.7' r='2.3'/><circle cx='227.9' cy='594.8' r='1.7'/><circle cx='321.8' cy='628.7' r='3.9'/><circle cx='326.9' cy='543.7' r='3.9'/><circle cx='240.0' cy='616.5' r='3.5'/><circle cx='426.2' cy='599.1' r='2.3'/><circle cx='185.5' cy='561.6' r='3.2'/><circle cx='184.9' cy='513.9' r='2.9'/><circle cx='108.8' cy='562.3' r='2.9'/><circle cx='118.8' cy='535.6' r='1.4'/><circle cx='406.5' cy='583.3' r='3.9'/><circle cx='210.1' cy='452.9' r='2.0'/><circle cx='457.4' cy='461.9' r='4.3'/><circle cx='263.0' cy='438.3' r='2.3'/><circle cx='86.8' cy='385.5' r='1.4'/><circle cx='376.4' cy='526.6' r='4.3'/><circle cx='353.9' cy='504.8' r='2.0'/><circle cx='386.1' cy='439.4' r='1.4'/><circle cx='222.2' cy='410.4' r='1.7'/><circle cx='216.6' cy='430.2' r='2.3'/><circle cx='463.0' cy='493.3' r='3.5'/><circle cx='227.3' cy='572.9' r='1.7'/><circle cx='420.6' cy='536.6' r='2.0'/><circle cx='168.9' cy='572.5' r='3.5'/><circle cx='169.3' cy='402.4' r='1.7'/><circle cx='141.7' cy='402.9' r='2.0'/><circle cx='512.2' cy='501.5' r='2.6'/><circle cx='411.4' cy='478.9' r='4.3'/><circle cx='459.2' cy='408.3' r='2.3'/><circle cx='250.6' cy='374.4' r='2.3'/><circle cx='291.9' cy='530.3' r='4.8'/><circle cx='266.5' cy='524.0' r='1.4'/><circle cx='348.8' cy='597.5' r='3.9'/><circle cx='87.8' cy='372.0' r='2.3'/><circle cx='354.9' cy='549.9' r='3.2'/><circle cx='150.4' cy='629.5' r='2.3'/><circle cx='298.9' cy='359.2' r='2.0'/><circle cx='419.5' cy='585.8' r='1.4'/><circle cx='281.5' cy='505.1' r='3.5'/><circle cx='437.2' cy='349.2' r='4.3'/><circle cx='503.7' cy='625.3' r='1.7'/><circle cx='442.5' cy='519.4' r='1.7'/><circle cx='193.3' cy='536.0' r='1.4'/><circle cx='186.9' cy='576.0' r='3.2'/><circle cx='123.9' cy='552.4' r='1.7'/><circle cx='175.0' cy='563.1' r='2.6'/><circle cx='422.4' cy='570.2' r='2.6'/><circle cx='205.2' cy='420.4' r='2.6'/><circle cx='479.4' cy='629.3' r='2.3'/><circle cx='510.9' cy='401.9' r='2.0'/><circle cx='199.1' cy='395.3' r='2.6'/><circle cx='192.5' cy='487.6' r='4.8'/><circle cx='488.3' cy='355.1' r='1.4'/><circle cx='199.1' cy='554.6' r='2.3'/><circle cx='284.8' cy='616.3' r='2.3'/><circle cx='263.8' cy='424.1' r='2.3'/><circle cx='462.2' cy='369.5' r='3.2'/><circle cx='273.5' cy='623.5' r='4.8'/><circle cx='183.2' cy='483.1' r='1.4'/><circle cx='426.3' cy='589.8' r='4.3'/><circle cx='444.3' cy='507.2' r='2.3'/><circle cx='156.7' cy='519.7' r='4.3'/><circle cx='379.2' cy='405.3' r='2.0'/><circle cx='430.6' cy='452.6' r='2.6'/><circle cx='339.1' cy='509.8' r='1.7'/><circle cx='466.1' cy='524.6' r='2.6'/><circle cx='259.4' cy='506.0' r='2.0'/><circle cx='100.5' cy='602.8' r='1.4'/><circle cx='365.8' cy='597.5' r='4.8'/><circle cx='401.4' cy='494.6' r='2.3'/><circle cx='183.6' cy='591.1' r='2.0'/><circle cx='130.6' cy='563.0' r='1.7'/><circle cx='182.0' cy='620.6' r='4.3'/><circle cx='304.5' cy='566.7' r='2.3'/><circle cx='443.7' cy='612.8' r='1.7'/><circle cx='422.0' cy='368.8' r='3.9'/><circle cx='129.4' cy='440.6' r='2.0'/><circle cx='386.3' cy='516.9' r='4.3'/><circle cx='188.8' cy='412.6' r='2.0'/><circle cx='504.3' cy='555.0' r='4.8'/><circle cx='159.9' cy='547.3' r='2.3'/><circle cx='265.6' cy='507.0' r='1.7'/><circle cx='511.3' cy='530.6' r='3.9'/><circle cx='415.1' cy='517.8' r='3.9'/><circle cx='370.3' cy='532.0' r='1.4'/><circle cx='228.6' cy='619.8' r='1.7'/><circle cx='210.6' cy='387.9' r='2.0'/><circle cx='147.6' cy='620.6' r='3.9'/><circle cx='484.2' cy='594.7' r='2.0'/><circle cx='344.5' cy='548.3' r='2.0'/><circle cx='479.4' cy='445.0' r='3.2'/><circle cx='418.9' cy='394.6' r='1.4'/><circle cx='188.2' cy='477.8' r='2.0'/><circle cx='334.2' cy='621.4' r='4.8'/><circle cx='494.5' cy='455.8' r='2.6'/><circle cx='297.9' cy='595.9' r='4.8'/><circle cx='178.6' cy='390.7' r='2.0'/><circle cx='150.5' cy='599.0' r='1.7'/><circle cx='139.0' cy='597.7' r='2.3'/><circle cx='470.2' cy='434.5' r='2.9'/><circle cx='330.1' cy='363.8' r='1.4'/><circle cx='119.1' cy='399.5' r='2.6'/><circle cx='498.4' cy='427.7' r='3.9'/><circle cx='487.3' cy='578.0' r='1.4'/><circle cx='268.5' cy='535.8' r='3.2'/><circle cx='466.9' cy='357.4' r='2.0'/><circle cx='148.7' cy='485.5' r='2.6'/><circle cx='456.9' cy='547.6' r='1.4'/><circle cx='163.7' cy='350.6' r='2.0'/><circle cx='93.8' cy='510.7' r='2.3'/><circle cx='223.3' cy='614.1' r='1.4'/><circle cx='224.1' cy='458.5' r='4.8'/><circle cx='318.4' cy='505.6' r='1.4'/><circle cx='499.8' cy='376.3' r='2.9'/><circle cx='181.2' cy='372.2' r='2.3'/><circle cx='387.2' cy='446.2' r='3.2'/><circle cx='237.8' cy='600.6' r='3.9'/><circle cx='149.6' cy='366.1' r='1.4'/><circle cx='471.8' cy='613.7' r='2.9'/><circle cx='191.3' cy='552.3' r='4.8'/><circle cx='496.4' cy='449.8' r='2.0'/><circle cx='132.2' cy='473.2' r='1.7'/><circle cx='336.2' cy='404.7' r='1.4'/><circle cx='220.7' cy='486.1' r='3.2'/><circle cx='283.2' cy='623.3' r='3.2'/><circle cx='199.4' cy='581.9' r='3.5'/><circle cx='419.5' cy='355.6' r='3.5'/><circle cx='226.4' cy='449.1' r='2.9'/><circle cx='194.9' cy='512.7' r='3.9'/><circle cx='400.4' cy='363.1' r='1.4'/><circle cx='408.8' cy='362.4' r='4.8'/><circle cx='415.8' cy='498.0' r='4.3'/><circle cx='484.8' cy='482.6' r='2.3'/><circle cx='184.5' cy='527.2' r='2.3'/><circle cx='294.8' cy='539.6' r='1.7'/><circle cx='408.0' cy='433.3' r='1.7'/><circle cx='423.0' cy='541.8' r='2.0'/><circle cx='152.9' cy='445.6' r='2.0'/><circle cx='394.3' cy='605.6' r='3.9'/><circle cx='106.9' cy='410.9' r='2.0'/><circle cx='382.8' cy='581.1' r='1.4'/><circle cx='503.4' cy='394.6' r='3.9'/><circle cx='253.9' cy='513.5' r='4.8'/><circle cx='177.9' cy='401.5' r='2.0'/><circle cx='218.7' cy='577.8' r='4.3'/><circle cx='106.3' cy='636.8' r='1.7'/><circle cx='373.0' cy='361.1' r='2.0'/><circle cx='492.1' cy='362.5' r='2.0'/><circle cx='253.4' cy='622.6' r='2.3'/><circle cx='248.9' cy='563.8' r='2.0'/><circle cx='472.3' cy='351.5' r='2.9'/><circle cx='337.9' cy='551.5' r='2.0'/><circle cx='203.7' cy='586.5' r='1.7'/><circle cx='416.8' cy='541.8' r='2.0'/><circle cx='134.1' cy='434.6' r='2.0'/><circle cx='170.2' cy='617.0' r='1.7'/><circle cx='202.4' cy='458.2' r='2.3'/><circle cx='196.8' cy='346.5' r='2.3'/><circle cx='288.2' cy='479.5' r='1.4'/><circle cx='112.9' cy='526.3' r='2.9'/><circle cx='412.2' cy='437.6' r='3.2'/><circle cx='112.3' cy='382.0' r='2.3'/><circle cx='421.0' cy='443.0' r='3.2'/><circle cx='489.8' cy='630.4' r='1.4'/><circle cx='118.0' cy='614.6' r='2.3'/><circle cx='356.7' cy='389.8' r='3.9'/><circle cx='159.4' cy='635.0' r='3.2'/><circle cx='140.0' cy='571.9' r='2.0'/><circle cx='445.3' cy='623.3' r='4.8'/><circle cx='192.1' cy='380.6' r='1.7'/><circle cx='446.8' cy='412.8' r='1.7'/><circle cx='170.4' cy='607.3' r='1.7'/><circle cx='207.2' cy='439.3' r='3.5'/><circle cx='119.0' cy='386.0' r='1.4'/><circle cx='281.3' cy='567.9' r='2.0'/><circle cx='351.3' cy='396.1' r='1.4'/><circle cx='119.4' cy='631.2' r='3.2'/><circle cx='316.0' cy='516.7' r='2.6'/><circle cx='302.5' cy='581.0' r='2.3'/><circle cx='132.3' cy='413.2' r='1.4'/><circle cx='476.9' cy='482.4' r='4.3'/><circle cx='277.9' cy='461.6' r='1.7'/><circle cx='170.3' cy='391.6' r='1.4'/><circle cx='407.0' cy='352.3' r='2.9'/><circle cx='339.8' cy='368.2' r='3.9'/><circle cx='282.0' cy='587.1' r='1.4'/><circle cx='156.5' cy='541.6' r='2.6'/><circle cx='89.7' cy='445.9' r='1.4'/><circle cx='168.7' cy='563.3' r='2.6'/><circle cx='222.1' cy='378.6' r='1.4'/><circle cx='411.5' cy='470.2' r='3.2'/><circle cx='140.8' cy='363.1' r='1.4'/><circle cx='456.2' cy='395.4' r='2.3'/><circle cx='421.5' cy='550.6' r='2.9'/><circle cx='407.5' cy='531.5' r='2.6'/><circle cx='403.5' cy='469.2' r='3.2'/><circle cx='248.2' cy='523.3' r='1.7'/><circle cx='374.5' cy='392.5' r='1.4'/><circle cx='341.5' cy='564.6' r='1.4'/><circle cx='386.8' cy='347.9' r='3.9'/><circle cx='199.4' cy='524.5' r='3.2'/><circle cx='488.8' cy='606.7' r='1.7'/><circle cx='387.1' cy='531.7' r='3.5'/><circle cx='394.4' cy='409.0' r='2.9'/><circle cx='512.4' cy='409.4' r='3.2'/><circle cx='436.9' cy='592.1' r='4.3'/><circle cx='316.7' cy='600.8' r='2.9'/><circle cx='415.7' cy='431.0' r='2.6'/><circle cx='244.3' cy='375.9' r='1.7'/><circle cx='440.5' cy='481.9' r='3.2'/><circle cx='453.5' cy='452.6' r='2.9'/><circle cx='311.4' cy='405.1' r='2.3'/><circle cx='414.3' cy='582.0' r='2.6'/><circle cx='336.6' cy='361.2' r='2.0'/><circle cx='180.4' cy='569.8' r='1.4'/><circle cx='283.1' cy='553.7' r='2.6'/><circle cx='390.2' cy='543.4' r='2.0'/><circle cx='234.9' cy='438.9' r='1.4'/><circle cx='242.7' cy='566.4' r='1.4'/><circle cx='316.9' cy='575.5' r='2.9'/><circle cx='485.9' cy='430.4' r='2.9'/><circle cx='105.4' cy='356.1' r='2.0'/><circle cx='106.1' cy='591.2' r='2.3'/><circle cx='320.2' cy='620.9' r='1.4'/><circle cx='390.3' cy='585.4' r='2.3'/><circle cx='125.5' cy='385.0' r='2.0'/><circle cx='188.0' cy='507.8' r='2.9'/><circle cx='452.4' cy='483.4' r='2.9'/><circle cx='449.4' cy='598.1' r='4.8'/><circle cx='226.4' cy='470.4' r='2.6'/><circle cx='418.3' cy='482.3' r='2.3'/><circle cx='371.7' cy='513.1' r='4.8'/><circle cx='216.7' cy='613.7' r='3.5'/><circle cx='250.8' cy='557.2' r='1.7'/><circle cx='235.4' cy='415.9' r='1.4'/><circle cx='505.7' cy='495.9' r='1.7'/><circle cx='236.4' cy='400.9' r='1.7'/><circle cx='108.9' cy='395.2' r='1.7'/><circle cx='154.2' cy='468.3' r='2.6'/><circle cx='377.2' cy='564.9' r='2.6'/><circle cx='432.7' cy='580.1' r='3.5'/><circle cx='209.5' cy='375.4' r='1.4'/><circle cx='110.6' cy='631.2' r='1.7'/><circle cx='189.8' cy='449.7' r='3.5'/><circle cx='85.3' cy='538.7' r='1.4'/><circle cx='374.7' cy='612.3' r='2.9'/><circle cx='493.4' cy='443.2' r='3.5'/><circle cx='347.6' cy='635.6' r='3.9'/><circle cx='244.3' cy='594.7' r='2.0'/><circle cx='126.6' cy='619.7' r='2.0'/><circle cx='187.9' cy='582.8' r='2.6'/><circle cx='176.3' cy='409.3' r='2.3'/><circle cx='181.6' cy='346.4' r='2.3'/><circle cx='199.5' cy='436.9' r='1.4'/><circle cx='141.9' cy='459.4' r='1.7'/><circle cx='159.9' cy='556.6' r='2.3'/><circle cx='111.4' cy='463.0' r='2.0'/><circle cx='216.0' cy='435.8' r='2.0'/><circle cx='326.4' cy='592.1' r='2.9'/><circle cx='109.3' cy='512.1' r='1.7'/><circle cx='208.9' cy='416.1' r='1.7'/><circle cx='143.4' cy='587.9' r='4.3'/><circle cx='513.9' cy='444.0' r='2.9'/><circle cx='207.5' cy='578.7' r='3.5'/><circle cx='510.0' cy='609.0' r='4.8'/><circle cx='273.6' cy='487.2' r='1.4'/><circle cx='381.6' cy='379.9' r='3.5'/><circle cx='97.2' cy='516.0' r='2.0'/><circle cx='505.4' cy='449.9' r='1.4'/><circle cx='336.6' cy='376.5' r='3.5'/><circle cx='490.7' cy='517.7' r='4.8'/><circle cx='394.9' cy='539.8' r='2.0'/><circle cx='313.6' cy='531.5' r='3.5'/><circle cx='139.3' cy='421.5' r='1.7'/><circle cx='380.1' cy='397.9' r='4.3'/><circle cx='379.6' cy='627.1' r='1.4'/><circle cx='135.6' cy='378.8' r='1.4'/><circle cx='510.3' cy='346.4' r='2.0'/><circle cx='171.7' cy='631.1' r='2.9'/><circle cx='298.2' cy='506.0' r='2.6'/><circle cx='269.8' cy='481.2' r='2.0'/><circle cx='507.8' cy='596.3' r='1.4'/><circle cx='404.6' cy='506.9' r='2.9'/><circle cx='149.2' cy='539.6' r='2.3'/><circle cx='112.4' cy='410.6' r='2.0'/><circle cx='510.8' cy='585.2' r='4.3'/><circle cx='270.1' cy='433.0' r='2.3'/><circle cx='263.0' cy='381.8' r='2.3'/><circle cx='239.2' cy='508.5' r='2.3'/><circle cx='177.0' cy='512.8' r='2.3'/><circle cx='229.3' cy='422.4' r='2.0'/><circle cx='388.8' cy='597.5' r='2.6'/><circle cx='448.3' cy='396.7' r='1.4'/><circle cx='235.8' cy='591.8' r='2.3'/><circle cx='98.8' cy='369.5' r='2.3'/><circle cx='150.6' cy='559.2' r='4.3'/><circle cx='182.1' cy='364.1' r='1.7'/><circle cx='407.4' cy='605.8' r='2.0'/><circle cx='464.9' cy='543.7' r='2.9'/><circle cx='375.4' cy='553.2' r='3.5'/><circle cx='252.2' cy='415.7' r='1.4'/><circle cx='300.3' cy='403.8' r='1.4'/><circle cx='436.0' cy='363.2' r='2.3'/><circle cx='183.9' cy='393.3' r='2.3'/><circle cx='513.2' cy='515.3' r='2.3'/><circle cx='267.4' cy='614.5' r='2.0'/><circle cx='283.2' cy='354.0' r='2.3'/><circle cx='210.4' cy='516.8' r='4.8'/><circle cx='194.7' cy='399.4' r='1.7'/><circle cx='91.1' cy='490.0' r='2.0'/><circle cx='351.5' cy='605.9' r='2.0'/><circle cx='121.1' cy='528.9' r='1.4'/><circle cx='316.3' cy='347.6' r='1.4'/><circle cx='173.3' cy='584.0' r='3.5'/><circle cx='169.4' cy='366.6' r='1.7'/><circle cx='181.7' cy='428.0' r='1.7'/><circle cx='160.4' cy='593.2' r='3.5'/><circle cx='160.8' cy='498.1' r='2.9'/><circle cx='417.2' cy='389.0' r='2.3'/><circle cx='384.9' cy='552.5' r='3.2'/><circle cx='172.6' cy='546.8' r='1.7'/><circle cx='182.8' cy='461.3' r='1.7'/><circle cx='390.9' cy='355.6' r='3.5'/><circle cx='458.3' cy='511.2' r='1.4'/><circle cx='464.5' cy='442.5' r='3.2'/><circle cx='439.1' cy='378.3' r='2.6'/><circle cx='456.2' cy='369.9' r='1.7'/><circle cx='228.2' cy='552.3' r='2.6'/><circle cx='372.9' cy='600.4' r='1.4'/><circle cx='265.4' cy='464.7' r='2.6'/><circle cx='501.2' cy='503.6' r='2.3'/><circle cx='290.3' cy='423.7' r='2.3'/><circle cx='144.9' cy='438.1' r='1.4'/><circle cx='403.1' cy='538.8' r='2.6'/><circle cx='90.9' cy='451.3' r='2.0'/><circle cx='434.3' cy='468.6' r='2.0'/><circle cx='286.7' cy='540.6' r='1.4'/><circle cx='399.5' cy='353.7' r='2.0'/><circle cx='205.9' cy='473.0' r='3.2'/><circle cx='163.2' cy='365.3' r='2.3'/><circle cx='106.2' cy='419.0' r='2.0'/><circle cx='223.4' cy='356.2' r='2.3'/><circle cx='470.2' cy='426.1' r='3.2'/><circle cx='297.2' cy='559.7' r='3.9'/><circle cx='248.6' cy='407.4' r='2.0'/><circle cx='187.3' cy='632.6' r='4.3'/><circle cx='342.5' cy='532.5' r='4.8'/><circle cx='213.2' cy='636.9' r='3.5'/><circle cx='212.9' cy='551.1' r='1.4'/><circle cx='509.8' cy='571.0' r='2.3'/><circle cx='120.1' cy='358.5' r='2.3'/><circle cx='86.3' cy='571.7' r='1.4'/><circle cx='115.9' cy='420.1' r='2.3'/><circle cx='382.9' cy='423.0' r='4.8'/><circle cx='122.7' cy='433.9' r='2.3'/><circle cx='247.8' cy='591.5' r='1.7'/><circle cx='324.2' cy='513.9' r='2.6'/><circle cx='476.0' cy='542.1' r='1.7'/><circle cx='360.4' cy='431.5' r='1.4'/><circle cx='85.3' cy='604.2' r='3.9'/><circle cx='357.8' cy='478.6' r='1.4'/><circle cx='428.3' cy='619.7' r='1.4'/><circle cx='247.4' cy='401.7' r='2.0'/><circle cx='200.6' cy='464.8' r='2.9'/><circle cx='482.1' cy='377.9' r='1.7'/><circle cx='184.6' cy='492.9' r='3.2'/><circle cx='230.6' cy='367.1' r='2.0'/><circle cx='473.2' cy='634.5' r='4.8'/><circle cx='424.9' cy='546.2' r='1.4'/><circle cx='132.3' cy='603.4' r='2.3'/><circle cx='412.5' cy='627.4' r='1.7'/><circle cx='122.5' cy='459.2' r='1.4'/><circle cx='454.4' cy='495.7' r='1.4'/><circle cx='355.3' cy='611.4' r='2.3'/><circle cx='118.5' cy='390.1' r='1.4'/><circle cx='372.4' cy='635.2' r='2.9'/><circle cx='465.8' cy='608.4' r='3.9'/><circle cx='364.3' cy='571.0' r='2.0'/><circle cx='435.2' cy='446.3' r='1.7'/><circle cx='375.2' cy='444.0' r='2.6'/><circle cx='189.8' cy='377.0' r='1.4'/><circle cx='315.7' cy='352.6' r='1.7'/><circle cx='170.8' cy='467.9' r='2.3'/><circle cx='84.3' cy='633.4' r='1.7'/><circle cx='346.3' cy='562.7' r='2.9'/><circle cx='164.2' cy='472.8' r='2.9'/><circle cx='376.7' cy='499.7' r='3.2'/><circle cx='513.9' cy='483.5' r='1.7'/><circle cx='387.3' cy='365.1' r='2.9'/><circle cx='112.4' cy='469.2' r='2.0'/><circle cx='269.7' cy='600.9' r='2.0'/><circle cx='475.3' cy='367.9' r='3.9'/><circle cx='299.0' cy='568.0' r='1.4'/><circle cx='214.9' cy='624.1' r='2.6'/><circle cx='338.4' cy='589.9' r='2.3'/><circle cx='171.0' cy='354.7' r='2.0'/><circle cx='293.2' cy='413.5' r='1.7'/><circle cx='212.8' cy='588.4' r='3.9'/><circle cx='401.1' cy='512.8' r='2.6'/><circle cx='254.3' cy='431.4' r='1.7'/><circle cx='127.9' cy='429.3' r='1.4'/><circle cx='248.9' cy='348.3' r='2.3'/><circle cx='270.2' cy='513.4' r='3.9'/><circle cx='103.6' cy='480.4' r='2.0'/><circle cx='267.0' cy='632.0' r='3.9'/><circle cx='422.2' cy='456.4' r='3.5'/><circle cx='195.0' cy='608.7' r='2.3'/><circle cx='104.7' cy='578.1' r='1.7'/><circle cx='238.6' cy='425.2' r='1.7'/><circle cx='85.9' cy='410.9' r='2.3'/><circle cx='451.2' cy='472.3' r='3.2'/><circle cx='453.2' cy='540.0' r='2.9'/><circle cx='427.0' cy='609.9' r='4.8'/><circle cx='509.0' cy='628.4' r='2.0'/><circle cx='86.9' cy='351.5' r='1.4'/><circle cx='170.6' cy='454.5' r='3.9'/><circle cx='300.2' cy='552.7' r='2.3'/><circle cx='359.0' cy='519.4' r='2.3'/><circle cx='410.6' cy='490.5' r='1.4'/><circle cx='85.1' cy='362.0' r='1.7'/><circle cx='437.9' cy='450.8' r='2.0'/><circle cx='423.3' cy='406.1' r='1.7'/><circle cx='506.4' cy='383.0' r='4.8'/><circle cx='430.0' cy='468.9' r='1.4'/><circle cx='443.7' cy='574.5' r='3.2'/><circle cx='174.0' cy='496.3' r='2.9'/><circle cx='128.3' cy='636.4' r='1.4'/><circle cx='387.6' cy='400.5' r='2.3'/><circle cx='435.8' cy='633.8' r='2.3'/><circle cx='345.5' cy='438.9' r='2.3'/><circle cx='513.1' cy='561.7' r='1.7'/><circle cx='310.5' cy='385.9' r='1.4'/><circle cx='343.0' cy='626.7' r='1.7'/><circle cx='464.9' cy='582.2' r='2.3'/><circle cx='112.6' cy='621.3' r='3.2'/><circle cx='388.2' cy='475.4' r='2.6'/><circle cx='444.2' cy='437.3' r='3.2'/><circle cx='433.1' cy='573.2' r='1.4'/><circle cx='361.3' cy='615.3' r='3.9'/><circle cx='325.1' cy='600.9' r='4.3'/><circle cx='153.1' cy='496.1' r='1.4'/><circle cx='160.1' cy='485.0' r='1.7'/><circle cx='253.5' cy='489.6' r='3.5'/><circle cx='459.6' cy='502.7' r='2.9'/><circle cx='140.4' cy='566.9' r='2.0'/><circle cx='347.8' cy='524.7' r='1.7'/><circle cx='369.1' cy='401.5' r='1.7'/><circle cx='194.7' cy='544.7' r='2.6'/><circle cx='119.7' cy='521.5' r='2.6'/><circle cx='227.4' cy='627.4' r='2.0'/><circle cx='395.3' cy='527.1' r='1.7'/><circle cx='331.5' cy='552.4' r='3.2'/><circle cx='172.8' cy='431.6' r='2.6'/><circle cx='499.9' cy='359.9' r='2.3'/><circle cx='358.7' cy='376.3' r='3.2'/><circle cx='201.3' cy='497.2' r='2.0'/><circle cx='224.0' cy='566.9' r='1.7'/><circle cx='287.1' cy='547.6' r='3.5'/><circle cx='366.1' cy='378.2' r='3.2'/><circle cx='366.3' cy='523.4' r='3.9'/><circle cx='300.7' cy='619.2' r='1.7'/><circle cx='446.4' cy='353.9' r='2.6'/><circle cx='321.1' cy='635.4' r='1.7'/><circle cx='103.2' cy='450.4' r='2.3'/><circle cx='234.3' cy='406.1' r='1.7'/><circle cx='407.6' cy='390.5' r='1.4'/><circle cx='414.6' cy='569.0' r='1.4'/><circle cx='230.7' cy='390.3' r='2.3'/><circle cx='216.4' cy='371.2' r='2.6'/><circle cx='201.9' cy='569.7' r='3.9'/><circle cx='395.9' cy='578.7' r='3.5'/><circle cx='374.8' cy='534.3' r='1.4'/><circle cx='360.0' cy='493.4' r='2.0'/><circle cx='366.2' cy='359.8' r='2.3'/><circle cx='470.0' cy='551.2' r='2.9'/><circle cx='366.8' cy='628.2' r='2.3'/><circle cx='137.4' cy='501.1' r='2.0'/><circle cx='279.8' cy='467.4' r='1.4'/><circle cx='93.2' cy='502.7' r='1.4'/><circle cx='496.6' cy='569.9' r='2.3'/><circle cx='210.0' cy='559.6' r='3.5'/><circle cx='134.4' cy='428.1' r='2.3'/><circle cx='432.9' cy='401.4' r='1.4'/><circle cx='271.4' cy='500.8' r='2.0'/><circle cx='308.7' cy='480.1' r='2.3'/><circle cx='454.9' cy='350.8' r='2.9'/><circle cx='462.1' cy='551.4' r='3.5'/><circle cx='451.0' cy='581.2' r='3.2'/><circle cx='302.5' cy='543.8' r='1.7'/><circle cx='440.9' cy='559.3' r='1.7'/><circle cx='459.6' cy='381.3' r='3.5'/><circle cx='506.1' cy='467.2' r='2.9'/><circle cx='462.9' cy='390.8' r='1.7'/><circle cx='113.0' cy='349.3' r='1.4'/><circle cx='400.5' cy='419.5' r='2.3'/><circle cx='407.8' cy='445.0' r='2.0'/><circle cx='381.8' cy='386.4' r='1.4'/><circle cx='498.1' cy='549.2' r='1.7'/><circle cx='258.6' cy='468.3' r='2.3'/><circle cx='279.7' cy='582.5' r='1.7'/><circle cx='235.1' cy='583.0' r='1.7'/><circle cx='434.1' cy='522.7' r='2.3'/><circle cx='265.0' cy='407.5' r='1.4'/><circle cx='265.0' cy='452.6' r='1.4'/><circle cx='433.3' cy='487.4' r='1.4'/><circle cx='238.4' cy='460.0' r='3.5'/><circle cx='97.7' cy='493.9' r='1.7'/><circle cx='197.9' cy='503.5' r='1.4'/><circle cx='359.2' cy='636.4' r='1.7'/><circle cx='87.8' cy='367.0' r='1.7'/><circle cx='309.5' cy='634.9' r='2.9'/><circle cx='238.4' cy='474.0' r='2.3'/><circle cx='158.0' cy='349.1' r='2.0'/><circle cx='459.6' cy='428.1' r='2.6'/><circle cx='342.8' cy='619.3' r='2.9'/><circle cx='283.0' cy='375.7' r='2.3'/><circle cx='343.4' cy='513.5' r='2.0'/><circle cx='262.8' cy='536.2' r='1.4'/><circle cx='499.9' cy='615.1' r='3.2'/><circle cx='100.9' cy='538.1' r='2.0'/><circle cx='131.6' cy='451.7' r='2.0'/><circle cx='420.6' cy='348.1' r='1.4'/><circle cx='222.9' cy='496.3' r='3.2'/><circle cx='473.2' cy='512.1' r='2.0'/><circle cx='96.3' cy='389.1' r='1.7'/><circle cx='425.1' cy='464.0' r='1.4'/><circle cx='229.4' cy='377.3' r='2.3'/><circle cx='362.9' cy='472.6' r='1.4'/><circle cx='141.7' cy='346.3' r='2.3'/><circle cx='106.0' cy='456.6' r='1.7'/><circle cx='216.3' cy='365.0' r='2.6'/><circle cx='356.1' cy='407.4' r='1.4'/><circle cx='347.9' cy='572.2' r='4.3'/><circle cx='357.2' cy='366.7' r='2.0'/><circle cx='144.6' cy='379.7' r='2.6'/><circle cx='103.5' cy='383.7' r='2.0'/><circle cx='493.2' cy='422.0' r='2.9'/><circle cx='379.9' cy='368.3' r='2.9'/><circle cx='240.8' cy='410.7' r='2.0'/><circle cx='269.3' cy='443.9' r='1.4'/><circle cx='264.2' cy='557.0' r='3.5'/><circle cx='266.8' cy='418.1' r='1.7'/><circle cx='172.2' cy='486.5' r='3.5'/><circle cx='92.1' cy='353.6' r='1.7'/><circle cx='250.8' cy='452.6' r='1.7'/><circle cx='120.6' cy='487.5' r='1.7'/><circle cx='414.8' cy='595.4' r='3.9'/><circle cx='172.5' cy='539.2' r='2.6'/><circle cx='93.7' cy='631.6' r='1.7'/><circle cx='243.2' cy='625.9' r='3.2'/><circle cx='309.3' cy='571.0' r='1.4'/><circle cx='126.5' cy='485.3' r='1.4'/><circle cx='242.1' cy='404.0' r='2.3'/><circle cx='319.6' cy='363.2' r='1.7'/><circle cx='99.0' cy='437.6' r='2.3'/><circle cx='256.5' cy='538.7' r='2.0'/><circle cx='417.5' cy='575.2' r='1.4'/><circle cx='186.5' cy='608.4' r='2.9'/><circle cx='367.2' cy='608.0' r='3.5'/><circle cx='91.1' cy='530.6' r='2.6'/><circle cx='139.9' cy='410.0' r='2.0'/><circle cx='403.4' cy='598.8' r='4.3'/><circle cx='205.4' cy='635.2' r='1.7'/><circle cx='87.7' cy='516.4' r='1.7'/><circle cx='398.6' cy='484.5' r='3.9'/><circle cx='230.1' cy='401.1' r='2.3'/><circle cx='110.3' cy='373.7' r='2.0'/><circle cx='273.8' cy='379.8' r='2.3'/><circle cx='117.9' cy='504.2' r='2.3'/><circle cx='263.7' cy='605.5' r='2.9'/><circle cx='352.8' cy='513.9' r='4.3'/><circle cx='96.5' cy='424.2' r='2.6'/><circle cx='213.2' cy='393.2' r='2.0'/><circle cx='233.4' cy='373.7' r='1.7'/><circle cx='137.4' cy='521.2' r='2.6'/><circle cx='401.4' cy='624.7' r='1.7'/><circle cx='263.1' cy='457.9' r='1.4'/><circle cx='151.5' cy='547.9' r='2.3'/><circle cx='474.8' cy='472.5' r='1.4'/><circle cx='297.1' cy='365.6' r='2.0'/><circle cx='439.0' cy='491.1' r='1.4'/><circle cx='123.5' cy='561.1' r='1.7'/><circle cx='350.7' cy='537.1' r='2.0'/><circle cx='181.4' cy='581.0' r='3.2'/><circle cx='439.9' cy='514.5' r='2.3'/><circle cx='208.3' cy='624.8' r='2.0'/><circle cx='325.2' cy='492.8' r='2.3'/><circle cx='441.0' cy='540.9' r='4.3'/><circle cx='345.7' cy='414.6' r='2.3'/><circle cx='124.8' cy='392.4' r='2.0'/><circle cx='196.8' cy='636.4' r='2.6'/><circle cx='428.7' cy='540.2' r='1.7'/><circle cx='398.5' cy='615.7' r='1.7'/><circle cx='212.8' cy='351.2' r='1.4'/><circle cx='316.1' cy='401.5' r='1.4'/><circle cx='89.0' cy='521.4' r='2.3'/><circle cx='297.0' cy='349.6' r='2.0'/><circle cx='337.8' cy='350.5' r='2.3'/><circle cx='460.0' cy='470.4' r='3.5'/><circle cx='454.1' cy='607.6' r='3.2'/><circle cx='267.8' cy='375.7' r='1.7'/><circle cx='282.4' cy='478.0' r='2.0'/><circle cx='302.4' cy='367.8' r='1.4'/><circle cx='501.4' cy='412.7' r='4.3'/><circle cx='298.3' cy='392.4' r='2.3'/><circle cx='117.9' cy='462.3' r='1.4'/><circle cx='344.6' cy='397.3' r='2.3'/><circle cx='231.4' cy='635.0' r='4.8'/><circle cx='418.7' cy='466.8' r='1.7'/><circle cx='147.4' cy='581.2' r='2.3'/><circle cx='92.5' cy='365.6' r='2.0'/><circle cx='107.5' cy='446.3' r='2.3'/><circle cx='507.3' cy='619.8' r='2.9'/><circle cx='465.7' cy='346.8' r='1.7'/><circle cx='475.5' cy='493.1' r='2.0'/><circle cx='338.3' cy='578.6' r='1.7'/><circle cx='142.1' cy='416.1' r='2.0'/><circle cx='135.9' cy='554.3' r='2.9'/><circle cx='404.3' cy='620.4' r='2.0'/><circle cx='128.8' cy='547.3' r='2.6'/><circle cx='150.7' cy='419.8' r='2.3'/><circle cx='258.9' cy='620.9' r='1.7'/><circle cx='446.8' cy='460.4' r='2.0'/><circle cx='253.8' cy='459.7' r='1.4'/><circle cx='314.3' cy='561.7' r='2.0'/><circle cx='351.4' cy='529.3' r='3.2'/><circle cx='306.7' cy='351.1' r='2.6'/><circle cx='481.8' cy='543.8' r='1.7'/><circle cx='374.8' cy='373.2' r='2.9'/><circle cx='511.8' cy='455.5' r='2.0'/><circle cx='378.3' cy='472.8' r='2.3'/><circle cx='140.7' cy='629.7' r='2.9'/><circle cx='358.6' cy='600.1' r='1.4'/><circle cx='305.9' cy='377.3' r='2.3'/><circle cx='156.5' cy='366.3' r='2.0'/><circle cx='218.4' cy='383.3' r='1.4'/><circle cx='280.9' cy='387.0' r='1.7'/><circle cx='415.2' cy='553.8' r='2.6'/><circle cx='145.8' cy='500.8' r='1.7'/><circle cx='453.5' cy='414.9' r='2.6'/><circle cx='232.7' cy='357.3' r='2.3'/><circle cx='369.8' cy='455.0' r='1.7'/><circle cx='371.0' cy='396.4' r='2.6'/><circle cx='91.7' cy='599.5' r='1.7'/><circle cx='195.0' cy='559.0' r='1.4'/><circle cx='491.8' cy='476.9' r='4.3'/><circle cx='453.4' cy='384.5' r='1.4'/><circle cx='263.7' cy='598.3' r='1.7'/><circle cx='135.1' cy='613.3' r='2.6'/><circle cx='243.9' cy='501.5' r='2.0'/><circle cx='176.0' cy='415.1' r='1.4'/><circle cx='169.0' cy='407.1' r='1.4'/><circle cx='156.0' cy='371.5' r='2.3'/><circle cx='107.4' cy='495.9' r='1.4'/><circle cx='204.9' cy='403.1' r='1.4'/><circle cx='282.3' cy='491.8' r='1.7'/><circle cx='252.9' cy='614.8' r='2.3'/><circle cx='374.3' cy='404.3' r='1.4'/><circle cx='479.5' cy='579.3' r='1.4'/><circle cx='293.1' cy='376.2' r='2.3'/><circle cx='205.4' cy='408.6' r='1.7'/><circle cx='289.3' cy='560.6' r='2.6'/><circle cx='349.4' cy='588.1' r='2.6'/><circle cx='259.0' cy='349.7' r='1.4'/><circle cx='158.9' cy='396.2' r='2.3'/><circle cx='421.6' cy='530.7' r='1.4'/><circle cx='481.6' cy='557.2' r='2.9'/><circle cx='276.9' cy='612.7' r='1.7'/><circle cx='307.6' cy='549.3' r='1.4'/><circle cx='146.4' cy='565.8' r='1.4'/><circle cx='101.0' cy='607.8' r='2.0'/><circle cx='223.0' cy='389.3' r='2.0'/><circle cx='239.8' cy='381.6' r='1.7'/><circle cx='394.9' cy='432.0' r='1.4'/><circle cx='140.4' cy='487.8' r='2.6'/><circle cx='273.3' cy='387.4' r='1.4'/><circle cx='478.2' cy='423.6' r='2.0'/><circle cx='87.3' cy='618.8' r='1.4'/><circle cx='378.3' cy='436.8' r='2.6'/><circle cx='216.9' cy='565.7' r='3.5'/><circle cx='201.4' cy='604.9' r='1.4'/><circle cx='86.3' cy='595.3' r='2.3'/><circle cx='100.0' cy='431.4' r='1.4'/><circle cx='344.3' cy='591.8' r='1.4'/><circle cx='435.8' cy='609.1' r='1.7'/><circle cx='508.4' cy='507.4' r='2.3'/><circle cx='284.6' cy='347.9' r='1.7'/><circle cx='297.3' cy='382.1' r='1.4'/><circle cx='253.6' cy='637.0' r='2.3'/><circle cx='436.3' cy='405.0' r='2.6'/><circle cx='98.1' cy='593.8' r='3.9'/><circle cx='115.5' cy='479.4' r='2.0'/><circle cx='469.1' cy='573.1' r='4.3'/><circle cx='230.2' cy='464.7' r='1.4'/><circle cx='434.0' cy='503.4' r='1.7'/><circle cx='311.4' cy='579.8' r='2.6'/><circle cx='406.7' cy='462.4' r='2.6'/><circle cx='467.5' cy='404.1' r='2.3'/><circle cx='274.5' cy='457.2' r='2.6'/><circle cx='308.8' cy='560.5' r='2.6'/><circle cx='303.5' cy='360.5' r='1.4'/><circle cx='133.3' cy='350.1' r='2.3'/><circle cx='120.5' cy='576.1' r='2.0'/><circle cx='158.1' cy='625.7' r='3.2'/><circle cx='438.9' cy='526.4' r='1.7'/><circle cx='89.4' cy='547.0' r='3.2'/><circle cx='409.7' cy='575.5' r='2.0'/><circle cx='233.0' cy='347.8' r='1.4'/><circle cx='98.6' cy='459.4' r='2.6'/><circle cx='147.6' cy='396.7' r='1.7'/><circle cx='302.4' cy='498.4' r='1.4'/><circle cx='345.2' cy='392.5' r='1.4'/><circle cx='133.4' cy='537.1' r='2.6'/><circle cx='394.8' cy='534.3' r='2.3'/><circle cx='175.2' cy='636.4' r='1.7'/><circle cx='440.8' cy='413.0' r='3.2'/><circle cx='362.7' cy='367.2' r='2.3'/><circle cx='404.9' cy='546.8' r='3.9'/><circle cx='160.5' cy='581.6' r='2.6'/><circle cx='385.0' cy='487.3' r='2.0'/><circle cx='386.1' cy='628.5' r='1.7'/></g><path d='M292,416 C296,414 300,420 306,430 C311,438 314,443 318,443 C332,440 346,448 348,466 C350,484 343,500 330,501 C318,502 309,490 308,470 C307,458 304,450 300,442 C294,432 288,422 292,416Z' fill='#fff'/><ellipse cx='300' cy='474' rx='3.5' ry='6' fill='#fff'/><path d='M316,480 C320,476 326,482 328,488 C329,493 322,494 318,489Z' fill='#d8203a'/><ellipse cx='128' cy='497' rx='5.5' ry='9' fill='#c8304a'/><ellipse cx='128' cy='497' rx='3.5' ry='6' fill='#f4dde4'/></g><rect x='89' y='619' width='37.6' height='8.5' fill='#231f20'/><text x='0.0' y='32.8' font-size='40' font-weight='bold' stroke='#231f20' stroke-width='1.1'>a</text><text x='298.5' y='32.8' font-size='27.5' text-anchor='middle' textLength='93.7' lengthAdjust='spacingAndGlyphs'>Vehicle</text><text x='745.0' y='33.0' font-size='27.5' text-anchor='middle' textLength='44.6' lengthAdjust='spacingAndGlyphs'>IMT</text><text x='0.6' y='204.7' font-size='28' textLength='72.4' lengthAdjust='spacingAndGlyphs'>Chow</text><text x='20.5' y='500.0' font-size='27.5' textLength='52.0' lengthAdjust='spacingAndGlyphs'>HFD</text><text x='991.0' y='33.5' font-size='40' font-weight='bold' stroke='#231f20' stroke-width='1.1'>b</text><line x1='1095.7' y1='86.5' x2='1095.7' y2='598.3' stroke='#231f20' stroke-width='1.5'/><line x1='1082.7' y1='86.5' x2='1095.7' y2='86.5' stroke='#231f20' stroke-width='1.5'/><text x='1069.5' y='94.5' font-size='22.7' text-anchor='end' textLength='27.4' lengthAdjust='spacingAndGlyphs'>60</text><line x1='1082.7' y1='257.1' x2='1095.7' y2='257.1' stroke='#231f20' stroke-width='1.5'/><text x='1069.5' y='265.1' font-size='22.7' text-anchor='end' textLength='27.4' lengthAdjust='spacingAndGlyphs'>40</text><line x1='1082.7' y1='427.7' x2='1095.7' y2='427.7' stroke='#231f20' stroke-width='1.5'/><text x='1069.5' y='435.7' font-size='22.7' text-anchor='end' textLength='27.5' lengthAdjust='spacingAndGlyphs'>20</text><line x1='1082.7' y1='598.3' x2='1095.7' y2='598.3' stroke='#231f20' stroke-width='1.5'/><text x='1069.5' y='606.3' font-size='22.7' text-anchor='end' textLength='13.4' lengthAdjust='spacingAndGlyphs'>0</text><line x1='1082.7' y1='598.3' x2='1317.3' y2='598.3' stroke='#231f20' stroke-width='1.5'/><line x1='1129.2' y1='598.3' x2='1129.2' y2='606.0' stroke='#231f20' stroke-width='1.5'/><line x1='1180.6' y1='598.3' x2='1180.6' y2='606.0' stroke='#231f20' stroke-width='1.5'/><line x1='1231.9' y1='598.3' x2='1231.9' y2='606.0' stroke='#231f20' stroke-width='1.5'/><line x1='1283.8' y1='598.3' x2='1283.8' y2='606.0' stroke='#231f20' stroke-width='1.5'/><text transform='translate(1020.4,507.5) rotate(-90)' font-size='27' textLength='331.5' lengthAdjust='spacingAndGlyphs'>Liver triglycerides (mg g<tspan dy='-9' font-size='16'>&#8722;1</tspan><tspan dy='9'>)</tspan></text><path d='M1113.7,598.3V537.8H1144.4V598.3' fill='none' stroke='#231f20' stroke-width='1.7'/><path d='M1165.1,598.3V550.2H1195.8V598.3' fill='none' stroke='#e8262b' stroke-width='1.7'/><path d='M1216.9,598.3V437.7H1247.6V598.3' fill='none' stroke='#f7931e' stroke-width='1.7'/><path d='M1268.0,598.3V500.6H1298.7V598.3' fill='none' stroke='#4470c0' stroke-width='1.7'/><path d='M1129.0,527.5V548.2M1120.7,527.5H1137.3M1120.7,548.2H1137.3' fill='none' stroke='#231f20' stroke-width='1.5'/><g fill='none' stroke='#231f20' stroke-width='1.4'><circle cx='1123.4' cy='479.5' r='5.2'/><circle cx='1134.6' cy='478.4' r='5.2'/><circle cx='1141.1' cy='508.0' r='5.2'/><circle cx='1129.2' cy='513.6' r='5.2'/><circle cx='1117.3' cy='534.6' r='5.2'/><circle cx='1141.1' cy='534.6' r='5.2'/><circle cx='1129.2' cy='537.8' r='5.2'/><circle cx='1129.2' cy='552.5' r='5.2'/><circle cx='1129.2' cy='572.9' r='5.2'/><circle cx='1141.1' cy='569.2' r='5.2'/><circle cx='1141.1' cy='581.1' r='5.2'/><circle cx='1117.3' cy='590.2' r='5.2'/></g><path d='M1180.4,543.2V553.0M1172.1,543.2H1188.7M1172.1,553.0H1188.7' fill='none' stroke='#e8262b' stroke-width='1.5'/><g fill='none' stroke='#e8262b' stroke-width='1.4'><circle cx='1180.6' cy='513.0' r='5.2'/><circle cx='1180.6' cy='523.8' r='5.2'/><circle cx='1169.2' cy='538.9' r='5.2'/><circle cx='1184.3' cy='538.9' r='5.2'/><circle cx='1193.0' cy='538.9' r='5.2'/><circle cx='1176.3' cy='545.4' r='5.2'/><circle cx='1184.3' cy='555.1' r='5.2'/><circle cx='1169.2' cy='560.5' r='5.2'/><circle cx='1176.3' cy='564.9' r='5.2'/><circle cx='1193.0' cy='566.0' r='5.2'/><circle cx='1184.3' cy='570.3' r='5.2'/><circle cx='1169.2' cy='574.6' r='5.2'/></g><path d='M1232.2,407.0V466.0M1223.9,407.0H1240.5M1223.9,466.0H1240.5' fill='none' stroke='#f7931e' stroke-width='1.5'/><g fill='none' stroke='#f7931e' stroke-width='1.4'><circle cx='1231.9' cy='228.5' r='5.2'/><circle cx='1231.9' cy='276.8' r='5.2'/><circle cx='1231.9' cy='360.1' r='5.2'/><circle cx='1231.9' cy='399.0' r='5.2'/><circle cx='1244.2' cy='458.9' r='5.2'/><circle cx='1220.0' cy='466.9' r='5.2'/><circle cx='1244.2' cy='479.0' r='5.2'/><circle cx='1220.0' cy='486.0' r='5.2'/><circle cx='1244.2' cy='496.3' r='5.2'/><circle cx='1220.0' cy='498.5' r='5.2'/><circle cx='1231.9' cy='534.6' r='5.2'/><circle cx='1231.9' cy='554.1' r='5.2'/></g><path d='M1283.3,491.4V509.3M1275.0,491.4H1291.6M1275.0,509.3H1291.6' fill='none' stroke='#4470c0' stroke-width='1.5'/><g fill='none' stroke='#4470c0' stroke-width='1.4'><circle cx='1283.4' cy='442.3' r='5.2'/><circle cx='1271.9' cy='471.9' r='5.2'/><circle cx='1283.4' cy='481.6' r='5.2'/><circle cx='1271.9' cy='485.5' r='5.2'/><circle cx='1295.7' cy='491.4' r='5.2'/><circle cx='1283.4' cy='493.5' r='5.2'/><circle cx='1283.4' cy='505.4' r='5.2'/><circle cx='1271.9' cy='513.0' r='5.2'/><circle cx='1295.7' cy='510.8' r='5.2'/><circle cx='1295.7' cy='521.6' r='5.2'/><circle cx='1283.4' cy='523.1' r='5.2'/><circle cx='1283.4' cy='559.5' r='5.2'/></g><polyline points='1128.8,445.0 1128.8,81.0 1231.9,81.0 1231.9,111.4' fill='none' stroke='#231f20' stroke-width='1.6'/><polyline points='1231.9,197.0 1231.9,167.0 1283.4,167.0 1283.4,412.0' fill='none' stroke='#231f20' stroke-width='1.6'/><text x='1140.0' y='66.0' font-size='22.7' textLength='81.0' lengthAdjust='spacingAndGlyphs'>0.0004</text><text x='1217.8' y='152.4' font-size='22.7' textLength='79.6' lengthAdjust='spacingAndGlyphs'>0.0430</text><text x='1356.0' y='33.2' font-size='40' font-weight='bold' stroke='#231f20' stroke-width='1.1'>c</text><line x1='1456.5' y1='136.6' x2='1456.5' y2='598.0' stroke='#231f20' stroke-width='1.5'/><line x1='1444.4' y1='136.6' x2='1456.5' y2='136.6' stroke='#231f20' stroke-width='1.5'/><text x='1431.0' y='144.6' font-size='22.7' text-anchor='end' textLength='30.8' lengthAdjust='spacingAndGlyphs'>2.5</text><line x1='1444.4' y1='228.8' x2='1456.5' y2='228.8' stroke='#231f20' stroke-width='1.5'/><text x='1431.0' y='236.8' font-size='22.7' text-anchor='end' textLength='32.6' lengthAdjust='spacingAndGlyphs'>2.0</text><line x1='1444.4' y1='321.0' x2='1456.5' y2='321.0' stroke='#231f20' stroke-width='1.5'/><text x='1431.0' y='329.0' font-size='22.7' text-anchor='end' textLength='30.8' lengthAdjust='spacingAndGlyphs'>1.5</text><line x1='1444.4' y1='413.4' x2='1456.5' y2='413.4' stroke='#231f20' stroke-width='1.5'/><text x='1431.0' y='421.4' font-size='22.7' text-anchor='end' textLength='32.2' lengthAdjust='spacingAndGlyphs'>1.0</text><line x1='1444.4' y1='505.6' x2='1456.5' y2='505.6' stroke='#231f20' stroke-width='1.5'/><text x='1431.0' y='513.6' font-size='22.7' text-anchor='end' textLength='32.6' lengthAdjust='spacingAndGlyphs'>0.5</text><line x1='1444.4' y1='598.0' x2='1456.5' y2='598.0' stroke='#231f20' stroke-width='1.5'/><text x='1431.0' y='606.0' font-size='22.7' text-anchor='end' textLength='12.8' lengthAdjust='spacingAndGlyphs'>0</text><line x1='1444.4' y1='598.0' x2='1653.3' y2='598.0' stroke='#231f20' stroke-width='1.5'/><text transform='translate(1381.0,458.9) rotate(-90)' font-size='27' textLength='194.3' lengthAdjust='spacingAndGlyphs'>Liver weight (g)</text><path d='M1465.4,598.0V357.6H1496.2V598.0' fill='none' stroke='#231f20' stroke-width='1.6'/><path d='M1514.4,598.0V354.7H1545.2V598.0' fill='none' stroke='#e8262b' stroke-width='1.6'/><path d='M1563.5,598.0V309.7H1594.3V598.0' fill='none' stroke='#f7931e' stroke-width='1.6'/><path d='M1612.7,598.0V367.5H1643.5V598.0' fill='none' stroke='#4470c0' stroke-width='1.6'/><path d='M1480.8,352.5V362.5M1472.8,352.5H1488.8M1472.8,362.5H1488.8' fill='none' stroke='#231f20' stroke-width='1.5'/><g fill='none' stroke='#231f20' stroke-width='1.25'><circle cx='1480.6' cy='280.7' r='4.4'/><circle cx='1483.0' cy='323.0' r='4.4'/><circle cx='1478.7' cy='328.2' r='4.4'/><circle cx='1487.3' cy='330.0' r='4.4'/><circle cx='1483.0' cy='330.5' r='4.4'/><circle cx='1474.4' cy='337.2' r='4.4'/><circle cx='1478.7' cy='337.6' r='4.4'/><circle cx='1483.0' cy='343.8' r='4.4'/><circle cx='1488.7' cy='349.0' r='4.4'/><circle cx='1476.3' cy='350.0' r='4.4'/><circle cx='1468.3' cy='355.2' r='4.4'/><circle cx='1472.6' cy='353.8' r='4.4'/><circle cx='1493.0' cy='356.6' r='4.4'/><circle cx='1478.7' cy='355.7' r='4.4'/><circle cx='1483.5' cy='356.6' r='4.4'/><circle cx='1476.3' cy='359.5' r='4.4'/><circle cx='1482.5' cy='359.0' r='4.4'/><circle cx='1474.9' cy='368.5' r='4.4'/><circle cx='1478.7' cy='368.5' r='4.4'/><circle cx='1486.3' cy='368.0' r='4.4'/><circle cx='1482.5' cy='369.0' r='4.4'/><circle cx='1482.5' cy='376.0' r='4.4'/><circle cx='1480.6' cy='385.6' r='4.4'/><circle cx='1478.7' cy='388.0' r='4.4'/><circle cx='1482.5' cy='385.6' r='4.4'/><circle cx='1483.0' cy='409.8' r='4.4'/><circle cx='1478.7' cy='412.1' r='4.4'/></g><path d='M1529.8,349.5V360.0M1521.8,349.5H1537.8M1521.8,360.0H1537.8' fill='none' stroke='#e8262b' stroke-width='1.5'/><g fill='none' stroke='#e8262b' stroke-width='1.25'><circle cx='1530.0' cy='293.0' r='4.4'/><circle cx='1530.0' cy='313.0' r='4.4'/><circle cx='1525.2' cy='323.0' r='4.4'/><circle cx='1530.0' cy='323.0' r='4.4'/><circle cx='1537.5' cy='327.7' r='4.4'/><circle cx='1525.2' cy='335.3' r='4.4'/><circle cx='1530.0' cy='332.0' r='4.4'/><circle cx='1537.5' cy='338.1' r='4.4'/><circle cx='1530.9' cy='341.4' r='4.4'/><circle cx='1534.7' cy='342.4' r='4.4'/><circle cx='1517.6' cy='350.0' r='4.4'/><circle cx='1521.4' cy='350.0' r='4.4'/><circle cx='1526.2' cy='350.0' r='4.4'/><circle cx='1536.6' cy='347.1' r='4.4'/><circle cx='1542.3' cy='351.4' r='4.4'/><circle cx='1521.4' cy='362.3' r='4.4'/><circle cx='1533.7' cy='361.4' r='4.4'/><circle cx='1525.2' cy='361.4' r='4.4'/><circle cx='1521.4' cy='371.8' r='4.4'/><circle cx='1529.0' cy='372.8' r='4.4'/><circle cx='1517.6' cy='376.1' r='4.4'/><circle cx='1533.7' cy='377.5' r='4.4'/><circle cx='1537.5' cy='378.4' r='4.4'/><circle cx='1541.8' cy='380.3' r='4.4'/><circle cx='1525.2' cy='382.2' r='4.4'/><circle cx='1527.6' cy='399.8' r='4.4'/><circle cx='1531.9' cy='398.4' r='4.4'/></g><path d='M1578.9,304.0V315.5M1570.9,304.0H1586.9M1570.9,315.5H1586.9' fill='none' stroke='#f7931e' stroke-width='1.5'/><g fill='none' stroke='#f7931e' stroke-width='1.25'><circle cx='1578.2' cy='231.4' r='4.4'/><circle cx='1581.1' cy='255.1' r='4.4'/><circle cx='1575.9' cy='261.7' r='4.4'/><circle cx='1581.1' cy='266.5' r='4.4'/><circle cx='1571.1' cy='280.2' r='4.4'/><circle cx='1575.9' cy='281.7' r='4.4'/><circle cx='1581.1' cy='278.8' r='4.4'/><circle cx='1585.8' cy='281.2' r='4.4'/><circle cx='1585.8' cy='295.0' r='4.4'/><circle cx='1581.1' cy='297.8' r='4.4'/><circle cx='1591.1' cy='302.1' r='4.4'/><circle cx='1566.9' cy='305.9' r='4.4'/><circle cx='1571.6' cy='312.5' r='4.4'/><circle cx='1576.3' cy='309.7' r='4.4'/><circle cx='1581.1' cy='310.1' r='4.4'/><circle cx='1585.8' cy='311.6' r='4.4'/><circle cx='1591.1' cy='312.5' r='4.4'/><circle cx='1581.1' cy='317.7' r='4.4'/><circle cx='1581.1' cy='326.7' r='4.4'/><circle cx='1571.6' cy='333.9' r='4.4'/><circle cx='1566.9' cy='338.1' r='4.4'/><circle cx='1590.6' cy='330.5' r='4.4'/><circle cx='1585.8' cy='332.4' r='4.4'/><circle cx='1581.1' cy='337.6' r='4.4'/><circle cx='1585.8' cy='342.4' r='4.4'/><circle cx='1590.6' cy='341.4' r='4.4'/><circle cx='1575.9' cy='345.7' r='4.4'/><circle cx='1581.1' cy='359.0' r='4.4'/><circle cx='1575.9' cy='363.7' r='4.4'/></g><path d='M1628.1,362.0V373.0M1620.1,362.0H1636.1M1620.1,373.0H1636.1' fill='none' stroke='#4470c0' stroke-width='1.5'/><g fill='none' stroke='#4470c0' stroke-width='1.25'><circle cx='1627.6' cy='293.1' r='4.4'/><circle cx='1625.2' cy='329.6' r='4.4'/><circle cx='1630.0' cy='330.5' r='4.4'/><circle cx='1620.5' cy='342.9' r='4.4'/><circle cx='1630.0' cy='341.4' r='4.4'/><circle cx='1634.7' cy='340.5' r='4.4'/><circle cx='1625.2' cy='347.6' r='4.4'/><circle cx='1615.7' cy='357.1' r='4.4'/><circle cx='1620.5' cy='355.7' r='4.4'/><circle cx='1630.0' cy='354.7' r='4.4'/><circle cx='1634.7' cy='355.2' r='4.4'/><circle cx='1639.4' cy='361.4' r='4.4'/><circle cx='1620.5' cy='365.2' r='4.4'/><circle cx='1625.2' cy='366.1' r='4.4'/><circle cx='1630.0' cy='368.0' r='4.4'/><circle cx='1634.7' cy='365.2' r='4.4'/><circle cx='1634.7' cy='374.7' r='4.4'/><circle cx='1620.5' cy='378.4' r='4.4'/><circle cx='1625.2' cy='384.1' r='4.4'/><circle cx='1630.0' cy='386.0' r='4.4'/><circle cx='1634.7' cy='383.2' r='4.4'/><circle cx='1615.7' cy='395.0' r='4.4'/><circle cx='1620.5' cy='392.2' r='4.4'/><circle cx='1639.4' cy='392.7' r='4.4'/><circle cx='1630.0' cy='398.4' r='4.4'/><circle cx='1634.7' cy='398.4' r='4.4'/><circle cx='1620.5' cy='404.5' r='4.4'/></g><polyline points='1480.5,253.8 1480.5,100.5 1579.1,100.5 1579.1,127.9' fill='none' stroke='#231f20' stroke-width='1.6'/><polyline points='1579.1,204.6 1579.1,177.2 1627.9,177.2 1627.9,265.9' fill='none' stroke='#231f20' stroke-width='1.6'/><text x='1487.4' y='86.9' font-size='22.7' textLength='86.8' lengthAdjust='spacingAndGlyphs'>&lt;0.0001</text><text x='1560.6' y='164.0' font-size='22.7' textLength='85.9' lengthAdjust='spacingAndGlyphs'>&lt;0.0001</text><circle cx='1460' cy='650.6' r='4.9' fill='none' stroke='#231f20' stroke-width='2.3'/><text x='1486.4' y='660.6' font-size='27' textLength='171.0' lengthAdjust='spacingAndGlyphs'>Chow vehicle</text><circle cx='1460' cy='692.2' r='4.9' fill='none' stroke='#e8262b' stroke-width='2.3'/><text x='1486.4' y='702.2' font-size='27' textLength='125.0' lengthAdjust='spacingAndGlyphs'>Chow IMT</text><circle cx='1460' cy='733.2' r='4.9' fill='none' stroke='#f7931e' stroke-width='2.3'/><text x='1486.4' y='743.2' font-size='27' textLength='150.3' lengthAdjust='spacingAndGlyphs'>HFD vehicle</text><circle cx='1460' cy='774.8' r='4.9' fill='none' stroke='#4470c0' stroke-width='2.3'/><text x='1486.4' y='784.8' font-size='27' textLength='105.4' lengthAdjust='spacingAndGlyphs'>HFD IMT</text><text x='0.0' y='724.3' font-size='40' font-weight='bold' stroke='#231f20' stroke-width='1.1'>d</text><text x='242.0' y='720.0' font-size='26' textLength='59.0' lengthAdjust='spacingAndGlyphs'>Liver</text><text x='25.5' y='787.5' font-size='27' textLength='155.7' lengthAdjust='spacingAndGlyphs'>Diglycerides</text><text x='18.0' y='1027.4' font-size='27' textLength='163.0' lengthAdjust='spacingAndGlyphs'>Triglycerides</text><rect x='194.6' y='738.40' width='36.7' height='3.89' fill='#f6f8fa'/><rect x='231.0' y='738.40' width='36.4' height='3.89' fill='#c8deee'/><rect x='267.1' y='738.40' width='36.7' height='3.89' fill='#eb6267'/><rect x='303.5' y='738.40' width='36.8' height='3.89' fill='#9ac4e3'/><rect x='194.6' y='741.99' width='36.7' height='3.89' fill='#f6f8fa'/><rect x='231.0' y='741.99' width='36.4' height='3.89' fill='#c0daed'/><rect x='267.1' y='741.99' width='36.7' height='3.89' fill='#eb6066'/><rect x='303.5' y='741.99' width='36.8' height='3.89' fill='#9ac4e3'/><rect x='194.6' y='745.57' width='36.7' height='3.89' fill='#f6f8fa'/><rect x='231.0' y='745.57' width='36.4' height='3.89' fill='#c6ddee'/><rect x='267.1' y='745.57' width='36.7' height='3.89' fill='#eb6166'/><rect x='303.5' y='745.57' width='36.8' height='3.89' fill='#9ac4e3'/><rect x='194.6' y='749.16' width='36.7' height='3.89' fill='#c4dcee'/><rect x='231.0' y='749.16' width='36.4' height='3.89' fill='#accee7'/><rect x='267.1' y='749.16' width='36.7' height='3.89' fill='#eb6368'/><rect x='303.5' y='749.16' width='36.8' height='3.89' fill='#eaf2f7'/><rect x='194.6' y='752.75' width='36.7' height='3.89' fill='#c5ddee'/><rect x='231.0' y='752.75' width='36.4' height='3.89' fill='#bed9ec'/><rect x='267.1' y='752.75' width='36.7' height='3.89' fill='#eb6065'/><rect x='303.5' y='752.75' width='36.8' height='3.89' fill='#eaf2f7'/><rect x='194.6' y='756.33' width='36.7' height='3.89' fill='#aed0e8'/><rect x='231.0' y='756.33' width='36.4' height='3.89' fill='#b8d6eb'/><rect x='267.1' y='756.33' width='36.7' height='3.89' fill='#eb6469'/><rect x='303.5' y='756.33' width='36.8' height='3.89' fill='#eaf2f7'/><rect x='194.6' y='759.92' width='36.7' height='3.89' fill='#bad6eb'/><rect x='231.0' y='759.92' width='36.4' height='3.89' fill='#bcd7eb'/><rect x='267.1' y='759.92' width='36.7' height='3.89' fill='#eb666b'/><rect x='303.5' y='759.92' width='36.8' height='3.89' fill='#bbd7eb'/><rect x='194.6' y='763.50' width='36.7' height='3.89' fill='#b3d2e9'/><rect x='231.0' y='763.50' width='36.4' height='3.89' fill='#c5ddee'/><rect x='267.1' y='763.50' width='36.7' height='3.89' fill='#eb6166'/><rect x='303.5' y='763.50' width='36.8' height='3.89' fill='#bad7eb'/><rect x='194.6' y='767.09' width='36.7' height='3.89' fill='#c1daed'/><rect x='231.0' y='767.09' width='36.4' height='3.89' fill='#afd0e8'/><rect x='267.1' y='767.09' width='36.7' height='3.89' fill='#eb6267'/><rect x='303.5' y='767.09' width='36.8' height='3.89' fill='#b9d6eb'/><rect x='194.6' y='770.68' width='36.7' height='3.89' fill='#abcee7'/><rect x='231.0' y='770.68' width='36.4' height='3.89' fill='#c4dcee'/><rect x='267.1' y='770.68' width='36.7' height='3.89' fill='#eb646a'/><rect x='303.5' y='770.68' width='36.8' height='3.89' fill='#bbd7eb'/><rect x='194.6' y='774.26' width='36.7' height='3.89' fill='#c6ddee'/><rect x='231.0' y='774.26' width='36.4' height='3.89' fill='#c4dcee'/><rect x='267.1' y='774.26' width='36.7' height='3.89' fill='#eb6469'/><rect x='303.5' y='774.26' width='36.8' height='3.89' fill='#cde1f0'/><rect x='194.6' y='777.85' width='36.7' height='3.89' fill='#bad6eb'/><rect x='231.0' y='777.85' width='36.4' height='3.89' fill='#bed9ec'/><rect x='267.1' y='777.85' width='36.7' height='3.89' fill='#eb646a'/><rect x='303.5' y='777.85' width='36.8' height='3.89' fill='#cce1f0'/><rect x='194.6' y='781.44' width='36.7' height='3.89' fill='#bed9ec'/><rect x='231.0' y='781.44' width='36.4' height='3.89' fill='#c7deee'/><rect x='267.1' y='781.44' width='36.7' height='3.89' fill='#eb6065'/><rect x='303.5' y='781.44' width='36.8' height='3.89' fill='#bdd8ec'/><rect x='194.6' y='785.02' width='36.7' height='3.89' fill='#b5d4ea'/><rect x='231.0' y='785.02' width='36.4' height='3.89' fill='#b0d1e8'/><rect x='267.1' y='785.02' width='36.7' height='3.89' fill='#eb656a'/><rect x='303.5' y='785.02' width='36.8' height='3.89' fill='#b8d5ea'/><rect x='194.6' y='788.61' width='36.7' height='3.89' fill='#b3d3e9'/><rect x='231.0' y='788.61' width='36.4' height='3.89' fill='#bcd8ec'/><rect x='267.1' y='788.61' width='36.7' height='3.89' fill='#eb666b'/><rect x='303.5' y='788.61' width='36.8' height='3.89' fill='#c6ddee'/><rect x='194.6' y='792.20' width='36.7' height='3.89' fill='#b4d3ea'/><rect x='231.0' y='792.20' width='36.4' height='3.89' fill='#b4d3e9'/><rect x='267.1' y='792.20' width='36.7' height='3.89' fill='#eb6066'/><rect x='303.5' y='792.20' width='36.8' height='3.89' fill='#c2dbed'/><rect x='194.6' y='795.78' width='36.7' height='3.89' fill='#b4d3e9'/><rect x='231.0' y='795.78' width='36.4' height='3.89' fill='#9ac4e3'/><rect x='267.1' y='795.78' width='36.7' height='3.89' fill='#eb6268'/><rect x='303.5' y='795.78' width='36.8' height='3.89' fill='#c7deee'/><rect x='194.6' y='799.37' width='36.7' height='3.89' fill='#adcfe8'/><rect x='231.0' y='799.37' width='36.4' height='3.89' fill='#9ac4e3'/><rect x='267.1' y='799.37' width='36.7' height='3.89' fill='#eb5f65'/><rect x='303.5' y='799.37' width='36.8' height='3.89' fill='#b7d5ea'/><rect x='194.6' y='802.95' width='36.7' height='3.89' fill='#c0daec'/><rect x='231.0' y='802.95' width='36.4' height='3.89' fill='#c3dced'/><rect x='267.1' y='802.95' width='36.7' height='3.89' fill='#eb666b'/><rect x='303.5' y='802.95' width='36.8' height='3.89' fill='#c9dfef'/><rect x='194.6' y='806.54' width='36.7' height='3.89' fill='#dae8f3'/><rect x='231.0' y='806.54' width='36.4' height='3.89' fill='#bcd7eb'/><rect x='267.1' y='806.54' width='36.7' height='3.89' fill='#eb666b'/><rect x='303.5' y='806.54' width='36.8' height='3.89' fill='#b8d5ea'/><rect x='194.6' y='810.13' width='36.7' height='3.89' fill='#d8e7f2'/><rect x='231.0' y='810.13' width='36.4' height='3.89' fill='#c6deee'/><rect x='267.1' y='810.13' width='36.7' height='3.89' fill='#eb646a'/><rect x='303.5' y='810.13' width='36.8' height='3.89' fill='#c8deee'/><rect x='194.6' y='813.71' width='36.7' height='3.89' fill='#e0ecf5'/><rect x='231.0' y='813.71' width='36.4' height='3.89' fill='#c6ddee'/><rect x='267.1' y='813.71' width='36.7' height='3.89' fill='#eb6369'/><rect x='303.5' y='813.71' width='36.8' height='3.89' fill='#bfd9ec'/><rect x='194.6' y='835.30' width='36.7' height='4.28' fill='#f1989b'/><rect x='231.0' y='835.30' width='36.4' height='4.28' fill='#f6f8fa'/><rect x='267.1' y='835.30' width='36.7' height='4.28' fill='#ee8186'/><rect x='303.5' y='835.30' width='36.8' height='4.28' fill='#89bbdf'/><rect x='194.6' y='839.28' width='36.7' height='4.28' fill='#f1989b'/><rect x='231.0' y='839.28' width='36.4' height='4.28' fill='#f6f8fa'/><rect x='267.1' y='839.28' width='36.7' height='4.28' fill='#ee7c80'/><rect x='303.5' y='839.28' width='36.8' height='4.28' fill='#8cbcdf'/><rect x='194.6' y='843.26' width='36.7' height='4.28' fill='#f8dadb'/><rect x='231.0' y='843.26' width='36.4' height='4.28' fill='#d3e5f1'/><rect x='267.1' y='843.26' width='36.7' height='4.28' fill='#ed767b'/><rect x='303.5' y='843.26' width='36.8' height='4.28' fill='#84b8dd'/><rect x='194.6' y='847.24' width='36.7' height='4.28' fill='#f8dadb'/><rect x='231.0' y='847.24' width='36.4' height='4.28' fill='#d3e5f1'/><rect x='267.1' y='847.24' width='36.7' height='4.28' fill='#ed7176'/><rect x='303.5' y='847.24' width='36.8' height='4.28' fill='#8bbcdf'/><rect x='194.6' y='851.23' width='36.7' height='4.28' fill='#fbf9f9'/><rect x='231.0' y='851.23' width='36.4' height='4.28' fill='#d3e5f1'/><rect x='267.1' y='851.23' width='36.7' height='4.28' fill='#ec6b70'/><rect x='303.5' y='851.23' width='36.8' height='4.28' fill='#8cbcdf'/><rect x='194.6' y='855.21' width='36.7' height='4.28' fill='#fbf9f9'/><rect x='231.0' y='855.21' width='36.4' height='4.28' fill='#d3e5f1'/><rect x='267.1' y='855.21' width='36.7' height='4.28' fill='#eb6066'/><rect x='303.5' y='855.21' width='36.8' height='4.28' fill='#83b7dd'/><rect x='194.6' y='859.19' width='36.7' height='4.28' fill='#fbf9f9'/><rect x='231.0' y='859.19' width='36.4' height='4.28' fill='#83b7dd'/><rect x='267.1' y='859.19' width='36.7' height='4.28' fill='#eb5f65'/><rect x='303.5' y='859.19' width='36.8' height='4.28' fill='#fcfcfc'/><rect x='194.6' y='863.17' width='36.7' height='4.28' fill='#b0d1e8'/><rect x='231.0' y='863.17' width='36.4' height='4.28' fill='#adcfe8'/><rect x='267.1' y='863.17' width='36.7' height='4.28' fill='#eb6267'/><rect x='303.5' y='863.17' width='36.8' height='4.28' fill='#c6ddee'/><rect x='194.6' y='867.15' width='36.7' height='4.28' fill='#b6d4ea'/><rect x='231.0' y='867.15' width='36.4' height='4.28' fill='#bbd7eb'/><rect x='267.1' y='867.15' width='36.7' height='4.28' fill='#eb6268'/><rect x='303.5' y='867.15' width='36.8' height='4.28' fill='#b6d4ea'/><rect x='194.6' y='871.13' width='36.7' height='4.28' fill='#b5d4ea'/><rect x='231.0' y='871.13' width='36.4' height='4.28' fill='#a9cde7'/><rect x='267.1' y='871.13' width='36.7' height='4.28' fill='#eb656b'/><rect x='303.5' y='871.13' width='36.8' height='4.28' fill='#b2d2e9'/><rect x='194.6' y='875.12' width='36.7' height='4.28' fill='#bfd9ec'/><rect x='231.0' y='875.12' width='36.4' height='4.28' fill='#bcd8ec'/><rect x='267.1' y='875.12' width='36.7' height='4.28' fill='#eb656a'/><rect x='303.5' y='875.12' width='36.8' height='4.28' fill='#b0d1e8'/><rect x='194.6' y='879.10' width='36.7' height='4.28' fill='#c6ddee'/><rect x='231.0' y='879.10' width='36.4' height='4.28' fill='#b2d2e9'/><rect x='267.1' y='879.10' width='36.7' height='4.28' fill='#eb6368'/><rect x='303.5' y='879.10' width='36.8' height='4.28' fill='#b4d3ea'/><rect x='194.6' y='883.08' width='36.7' height='4.28' fill='#bcd8ec'/><rect x='231.0' y='883.08' width='36.4' height='4.28' fill='#b8d5eb'/><rect x='267.1' y='883.08' width='36.7' height='4.28' fill='#eb6368'/><rect x='303.5' y='883.08' width='36.8' height='4.28' fill='#b9d6eb'/><rect x='194.6' y='887.06' width='36.7' height='4.28' fill='#afd0e8'/><rect x='231.0' y='887.06' width='36.4' height='4.28' fill='#bad7eb'/><rect x='267.1' y='887.06' width='36.7' height='4.28' fill='#eb656b'/><rect x='303.5' y='887.06' width='36.8' height='4.28' fill='#bbd7eb'/><rect x='194.6' y='891.04' width='36.7' height='4.28' fill='#c3dbed'/><rect x='231.0' y='891.04' width='36.4' height='4.28' fill='#a8cce7'/><rect x='267.1' y='891.04' width='36.7' height='4.28' fill='#eb6166'/><rect x='303.5' y='891.04' width='36.8' height='4.28' fill='#c6deee'/><rect x='194.6' y='895.02' width='36.7' height='4.28' fill='#bdd8ec'/><rect x='231.0' y='895.02' width='36.4' height='4.28' fill='#b7d5ea'/><rect x='267.1' y='895.02' width='36.7' height='4.28' fill='#eb656a'/><rect x='303.5' y='895.02' width='36.8' height='4.28' fill='#b9d6eb'/><rect x='194.6' y='899.00' width='36.7' height='4.28' fill='#b1d1e9'/><rect x='231.0' y='899.00' width='36.4' height='4.28' fill='#b9d6eb'/><rect x='267.1' y='899.00' width='36.7' height='4.28' fill='#eb6469'/><rect x='303.5' y='899.00' width='36.8' height='4.28' fill='#bad6eb'/><rect x='194.6' y='902.99' width='36.7' height='4.28' fill='#c7deee'/><rect x='231.0' y='902.99' width='36.4' height='4.28' fill='#b9d6eb'/><rect x='267.1' y='902.99' width='36.7' height='4.28' fill='#eb5f65'/><rect x='303.5' y='902.99' width='36.8' height='4.28' fill='#bad6eb'/><rect x='194.6' y='906.97' width='36.7' height='4.28' fill='#bad6eb'/><rect x='231.0' y='906.97' width='36.4' height='4.28' fill='#b6d4ea'/><rect x='267.1' y='906.97' width='36.7' height='4.28' fill='#eb6268'/><rect x='303.5' y='906.97' width='36.8' height='4.28' fill='#b6d4ea'/><rect x='194.6' y='910.95' width='36.7' height='4.28' fill='#b8d5ea'/><rect x='231.0' y='910.95' width='36.4' height='4.28' fill='#a9cde7'/><rect x='267.1' y='910.95' width='36.7' height='4.28' fill='#eb6369'/><rect x='303.5' y='910.95' width='36.8' height='4.28' fill='#c7deee'/><rect x='194.6' y='914.93' width='36.7' height='4.28' fill='#c6ddee'/><rect x='231.0' y='914.93' width='36.4' height='4.28' fill='#b4d3e9'/><rect x='267.1' y='914.93' width='36.7' height='4.28' fill='#eb6268'/><rect x='303.5' y='914.93' width='36.8' height='4.28' fill='#b7d5ea'/><rect x='194.6' y='918.91' width='36.7' height='4.28' fill='#b0d1e8'/><rect x='231.0' y='918.91' width='36.4' height='4.28' fill='#accee7'/><rect x='267.1' y='918.91' width='36.7' height='4.28' fill='#eb6066'/><rect x='303.5' y='918.91' width='36.8' height='4.28' fill='#c4dcee'/><rect x='194.6' y='922.89' width='36.7' height='4.28' fill='#b6d4ea'/><rect x='231.0' y='922.89' width='36.4' height='4.28' fill='#b7d5ea'/><rect x='267.1' y='922.89' width='36.7' height='4.28' fill='#eb6066'/><rect x='303.5' y='922.89' width='36.8' height='4.28' fill='#c0daed'/><rect x='194.6' y='926.88' width='36.7' height='4.28' fill='#bed9ec'/><rect x='231.0' y='926.88' width='36.4' height='4.28' fill='#b7d5ea'/><rect x='267.1' y='926.88' width='36.7' height='4.28' fill='#eb6369'/><rect x='303.5' y='926.88' width='36.8' height='4.28' fill='#c0daed'/><rect x='194.6' y='930.86' width='36.7' height='4.28' fill='#b4d3ea'/><rect x='231.0' y='930.86' width='36.4' height='4.28' fill='#b0d1e9'/><rect x='267.1' y='930.86' width='36.7' height='4.28' fill='#eb6166'/><rect x='303.5' y='930.86' width='36.8' height='4.28' fill='#c0daec'/><rect x='194.6' y='934.84' width='36.7' height='4.28' fill='#b5d4ea'/><rect x='231.0' y='934.84' width='36.4' height='4.28' fill='#bbd7eb'/><rect x='267.1' y='934.84' width='36.7' height='4.28' fill='#eb6167'/><rect x='303.5' y='934.84' width='36.8' height='4.28' fill='#bdd8ec'/><rect x='194.6' y='938.82' width='36.7' height='4.28' fill='#aecfe8'/><rect x='231.0' y='938.82' width='36.4' height='4.28' fill='#b2d2e9'/><rect x='267.1' y='938.82' width='36.7' height='4.28' fill='#eb6469'/><rect x='303.5' y='938.82' width='36.8' height='4.28' fill='#bfdaec'/><rect x='194.6' y='942.80' width='36.7' height='4.28' fill='#b9d6eb'/><rect x='231.0' y='942.80' width='36.4' height='4.28' fill='#b8d5ea'/><rect x='267.1' y='942.80' width='36.7' height='4.28' fill='#eb6167'/><rect x='303.5' y='942.80' width='36.8' height='4.28' fill='#c3dbed'/><rect x='194.6' y='946.78' width='36.7' height='4.28' fill='#b6d4ea'/><rect x='231.0' y='946.78' width='36.4' height='4.28' fill='#b4d3e9'/><rect x='267.1' y='946.78' width='36.7' height='4.28' fill='#eb6166'/><rect x='303.5' y='946.78' width='36.8' height='4.28' fill='#c3dced'/><rect x='194.6' y='950.76' width='36.7' height='4.28' fill='#b6d4ea'/><rect x='231.0' y='950.76' width='36.4' height='4.28' fill='#b9d6eb'/><rect x='267.1' y='950.76' width='36.7' height='4.28' fill='#eb6065'/><rect x='303.5' y='950.76' width='36.8' height='4.28' fill='#c0daec'/><rect x='194.6' y='954.75' width='36.7' height='4.28' fill='#c6ddee'/><rect x='231.0' y='954.75' width='36.4' height='4.28' fill='#bbd7eb'/><rect x='267.1' y='954.75' width='36.7' height='4.28' fill='#eb6268'/><rect x='303.5' y='954.75' width='36.8' height='4.28' fill='#bcd8eb'/><rect x='194.6' y='958.73' width='36.7' height='4.28' fill='#b2d2e9'/><rect x='231.0' y='958.73' width='36.4' height='4.28' fill='#b8d6eb'/><rect x='267.1' y='958.73' width='36.7' height='4.28' fill='#eb5f65'/><rect x='303.5' y='958.73' width='36.8' height='4.28' fill='#bbd7eb'/><rect x='194.6' y='962.71' width='36.7' height='4.28' fill='#bfd9ec'/><rect x='231.0' y='962.71' width='36.4' height='4.28' fill='#b6d4ea'/><rect x='267.1' y='962.71' width='36.7' height='4.28' fill='#eb6166'/><rect x='303.5' y='962.71' width='36.8' height='4.28' fill='#b3d2e9'/><rect x='194.6' y='966.69' width='36.7' height='4.28' fill='#c1daed'/><rect x='231.0' y='966.69' width='36.4' height='4.28' fill='#b3d2e9'/><rect x='267.1' y='966.69' width='36.7' height='4.28' fill='#eb6167'/><rect x='303.5' y='966.69' width='36.8' height='4.28' fill='#b9d6eb'/><rect x='194.6' y='970.67' width='36.7' height='4.28' fill='#bdd8ec'/><rect x='231.0' y='970.67' width='36.4' height='4.28' fill='#b7d5ea'/><rect x='267.1' y='970.67' width='36.7' height='4.28' fill='#eb6167'/><rect x='303.5' y='970.67' width='36.8' height='4.28' fill='#c1daed'/><rect x='194.6' y='974.65' width='36.7' height='4.28' fill='#aed0e8'/><rect x='231.0' y='974.65' width='36.4' height='4.28' fill='#a9cde7'/><rect x='267.1' y='974.65' width='36.7' height='4.28' fill='#eb6368'/><rect x='303.5' y='974.65' width='36.8' height='4.28' fill='#bfd9ec'/><rect x='194.6' y='978.63' width='36.7' height='4.28' fill='#b3d2e9'/><rect x='231.0' y='978.63' width='36.4' height='4.28' fill='#9cc5e3'/><rect x='267.1' y='978.63' width='36.7' height='4.28' fill='#eb6167'/><rect x='303.5' y='978.63' width='36.8' height='4.28' fill='#cee2f0'/><rect x='194.6' y='982.62' width='36.7' height='4.28' fill='#b9d6eb'/><rect x='231.0' y='982.62' width='36.4' height='4.28' fill='#97c2e2'/><rect x='267.1' y='982.62' width='36.7' height='4.28' fill='#eb656b'/><rect x='303.5' y='982.62' width='36.8' height='4.28' fill='#d1e3f1'/><rect x='194.6' y='986.60' width='36.7' height='4.28' fill='#b5d4ea'/><rect x='231.0' y='986.60' width='36.4' height='4.28' fill='#96c2e2'/><rect x='267.1' y='986.60' width='36.7' height='4.28' fill='#eb646a'/><rect x='303.5' y='986.60' width='36.8' height='4.28' fill='#cee2f0'/><rect x='194.6' y='990.58' width='36.7' height='4.28' fill='#b9d6eb'/><rect x='231.0' y='990.58' width='36.4' height='4.28' fill='#98c3e3'/><rect x='267.1' y='990.58' width='36.7' height='4.28' fill='#eb6267'/><rect x='303.5' y='990.58' width='36.8' height='4.28' fill='#dbe9f3'/><rect x='194.6' y='994.56' width='36.7' height='4.28' fill='#b3d3e9'/><rect x='231.0' y='994.56' width='36.4' height='4.28' fill='#9ec7e4'/><rect x='267.1' y='994.56' width='36.7' height='4.28' fill='#eb666b'/><rect x='303.5' y='994.56' width='36.8' height='4.28' fill='#d7e7f2'/><rect x='194.6' y='998.54' width='36.7' height='4.28' fill='#d9e8f3'/><rect x='231.0' y='998.54' width='36.4' height='4.28' fill='#97c3e2'/><rect x='267.1' y='998.54' width='36.7' height='4.28' fill='#eb6368'/><rect x='303.5' y='998.54' width='36.8' height='4.28' fill='#9ac4e3'/><rect x='194.6' y='1002.52' width='36.7' height='4.28' fill='#d9e8f3'/><rect x='231.0' y='1002.52' width='36.4' height='4.28' fill='#95c2e2'/><rect x='267.1' y='1002.52' width='36.7' height='4.28' fill='#eb6066'/><rect x='303.5' y='1002.52' width='36.8' height='4.28' fill='#9ac4e3'/><rect x='194.6' y='1006.51' width='36.7' height='4.28' fill='#fbf6f6'/><rect x='231.0' y='1006.51' width='36.4' height='4.28' fill='#98c3e2'/><rect x='267.1' y='1006.51' width='36.7' height='4.28' fill='#eb656b'/><rect x='303.5' y='1006.51' width='36.8' height='4.28' fill='#9ac4e3'/><rect x='194.6' y='1010.49' width='36.7' height='4.28' fill='#fbf6f6'/><rect x='231.0' y='1010.49' width='36.4' height='4.28' fill='#b3d3e9'/><rect x='267.1' y='1010.49' width='36.7' height='4.28' fill='#eb656a'/><rect x='303.5' y='1010.49' width='36.8' height='4.28' fill='#9ac4e3'/><rect x='194.6' y='1014.47' width='36.7' height='4.28' fill='#d9e8f3'/><rect x='231.0' y='1014.47' width='36.4' height='4.28' fill='#b2d2e9'/><rect x='267.1' y='1014.47' width='36.7' height='4.28' fill='#eb6369'/><rect x='303.5' y='1014.47' width='36.8' height='4.28' fill='#bdd8ec'/><rect x='194.6' y='1018.45' width='36.7' height='4.28' fill='#d9e8f3'/><rect x='231.0' y='1018.45' width='36.4' height='4.28' fill='#bbd7eb'/><rect x='267.1' y='1018.45' width='36.7' height='4.28' fill='#eb6066'/><rect x='303.5' y='1018.45' width='36.8' height='4.28' fill='#b9d6eb'/><rect x='194.6' y='1022.43' width='36.7' height='4.28' fill='#d9e8f3'/><rect x='231.0' y='1022.43' width='36.4' height='4.28' fill='#b8d5ea'/><rect x='267.1' y='1022.43' width='36.7' height='4.28' fill='#eb6167'/><rect x='303.5' y='1022.43' width='36.8' height='4.28' fill='#b8d5ea'/><rect x='194.6' y='1026.41' width='36.7' height='4.28' fill='#b1d1e9'/><rect x='231.0' y='1026.41' width='36.4' height='4.28' fill='#b3d2e9'/><rect x='267.1' y='1026.41' width='36.7' height='4.28' fill='#eb6267'/><rect x='303.5' y='1026.41' width='36.8' height='4.28' fill='#c7deee'/><rect x='194.6' y='1030.39' width='36.7' height='4.28' fill='#c6ddee'/><rect x='231.0' y='1030.39' width='36.4' height='4.28' fill='#b3d3e9'/><rect x='267.1' y='1030.39' width='36.7' height='4.28' fill='#eb6369'/><rect x='303.5' y='1030.39' width='36.8' height='4.28' fill='#c5ddee'/><rect x='194.6' y='1034.38' width='36.7' height='4.28' fill='#adcfe8'/><rect x='231.0' y='1034.38' width='36.4' height='4.28' fill='#a8cce6'/><rect x='267.1' y='1034.38' width='36.7' height='4.28' fill='#eb6267'/><rect x='303.5' y='1034.38' width='36.8' height='4.28' fill='#bed9ec'/><rect x='194.6' y='1038.36' width='36.7' height='4.28' fill='#b1d1e9'/><rect x='231.0' y='1038.36' width='36.4' height='4.28' fill='#b4d3e9'/><rect x='267.1' y='1038.36' width='36.7' height='4.28' fill='#eb6065'/><rect x='303.5' y='1038.36' width='36.8' height='4.28' fill='#b8d5ea'/><rect x='194.6' y='1042.34' width='36.7' height='4.28' fill='#b8d5eb'/><rect x='231.0' y='1042.34' width='36.4' height='4.28' fill='#aacee7'/><rect x='267.1' y='1042.34' width='36.7' height='4.28' fill='#eb6469'/><rect x='303.5' y='1042.34' width='36.8' height='4.28' fill='#c7deee'/><rect x='194.6' y='1046.32' width='36.7' height='4.28' fill='#b7d5ea'/><rect x='231.0' y='1046.32' width='36.4' height='4.28' fill='#bbd7eb'/><rect x='267.1' y='1046.32' width='36.7' height='4.28' fill='#eb6065'/><rect x='303.5' y='1046.32' width='36.8' height='4.28' fill='#bed8ec'/><rect x='194.6' y='1050.30' width='36.7' height='4.28' fill='#b4d3e9'/><rect x='231.0' y='1050.30' width='36.4' height='4.28' fill='#bcd8eb'/><rect x='267.1' y='1050.30' width='36.7' height='4.28' fill='#eb6268'/><rect x='303.5' y='1050.30' width='36.8' height='4.28' fill='#b9d6eb'/><rect x='194.6' y='1054.28' width='36.7' height='4.28' fill='#b5d4ea'/><rect x='231.0' y='1054.28' width='36.4' height='4.28' fill='#bcd8eb'/><rect x='267.1' y='1054.28' width='36.7' height='4.28' fill='#eb6268'/><rect x='303.5' y='1054.28' width='36.8' height='4.28' fill='#b6d4ea'/><rect x='194.6' y='1058.27' width='36.7' height='4.28' fill='#b9d6eb'/><rect x='231.0' y='1058.27' width='36.4' height='4.28' fill='#a8cce6'/><rect x='267.1' y='1058.27' width='36.7' height='4.28' fill='#eb6267'/><rect x='303.5' y='1058.27' width='36.8' height='4.28' fill='#bad6eb'/><rect x='194.6' y='1062.25' width='36.7' height='4.28' fill='#b5d3ea'/><rect x='231.0' y='1062.25' width='36.4' height='4.28' fill='#b7d5ea'/><rect x='267.1' y='1062.25' width='36.7' height='4.28' fill='#eb6066'/><rect x='303.5' y='1062.25' width='36.8' height='4.28' fill='#afd0e8'/><rect x='194.6' y='1066.23' width='36.7' height='4.28' fill='#bbd7eb'/><rect x='231.0' y='1066.23' width='36.4' height='4.28' fill='#accee7'/><rect x='267.1' y='1066.23' width='36.7' height='4.28' fill='#eb5f65'/><rect x='303.5' y='1066.23' width='36.8' height='4.28' fill='#c2dbed'/><rect x='194.6' y='1070.21' width='36.7' height='4.28' fill='#b4d3e9'/><rect x='231.0' y='1070.21' width='36.4' height='4.28' fill='#abcee7'/><rect x='267.1' y='1070.21' width='36.7' height='4.28' fill='#eb656a'/><rect x='303.5' y='1070.21' width='36.8' height='4.28' fill='#c7deee'/><rect x='194.6' y='1074.19' width='36.7' height='4.28' fill='#b5d3ea'/><rect x='231.0' y='1074.19' width='36.4' height='4.28' fill='#b3d3e9'/><rect x='267.1' y='1074.19' width='36.7' height='4.28' fill='#eb6268'/><rect x='303.5' y='1074.19' width='36.8' height='4.28' fill='#bfd9ec'/><rect x='194.6' y='1078.17' width='36.7' height='4.28' fill='#bdd8ec'/><rect x='231.0' y='1078.17' width='36.4' height='4.28' fill='#b6d4ea'/><rect x='267.1' y='1078.17' width='36.7' height='4.28' fill='#eb656a'/><rect x='303.5' y='1078.17' width='36.8' height='4.28' fill='#c2dbed'/><rect x='194.6' y='1082.15' width='36.7' height='4.28' fill='#b5d4ea'/><rect x='231.0' y='1082.15' width='36.4' height='4.28' fill='#b2d2e9'/><rect x='267.1' y='1082.15' width='36.7' height='4.28' fill='#eb6369'/><rect x='303.5' y='1082.15' width='36.8' height='4.28' fill='#b6d4ea'/><rect x='194.6' y='1086.14' width='36.7' height='4.28' fill='#bbd7eb'/><rect x='231.0' y='1086.14' width='36.4' height='4.28' fill='#b0d1e8'/><rect x='267.1' y='1086.14' width='36.7' height='4.28' fill='#eb6369'/><rect x='303.5' y='1086.14' width='36.8' height='4.28' fill='#c1dbed'/><rect x='194.6' y='1090.12' width='36.7' height='4.28' fill='#bcd8ec'/><rect x='231.0' y='1090.12' width='36.4' height='4.28' fill='#a6cbe6'/><rect x='267.1' y='1090.12' width='36.7' height='4.28' fill='#eb6469'/><rect x='303.5' y='1090.12' width='36.8' height='4.28' fill='#bad6eb'/><rect x='194.6' y='1094.10' width='36.7' height='4.28' fill='#c4dcee'/><rect x='231.0' y='1094.10' width='36.4' height='4.28' fill='#bad6eb'/><rect x='267.1' y='1094.10' width='36.7' height='4.28' fill='#eb6268'/><rect x='303.5' y='1094.10' width='36.8' height='4.28' fill='#afd0e8'/><rect x='194.6' y='1098.08' width='36.7' height='4.28' fill='#c1daed'/><rect x='231.0' y='1098.08' width='36.4' height='4.28' fill='#afd0e8'/><rect x='267.1' y='1098.08' width='36.7' height='4.28' fill='#eb6267'/><rect x='303.5' y='1098.08' width='36.8' height='4.28' fill='#c0daed'/><rect x='194.6' y='1102.06' width='36.7' height='4.28' fill='#bdd8ec'/><rect x='231.0' y='1102.06' width='36.4' height='4.28' fill='#b0d1e9'/><rect x='267.1' y='1102.06' width='36.7' height='4.28' fill='#eb6065'/><rect x='303.5' y='1102.06' width='36.8' height='4.28' fill='#b8d5eb'/><rect x='194.6' y='1106.04' width='36.7' height='4.28' fill='#b7d5ea'/><rect x='231.0' y='1106.04' width='36.4' height='4.28' fill='#b9d6eb'/><rect x='267.1' y='1106.04' width='36.7' height='4.28' fill='#eb646a'/><rect x='303.5' y='1106.04' width='36.8' height='4.28' fill='#b6d4ea'/><rect x='194.6' y='1110.02' width='36.7' height='4.28' fill='#c2dbed'/><rect x='231.0' y='1110.02' width='36.4' height='4.28' fill='#a7cce6'/><rect x='267.1' y='1110.02' width='36.7' height='4.28' fill='#eb6066'/><rect x='303.5' y='1110.02' width='36.8' height='4.28' fill='#c0daed'/><rect x='194.6' y='1114.01' width='36.7' height='4.28' fill='#b8d5eb'/><rect x='231.0' y='1114.01' width='36.4' height='4.28' fill='#accee7'/><rect x='267.1' y='1114.01' width='36.7' height='4.28' fill='#eb6066'/><rect x='303.5' y='1114.01' width='36.8' height='4.28' fill='#c5ddee'/><rect x='194.6' y='1117.99' width='36.7' height='4.28' fill='#b1d1e9'/><rect x='231.0' y='1117.99' width='36.4' height='4.28' fill='#b0d1e9'/><rect x='267.1' y='1117.99' width='36.7' height='4.28' fill='#eb6268'/><rect x='303.5' y='1117.99' width='36.8' height='4.28' fill='#bbd7eb'/><rect x='194.6' y='1121.97' width='36.7' height='4.28' fill='#b6d4ea'/><rect x='231.0' y='1121.97' width='36.4' height='4.28' fill='#a9cde7'/><rect x='267.1' y='1121.97' width='36.7' height='4.28' fill='#eb6267'/><rect x='303.5' y='1121.97' width='36.8' height='4.28' fill='#c3dced'/><rect x='194.6' y='1125.95' width='36.7' height='4.28' fill='#afd0e8'/><rect x='231.0' y='1125.95' width='36.4' height='4.28' fill='#abcee7'/><rect x='267.1' y='1125.95' width='36.7' height='4.28' fill='#eb6066'/><rect x='303.5' y='1125.95' width='36.8' height='4.28' fill='#c2dbed'/><rect x='194.6' y='1129.93' width='36.7' height='4.28' fill='#bed9ec'/><rect x='231.0' y='1129.93' width='36.4' height='4.28' fill='#a6cbe6'/><rect x='267.1' y='1129.93' width='36.7' height='4.28' fill='#eb6166'/><rect x='303.5' y='1129.93' width='36.8' height='4.28' fill='#c7deee'/><rect x='194.6' y='1133.91' width='36.7' height='4.28' fill='#c7deee'/><rect x='231.0' y='1133.91' width='36.4' height='4.28' fill='#b5d4ea'/><rect x='267.1' y='1133.91' width='36.7' height='4.28' fill='#eb656b'/><rect x='303.5' y='1133.91' width='36.8' height='4.28' fill='#c4dced'/><rect x='194.6' y='1137.90' width='36.7' height='4.28' fill='#b3d2e9'/><rect x='231.0' y='1137.90' width='36.4' height='4.28' fill='#b4d3e9'/><rect x='267.1' y='1137.90' width='36.7' height='4.28' fill='#eb5f65'/><rect x='303.5' y='1137.90' width='36.8' height='4.28' fill='#c0daed'/><rect x='194.6' y='1141.88' width='36.7' height='4.28' fill='#b1d1e9'/><rect x='231.0' y='1141.88' width='36.4' height='4.28' fill='#accfe7'/><rect x='267.1' y='1141.88' width='36.7' height='4.28' fill='#eb6065'/><rect x='303.5' y='1141.88' width='36.8' height='4.28' fill='#b2d2e9'/><rect x='194.6' y='1145.86' width='36.7' height='4.28' fill='#bdd8ec'/><rect x='231.0' y='1145.86' width='36.4' height='4.28' fill='#afd0e8'/><rect x='267.1' y='1145.86' width='36.7' height='4.28' fill='#eb656a'/><rect x='303.5' y='1145.86' width='36.8' height='4.28' fill='#bed9ec'/><rect x='194.6' y='1149.84' width='36.7' height='4.28' fill='#aed0e8'/><rect x='231.0' y='1149.84' width='36.4' height='4.28' fill='#a8cce6'/><rect x='267.1' y='1149.84' width='36.7' height='4.28' fill='#eb6369'/><rect x='303.5' y='1149.84' width='36.8' height='4.28' fill='#b0d1e9'/><rect x='194.6' y='1153.82' width='36.7' height='4.28' fill='#afd0e8'/><rect x='231.0' y='1153.82' width='36.4' height='4.28' fill='#b2d2e9'/><rect x='267.1' y='1153.82' width='36.7' height='4.28' fill='#eb6166'/><rect x='303.5' y='1153.82' width='36.8' height='4.28' fill='#c5ddee'/><rect x='194.6' y='1157.80' width='36.7' height='4.28' fill='#b1d1e9'/><rect x='231.0' y='1157.80' width='36.4' height='4.28' fill='#afd0e8'/><rect x='267.1' y='1157.80' width='36.7' height='4.28' fill='#eb6469'/><rect x='303.5' y='1157.80' width='36.8' height='4.28' fill='#bed9ec'/><rect x='194.6' y='1161.78' width='36.7' height='4.28' fill='#bad6eb'/><rect x='231.0' y='1161.78' width='36.4' height='4.28' fill='#bbd7eb'/><rect x='267.1' y='1161.78' width='36.7' height='4.28' fill='#eb6369'/><rect x='303.5' y='1161.78' width='36.8' height='4.28' fill='#b0d1e8'/><rect x='194.6' y='1165.77' width='36.7' height='4.28' fill='#bfd9ec'/><rect x='231.0' y='1165.77' width='36.4' height='4.28' fill='#a9cde7'/><rect x='267.1' y='1165.77' width='36.7' height='4.28' fill='#eb6167'/><rect x='303.5' y='1165.77' width='36.8' height='4.28' fill='#bbd7eb'/><rect x='194.6' y='1169.75' width='36.7' height='4.28' fill='#c4dcee'/><rect x='231.0' y='1169.75' width='36.4' height='4.28' fill='#b2d2e9'/><rect x='267.1' y='1169.75' width='36.7' height='4.28' fill='#eb6267'/><rect x='303.5' y='1169.75' width='36.8' height='4.28' fill='#b5d4ea'/><rect x='194.6' y='1173.73' width='36.7' height='4.28' fill='#bbd7eb'/><rect x='231.0' y='1173.73' width='36.4' height='4.28' fill='#abcee7'/><rect x='267.1' y='1173.73' width='36.7' height='4.28' fill='#eb6166'/><rect x='303.5' y='1173.73' width='36.8' height='4.28' fill='#bcd7eb'/><rect x='194.6' y='1177.71' width='36.7' height='4.28' fill='#b1d1e9'/><rect x='231.0' y='1177.71' width='36.4' height='4.28' fill='#abcee7'/><rect x='267.1' y='1177.71' width='36.7' height='4.28' fill='#eb6369'/><rect x='303.5' y='1177.71' width='36.8' height='4.28' fill='#c1daed'/><rect x='194.6' y='1181.69' width='36.7' height='4.28' fill='#b2d2e9'/><rect x='231.0' y='1181.69' width='36.4' height='4.28' fill='#b6d4ea'/><rect x='267.1' y='1181.69' width='36.7' height='4.28' fill='#eb6167'/><rect x='303.5' y='1181.69' width='36.8' height='4.28' fill='#b1d1e9'/><rect x='194.6' y='1185.67' width='36.7' height='4.28' fill='#bed9ec'/><rect x='231.0' y='1185.67' width='36.4' height='4.28' fill='#a7cce6'/><rect x='267.1' y='1185.67' width='36.7' height='4.28' fill='#eb656a'/><rect x='303.5' y='1185.67' width='36.8' height='4.28' fill='#bdd8ec'/><rect x='194.6' y='1189.66' width='36.7' height='4.28' fill='#b3d3e9'/><rect x='231.0' y='1189.66' width='36.4' height='4.28' fill='#b9d6eb'/><rect x='267.1' y='1189.66' width='36.7' height='4.28' fill='#eb6268'/><rect x='303.5' y='1189.66' width='36.8' height='4.28' fill='#b7d5ea'/><rect x='194.6' y='1193.64' width='36.7' height='4.28' fill='#c1dbed'/><rect x='231.0' y='1193.64' width='36.4' height='4.28' fill='#a6cbe6'/><rect x='267.1' y='1193.64' width='36.7' height='4.28' fill='#eb6166'/><rect x='303.5' y='1193.64' width='36.8' height='4.28' fill='#b0d1e8'/><rect x='194.6' y='1197.62' width='36.7' height='4.28' fill='#b1d1e9'/><rect x='231.0' y='1197.62' width='36.4' height='4.28' fill='#bbd7eb'/><rect x='267.1' y='1197.62' width='36.7' height='4.28' fill='#eb6167'/><rect x='303.5' y='1197.62' width='36.8' height='4.28' fill='#b4d3e9'/><rect x='194.6' y='738.4' width='145.4' height='78.9' fill='none' stroke='#231f20' stroke-width='1.5'/><rect x='194.6' y='835.3' width='145.4' height='366.3' fill='none' stroke='#231f20' stroke-width='1.5'/><defs><linearGradient id='cb' x1='0' y1='0' x2='0' y2='1'><stop offset='0.00' stop-color='#e41e26'/><stop offset='0.05' stop-color='#e6343b'/><stop offset='0.10' stop-color='#e84a50'/><stop offset='0.15' stop-color='#eb6066'/><stop offset='0.20' stop-color='#ed767b'/><stop offset='0.25' stop-color='#f08d91'/><stop offset='0.30' stop-color='#f2a3a6'/><stop offset='0.35' stop-color='#f4b9bb'/><stop offset='0.40' stop-color='#f7cfd1'/><stop offset='0.45' stop-color='#f9e5e6'/><stop offset='0.50' stop-color='#fcfcfc'/><stop offset='0.55' stop-color='#e4eff6'/><stop offset='0.60' stop-color='#cee2f0'/><stop offset='0.65' stop-color='#b7d5ea'/><stop offset='0.70' stop-color='#a0c8e4'/><stop offset='0.75' stop-color='#89bbdf'/><stop offset='0.80' stop-color='#71aed9'/><stop offset='0.85' stop-color='#5ba1d3'/><stop offset='0.90' stop-color='#4494cd'/><stop offset='0.95' stop-color='#2d87c7'/><stop offset='1.00' stop-color='#167ac2'/></linearGradient></defs><rect x='441.3' y='963.4' width='24.7' height='259.5' fill='url(#cb)' stroke='#231f20' stroke-width='1.4'/><text x='477.8' y='972.3' font-size='22.7' textLength='12.6' lengthAdjust='spacingAndGlyphs'>2</text><text x='477.8' y='1036.6' font-size='22.7'>1</text><text x='477.8' y='1101.3' font-size='22.7' textLength='13.3' lengthAdjust='spacingAndGlyphs'>0</text><text x='477.8' y='1166.5' font-size='22.7' textLength='24.0' lengthAdjust='spacingAndGlyphs'>−1</text><text x='477.8' y='1230.9' font-size='22.7' textLength='28.5' lengthAdjust='spacingAndGlyphs'>−2</text><text transform='translate(429.4,1140.7) rotate(-90)' font-size='26' textLength='95.2' lengthAdjust='spacingAndGlyphs'>Z-score</text><line x1='212.4' y1='1220.4' x2='183.6' y2='1247.9' stroke='#231f20' stroke-width='1.2'/><line x1='252.3' y1='1220.4' x2='238.0' y2='1248.0' stroke='#231f20' stroke-width='1.2'/><line x1='287.3' y1='1220.4' x2='301.4' y2='1248.0' stroke='#231f20' stroke-width='1.2'/><line x1='327.3' y1='1220.4' x2='356.0' y2='1248.0' stroke='#231f20' stroke-width='1.2'/><text transform='translate(191.0,1262.5) rotate(-90)' font-size='27.5' text-anchor='end' textLength='134.8' lengthAdjust='spacingAndGlyphs'>Chow, Veh</text><text transform='translate(244.8,1262.5) rotate(-90)' font-size='27.5' text-anchor='end' textLength='130.8' lengthAdjust='spacingAndGlyphs'>Chow, IMT</text><text transform='translate(309.3,1262.5) rotate(-90)' font-size='27.5' text-anchor='end' textLength='113.0' lengthAdjust='spacingAndGlyphs'>HFD, Veh</text><text transform='translate(362.8,1262.5) rotate(-90)' font-size='27.5' text-anchor='end' textLength='110.4' lengthAdjust='spacingAndGlyphs'>HFD, IMT</text><text x='598.5' y='724.0' font-size='40' font-weight='bold' stroke='#231f20' stroke-width='1.1'>e</text><line x1='699.6' y1='843.5' x2='699.6' y2='1304.3' stroke='#231f20' stroke-width='1.5'/><line x1='685.1' y1='843.5' x2='699.6' y2='843.5' stroke='#231f20' stroke-width='1.5'/><text x='671.5' y='851.5' font-size='22.7' text-anchor='end' textLength='26.8' lengthAdjust='spacingAndGlyphs'>30</text><line x1='685.1' y1='996.9' x2='699.6' y2='996.9' stroke='#231f20' stroke-width='1.5'/><text x='671.5' y='1004.9' font-size='22.7' text-anchor='end' textLength='26.8' lengthAdjust='spacingAndGlyphs'>20</text><line x1='685.1' y1='1150.6' x2='699.6' y2='1150.6' stroke='#231f20' stroke-width='1.5'/><text x='671.5' y='1158.6' font-size='22.7' text-anchor='end' textLength='23.8' lengthAdjust='spacingAndGlyphs'>10</text><line x1='685.1' y1='1304.3' x2='699.6' y2='1304.3' stroke='#231f20' stroke-width='1.5'/><text x='671.5' y='1312.3' font-size='22.7' text-anchor='end' textLength='12.9' lengthAdjust='spacingAndGlyphs'>0</text><line x1='685.1' y1='1304.3' x2='908.1' y2='1304.3' stroke='#231f20' stroke-width='1.5'/><text transform='translate(622.7,1210.7) rotate(-90)' font-size='26' textLength='272.0' lengthAdjust='spacingAndGlyphs'>ALT activity (mU ml<tspan dy='-9' font-size='16'>&#8722;1</tspan><tspan dy='9'>)</tspan></text><path d='M716.5,1304.3V1185.4H745.5V1304.3' fill='none' stroke='#231f20' stroke-width='1.6'/><path d='M764.7,1304.3V1154.7H793.7V1304.3' fill='none' stroke='#e8262b' stroke-width='1.6'/><path d='M813.3,1304.3V1088.3H842.3V1304.3' fill='none' stroke='#f7931e' stroke-width='1.6'/><path d='M861.5,1304.3V1145.7H890.5V1304.3' fill='none' stroke='#4470c0' stroke-width='1.6'/><path d='M731.0,1178.0V1192.0M722.5,1178.0H739.5M722.5,1192.0H739.5' fill='none' stroke='#231f20' stroke-width='1.5'/><g fill='none' stroke='#231f20' stroke-width='1.4'><circle cx='731.1' cy='1129.9' r='5.8'/><circle cx='726.4' cy='1156.0' r='5.8'/><circle cx='720.8' cy='1165.0' r='5.8'/><circle cx='741.8' cy='1162.4' r='5.8'/><circle cx='731.1' cy='1169.5' r='5.8'/><circle cx='737.7' cy='1168.0' r='5.8'/><circle cx='720.8' cy='1176.3' r='5.8'/><circle cx='728.8' cy='1177.9' r='5.8'/><circle cx='741.6' cy='1178.9' r='5.8'/><circle cx='735.7' cy='1180.8' r='5.8'/><circle cx='720.8' cy='1187.8' r='5.8'/><circle cx='726.8' cy='1190.1' r='5.8'/><circle cx='731.1' cy='1197.7' r='5.8'/><circle cx='736.7' cy='1197.3' r='5.8'/><circle cx='728.8' cy='1217.5' r='5.8'/><circle cx='733.1' cy='1222.5' r='5.8'/><circle cx='731.1' cy='1257.1' r='5.8'/></g><path d='M779.2,1140.6V1167.0M770.7,1140.6H787.7M770.7,1167.0H787.7' fill='none' stroke='#e8262b' stroke-width='1.5'/><g fill='none' stroke='#e8262b' stroke-width='1.4'><circle cx='779.3' cy='1037.1' r='5.8'/><circle cx='779.3' cy='1060.5' r='5.8'/><circle cx='779.3' cy='1092.2' r='5.8'/><circle cx='776.3' cy='1110.1' r='5.8'/><circle cx='783.3' cy='1113.0' r='5.8'/><circle cx='776.3' cy='1123.3' r='5.8'/><circle cx='783.3' cy='1140.2' r='5.8'/><circle cx='776.3' cy='1146.1' r='5.8'/><circle cx='783.3' cy='1155.7' r='5.8'/><circle cx='776.3' cy='1160.0' r='5.8'/><circle cx='779.3' cy='1172.9' r='5.8'/><circle cx='776.3' cy='1186.8' r='5.8'/><circle cx='783.3' cy='1188.8' r='5.8'/><circle cx='769.4' cy='1205.6' r='5.8'/><circle cx='776.3' cy='1212.5' r='5.8'/><circle cx='783.3' cy='1210.6' r='5.8'/><circle cx='790.2' cy='1213.5' r='5.8'/><circle cx='779.3' cy='1236.7' r='5.8'/></g><path d='M827.8,1075.8V1098.6M819.3,1075.8H836.3M819.3,1098.6H836.3' fill='none' stroke='#f7931e' stroke-width='1.5'/><g fill='none' stroke='#f7931e' stroke-width='1.4'><circle cx='827.9' cy='967.4' r='5.8'/><circle cx='824.9' cy='1017.3' r='5.8'/><circle cx='830.8' cy='1018.9' r='5.8'/><circle cx='827.5' cy='1046.6' r='5.8'/><circle cx='824.9' cy='1059.9' r='5.8'/><circle cx='830.8' cy='1065.9' r='5.8'/><circle cx='818.0' cy='1080.7' r='5.8'/><circle cx='837.8' cy='1080.3' r='5.8'/><circle cx='824.9' cy='1089.1' r='5.8'/><circle cx='824.9' cy='1104.5' r='5.8'/><circle cx='830.8' cy='1102.9' r='5.8'/><circle cx='818.0' cy='1119.4' r='5.8'/><circle cx='831.8' cy='1125.3' r='5.8'/><circle cx='837.8' cy='1124.0' r='5.8'/><circle cx='818.0' cy='1130.3' r='5.8'/><circle cx='824.9' cy='1133.3' r='5.8'/><circle cx='830.8' cy='1145.2' r='5.8'/><circle cx='824.9' cy='1155.1' r='5.8'/></g><path d='M876.0,1133.3V1156.1M867.5,1133.3H884.5M867.5,1156.1H884.5' fill='none' stroke='#4470c0' stroke-width='1.5'/><g fill='none' stroke='#4470c0' stroke-width='1.4'><circle cx='876.0' cy='1053.4' r='5.8'/><circle cx='879.4' cy='1074.4' r='5.8'/><circle cx='872.5' cy='1080.3' r='5.8'/><circle cx='879.4' cy='1089.7' r='5.8'/><circle cx='872.5' cy='1112.4' r='5.8'/><circle cx='879.4' cy='1122.4' r='5.8'/><circle cx='872.5' cy='1139.2' r='5.8'/><circle cx='879.4' cy='1139.2' r='5.8'/><circle cx='866.5' cy='1155.1' r='5.8'/><circle cx='872.5' cy='1153.1' r='5.8'/><circle cx='879.4' cy='1162.0' r='5.8'/><circle cx='866.5' cy='1170.3' r='5.8'/><circle cx='873.4' cy='1174.9' r='5.8'/><circle cx='866.5' cy='1185.4' r='5.8'/><circle cx='879.4' cy='1185.4' r='5.8'/><circle cx='886.3' cy='1183.4' r='5.8'/><circle cx='876.0' cy='1201.2' r='5.8'/><circle cx='876.0' cy='1223.0' r='5.8'/></g><polyline points='731.1,1095.6 731.1,801.9 827.9,801.9 827.9,836.6' fill='none' stroke='#231f20' stroke-width='1.6'/><polyline points='827.9,933.3 827.9,899.0 876.0,899.0 876.0,1019.3' fill='none' stroke='#231f20' stroke-width='1.6'/><text x='736.3' y='784.1' font-size='22.7' textLength='88.6' lengthAdjust='spacingAndGlyphs'>&lt;0.0001</text><text x='814.0' y='881.8' font-size='22.7' textLength='76.9' lengthAdjust='spacingAndGlyphs'>0.0024</text><text x='990.0' y='723.6' font-size='40' font-weight='bold' stroke='#231f20' stroke-width='1.1'>f</text><line x1='1095.6' y1='840.6' x2='1095.6' y2='1300.4' stroke='#231f20' stroke-width='1.5'/><line x1='1084.0' y1='840.6' x2='1095.6' y2='840.6' stroke='#231f20' stroke-width='1.5'/><text x='1070.5' y='848.6' font-size='22.7' text-anchor='end' textLength='36.7' lengthAdjust='spacingAndGlyphs'>120</text><line x1='1084.0' y1='955.5' x2='1095.6' y2='955.5' stroke='#231f20' stroke-width='1.5'/><text x='1070.5' y='963.5' font-size='22.7' text-anchor='end' textLength='27.2' lengthAdjust='spacingAndGlyphs'>90</text><line x1='1084.0' y1='1070.4' x2='1095.6' y2='1070.4' stroke='#231f20' stroke-width='1.5'/><text x='1070.5' y='1078.4' font-size='22.7' text-anchor='end' textLength='27.2' lengthAdjust='spacingAndGlyphs'>60</text><line x1='1084.0' y1='1185.4' x2='1095.6' y2='1185.4' stroke='#231f20' stroke-width='1.5'/><text x='1070.5' y='1193.4' font-size='22.7' text-anchor='end' textLength='27.2' lengthAdjust='spacingAndGlyphs'>30</text><line x1='1084.0' y1='1300.4' x2='1095.6' y2='1300.4' stroke='#231f20' stroke-width='1.5'/><text x='1070.5' y='1308.4' font-size='22.7' text-anchor='end' textLength='12.9' lengthAdjust='spacingAndGlyphs'>0</text><line x1='1084.0' y1='1300.4' x2='1291.2' y2='1300.4' stroke='#231f20' stroke-width='1.5'/><text transform='translate(1014.1,1206.6) rotate(-90)' font-size='26' textLength='270.9' lengthAdjust='spacingAndGlyphs'>AST activity (mU ml<tspan dy='-9' font-size='16'>&#8722;1</tspan><tspan dy='9'>)</tspan></text><path d='M1111.3,1300.4V1143.8H1138.7V1300.4' fill='none' stroke='#231f20' stroke-width='1.6'/><path d='M1156.6,1300.4V1134.2H1184.0V1300.4' fill='none' stroke='#e8262b' stroke-width='1.6'/><path d='M1202.0,1300.4V1043.5H1229.4V1300.4' fill='none' stroke='#f7931e' stroke-width='1.6'/><path d='M1247.6,1300.4V1077.2H1275.0V1300.4' fill='none' stroke='#4470c0' stroke-width='1.6'/><path d='M1125.0,1138.0V1150.0M1117.0,1138.0H1133.0M1117.0,1150.0H1133.0' fill='none' stroke='#231f20' stroke-width='1.5'/><g fill='none' stroke='#231f20' stroke-width='1.35'><circle cx='1125.7' cy='1089.7' r='4.7'/><circle cx='1115.4' cy='1104.9' r='4.7'/><circle cx='1136.6' cy='1099.6' r='4.7'/><circle cx='1128.7' cy='1110.1' r='4.7'/><circle cx='1122.1' cy='1114.8' r='4.7'/><circle cx='1136.2' cy='1112.8' r='4.7'/><circle cx='1115.4' cy='1135.8' r='4.7'/><circle cx='1122.1' cy='1140.2' r='4.7'/><circle cx='1128.7' cy='1139.2' r='4.7'/><circle cx='1122.1' cy='1152.1' r='4.7'/><circle cx='1115.4' cy='1159.0' r='4.7'/><circle cx='1136.6' cy='1162.0' r='4.7'/><circle cx='1128.7' cy='1164.0' r='4.7'/><circle cx='1115.4' cy='1169.9' r='4.7'/><circle cx='1122.1' cy='1173.5' r='4.7'/><circle cx='1115.4' cy='1180.8' r='4.7'/><circle cx='1128.7' cy='1179.4' r='4.7'/><circle cx='1136.6' cy='1177.5' r='4.7'/></g><path d='M1170.3,1125.3V1142.2M1162.3,1125.3H1178.3M1162.3,1142.2H1178.3' fill='none' stroke='#e8262b' stroke-width='1.5'/><g fill='none' stroke='#e8262b' stroke-width='1.35'><circle cx='1170.7' cy='1052.0' r='4.7'/><circle cx='1174.2' cy='1079.7' r='4.7'/><circle cx='1167.3' cy='1087.7' r='4.7'/><circle cx='1174.2' cy='1100.2' r='4.7'/><circle cx='1167.3' cy='1104.5' r='4.7'/><circle cx='1160.4' cy='1124.0' r='4.7'/><circle cx='1167.3' cy='1120.8' r='4.7'/><circle cx='1174.2' cy='1120.4' r='4.7'/><circle cx='1181.2' cy='1125.3' r='4.7'/><circle cx='1174.2' cy='1148.1' r='4.7'/><circle cx='1181.2' cy='1148.1' r='4.7'/><circle cx='1167.3' cy='1155.1' r='4.7'/><circle cx='1160.4' cy='1162.0' r='4.7'/><circle cx='1174.2' cy='1159.0' r='4.7'/><circle cx='1181.2' cy='1159.0' r='4.7'/><circle cx='1167.3' cy='1169.5' r='4.7'/><circle cx='1181.2' cy='1170.3' r='4.7'/><circle cx='1170.7' cy='1207.2' r='4.7'/></g><path d='M1215.7,1033.6V1050.0M1207.7,1033.6H1223.7M1207.7,1050.0H1223.7' fill='none' stroke='#f7931e' stroke-width='1.5'/><g fill='none' stroke='#f7931e' stroke-width='1.35'><circle cx='1217.9' cy='964.2' r='4.7'/><circle cx='1212.9' cy='967.4' r='4.7'/><circle cx='1215.9' cy='1007.0' r='4.7'/><circle cx='1215.9' cy='1017.7' r='4.7'/><circle cx='1221.4' cy='1024.8' r='4.7'/><circle cx='1215.9' cy='1030.8' r='4.7'/><circle cx='1205.0' cy='1052.0' r='4.7'/><circle cx='1210.9' cy='1052.0' r='4.7'/><circle cx='1221.4' cy='1051.0' r='4.7'/><circle cx='1215.9' cy='1057.0' r='4.7'/><circle cx='1210.9' cy='1060.9' r='4.7'/><circle cx='1221.4' cy='1060.9' r='4.7'/><circle cx='1210.9' cy='1070.4' r='4.7'/><circle cx='1227.8' cy='1070.8' r='4.7'/><circle cx='1221.4' cy='1076.4' r='4.7'/><circle cx='1210.9' cy='1081.1' r='4.7'/><circle cx='1215.9' cy='1047.0' r='4.7'/></g><path d='M1261.3,1066.9V1086.7M1253.3,1066.9H1269.3M1253.3,1086.7H1269.3' fill='none' stroke='#4470c0' stroke-width='1.5'/><g fill='none' stroke='#4470c0' stroke-width='1.35'><circle cx='1261.1' cy='969.7' r='4.7'/><circle cx='1261.1' cy='1018.9' r='4.7'/><circle cx='1250.6' cy='1052.6' r='4.7'/><circle cx='1257.5' cy='1057.0' r='4.7'/><circle cx='1264.4' cy='1061.3' r='4.7'/><circle cx='1272.4' cy='1061.9' r='4.7'/><circle cx='1250.6' cy='1063.9' r='4.7'/><circle cx='1264.4' cy='1070.8' r='4.7'/><circle cx='1257.5' cy='1074.4' r='4.7'/><circle cx='1272.4' cy='1083.1' r='4.7'/><circle cx='1257.5' cy='1088.3' r='4.7'/><circle cx='1264.4' cy='1088.3' r='4.7'/><circle cx='1257.5' cy='1100.6' r='4.7'/><circle cx='1264.4' cy='1108.9' r='4.7'/><circle cx='1272.4' cy='1110.1' r='4.7'/><circle cx='1257.5' cy='1114.4' r='4.7'/><circle cx='1264.4' cy='1119.4' r='4.7'/><circle cx='1261.1' cy='1133.3' r='4.7'/></g><polyline points='1125.1,1073.8 1125.1,837.0 1215.9,837.0 1215.9,875.8' fill='none' stroke='#231f20' stroke-width='1.6'/><polyline points='1215.9,952.5 1215.9,913.9 1261.9,913.9 1261.9,952.5' fill='none' stroke='#231f20' stroke-width='1.6'/><text x='1127.7' y='824.3' font-size='22.7' textLength='86.8' lengthAdjust='spacingAndGlyphs'>&lt;0.0001</text><text x='1200.4' y='903.6' font-size='22.7' textLength='76.9' lengthAdjust='spacingAndGlyphs'>0.0023</text><text x='1350.5' y='722.5' font-size='40' font-weight='bold' stroke='#231f20' stroke-width='1.1'>g</text><line x1='1455.2' y1='817.2' x2='1455.2' y2='1306.5' stroke='#231f20' stroke-width='1.5'/><line x1='1443.1' y1='817.2' x2='1455.2' y2='817.2' stroke='#231f20' stroke-width='1.5'/><text x='1430.5' y='825.2' font-size='22.7' text-anchor='end' textLength='12.6' lengthAdjust='spacingAndGlyphs'>6</text><line x1='1443.1' y1='980.4' x2='1455.2' y2='980.4' stroke='#231f20' stroke-width='1.5'/><text x='1430.5' y='988.4' font-size='22.7' text-anchor='end' textLength='13.5' lengthAdjust='spacingAndGlyphs'>4</text><line x1='1443.1' y1='1143.5' x2='1455.2' y2='1143.5' stroke='#231f20' stroke-width='1.5'/><text x='1430.5' y='1151.5' font-size='22.7' text-anchor='end' textLength='12.6' lengthAdjust='spacingAndGlyphs'>2</text><line x1='1443.1' y1='1306.5' x2='1455.2' y2='1306.5' stroke='#231f20' stroke-width='1.5'/><text x='1430.5' y='1314.5' font-size='22.7' text-anchor='end' textLength='13.3' lengthAdjust='spacingAndGlyphs'>0</text><line x1='1443.1' y1='1306.5' x2='1665.0' y2='1306.5' stroke='#231f20' stroke-width='1.5'/><text transform='translate(1394.0,1203.8) rotate(-90)' font-size='26' textLength='283.0' lengthAdjust='spacingAndGlyphs'>Serum albumin (g dl<tspan dy='-9' font-size='16'>&#8722;1</tspan><tspan dy='9'>)</tspan></text><path d='M1472.4,1306.5V976.7H1501.6V1306.5' fill='none' stroke='#231f20' stroke-width='1.6'/><path d='M1521.1,1306.5V1014.7H1550.3V1306.5' fill='none' stroke='#e8262b' stroke-width='1.6'/><path d='M1569.6,1306.5V1014.7H1598.8V1306.5' fill='none' stroke='#f7931e' stroke-width='1.6'/><path d='M1618.2,1306.5V1026.0H1647.4V1306.5' fill='none' stroke='#4470c0' stroke-width='1.6'/><path d='M1487.0,961.8V989.2M1479.0,961.8H1495.0M1479.0,989.2H1495.0' fill='none' stroke='#231f20' stroke-width='1.5'/><g fill='none' stroke='#231f20' stroke-width='1.35'><circle cx='1483.3' cy='886.9' r='4.8'/><circle cx='1490.9' cy='888.6' r='4.8'/><circle cx='1490.9' cy='900.2' r='4.8'/><circle cx='1483.3' cy='904.5' r='4.8'/><circle cx='1487.1' cy='932.1' r='4.8'/><circle cx='1490.9' cy='950.3' r='4.8'/><circle cx='1483.3' cy='954.8' r='4.8'/><circle cx='1475.8' cy='967.9' r='4.8'/><circle cx='1483.3' cy='967.9' r='4.8'/><circle cx='1498.4' cy='975.4' r='4.8'/><circle cx='1490.9' cy='977.4' r='4.8'/><circle cx='1483.3' cy='1000.1' r='4.8'/><circle cx='1490.9' cy='1003.3' r='4.8'/><circle cx='1487.1' cy='1022.2' r='4.8'/><circle cx='1483.3' cy='1042.1' r='4.8'/><circle cx='1490.9' cy='1041.6' r='4.8'/><circle cx='1487.1' cy='1068.0' r='4.8'/><circle cx='1487.1' cy='1076.8' r='4.8'/></g><path d='M1535.7,1001.8V1023.5M1527.7,1001.8H1543.7M1527.7,1023.5H1543.7' fill='none' stroke='#e8262b' stroke-width='1.5'/><g fill='none' stroke='#e8262b' stroke-width='1.35'><circle cx='1535.7' cy='922.6' r='4.8'/><circle cx='1524.3' cy='955.3' r='4.8'/><circle cx='1547.0' cy='952.8' r='4.8'/><circle cx='1535.7' cy='962.3' r='4.8'/><circle cx='1535.7' cy='983.7' r='4.8'/><circle cx='1529.9' cy='997.5' r='4.8'/><circle cx='1541.2' cy='994.3' r='4.8'/><circle cx='1535.7' cy='1010.6' r='4.8'/><circle cx='1547.0' cy='1008.1' r='4.8'/><circle cx='1524.3' cy='1016.9' r='4.8'/><circle cx='1535.7' cy='1022.0' r='4.8'/><circle cx='1547.0' cy='1020.7' r='4.8'/><circle cx='1524.3' cy='1027.0' r='4.8'/><circle cx='1535.7' cy='1031.0' r='4.8'/><circle cx='1535.7' cy='1041.6' r='4.8'/><circle cx='1547.0' cy='1059.2' r='4.8'/><circle cx='1535.7' cy='1064.2' r='4.8'/><circle cx='1535.7' cy='1088.6' r='4.8'/><circle cx='1535.7' cy='1100.7' r='4.8'/></g><path d='M1584.2,1001.8V1026.5M1576.2,1001.8H1592.2M1576.2,1026.5H1592.2' fill='none' stroke='#f7931e' stroke-width='1.5'/><g fill='none' stroke='#f7931e' stroke-width='1.35'><circle cx='1584.0' cy='904.0' r='4.8'/><circle cx='1584.0' cy='917.0' r='4.8'/><circle cx='1580.2' cy='982.0' r='4.8'/><circle cx='1587.7' cy='982.5' r='4.8'/><circle cx='1595.3' cy='995.8' r='4.8'/><circle cx='1587.7' cy='997.5' r='4.8'/><circle cx='1580.2' cy='1001.3' r='4.8'/><circle cx='1595.3' cy='1007.6' r='4.8'/><circle cx='1587.7' cy='1011.4' r='4.8'/><circle cx='1580.2' cy='1013.9' r='4.8'/><circle cx='1587.7' cy='1026.5' r='4.8'/><circle cx='1580.2' cy='1029.5' r='4.8'/><circle cx='1572.6' cy='1034.5' r='4.8'/><circle cx='1595.3' cy='1034.5' r='4.8'/><circle cx='1587.7' cy='1044.1' r='4.8'/><circle cx='1580.2' cy='1052.9' r='4.8'/><circle cx='1584.0' cy='1091.9' r='4.8'/><circle cx='1584.0' cy='1113.3' r='4.8'/></g><path d='M1632.8,1010.6V1038.6M1624.8,1010.6H1640.8M1624.8,1038.6H1640.8' fill='none' stroke='#4470c0' stroke-width='1.5'/><g fill='none' stroke='#4470c0' stroke-width='1.35'><circle cx='1633.0' cy='883.8' r='4.8'/><circle cx='1633.0' cy='941.0' r='4.8'/><circle cx='1644.3' cy='979.9' r='4.8'/><circle cx='1633.0' cy='985.0' r='4.8'/><circle cx='1621.7' cy='997.5' r='4.8'/><circle cx='1644.3' cy='1000.8' r='4.8'/><circle cx='1621.7' cy='1010.6' r='4.8'/><circle cx='1633.0' cy='1011.9' r='4.8'/><circle cx='1644.3' cy='1018.2' r='4.8'/><circle cx='1633.0' cy='1025.2' r='4.8'/><circle cx='1621.7' cy='1032.8' r='4.8'/><circle cx='1621.7' cy='1056.2' r='4.8'/><circle cx='1644.3' cy='1053.6' r='4.8'/><circle cx='1644.3' cy='1063.0' r='4.8'/><circle cx='1644.3' cy='1079.8' r='4.8'/><circle cx='1633.0' cy='1084.8' r='4.8'/><circle cx='1633.0' cy='1098.9' r='4.8'/><circle cx='1633.0' cy='1123.8' r='4.8'/></g><text x='0.0' y='1471.4' font-size='40' font-weight='bold' stroke='#231f20' stroke-width='1.1'>h</text><line x1='95.5' y1='1464.2' x2='95.5' y2='1933.0' stroke='#231f20' stroke-width='1.5'/><line x1='83.6' y1='1464.2' x2='95.5' y2='1464.2' stroke='#231f20' stroke-width='1.5'/><text x='71.0' y='1472.2' font-size='22.7' text-anchor='end' textLength='12.6' lengthAdjust='spacingAndGlyphs'>4</text><line x1='83.6' y1='1581.4' x2='95.5' y2='1581.4' stroke='#231f20' stroke-width='1.5'/><text x='71.0' y='1589.4' font-size='22.7' text-anchor='end' textLength='12.6' lengthAdjust='spacingAndGlyphs'>3</text><line x1='83.6' y1='1698.6' x2='95.5' y2='1698.6' stroke='#231f20' stroke-width='1.5'/><text x='71.0' y='1706.6' font-size='22.7' text-anchor='end' textLength='12.6' lengthAdjust='spacingAndGlyphs'>2</text><line x1='83.6' y1='1815.8' x2='95.5' y2='1815.8' stroke='#231f20' stroke-width='1.5'/><text x='71.0' y='1823.8' font-size='22.7' text-anchor='end'>1</text><line x1='83.6' y1='1933.0' x2='95.5' y2='1933.0' stroke='#231f20' stroke-width='1.5'/><text x='71.0' y='1941.0' font-size='22.7' text-anchor='end' textLength='13.3' lengthAdjust='spacingAndGlyphs'>0</text><line x1='83.6' y1='1933.0' x2='589.9' y2='1933.0' stroke='#231f20' stroke-width='1.5'/><line x1='173.0' y1='1933.0' x2='173.0' y2='1939.0' stroke='#231f20' stroke-width='1.5'/><line x1='341.6' y1='1933.0' x2='341.6' y2='1939.0' stroke='#231f20' stroke-width='1.5'/><line x1='511.0' y1='1933.0' x2='511.0' y2='1939.0' stroke='#231f20' stroke-width='1.5'/><text transform='translate(35.0,1830.8) rotate(-90)' font-size='26' textLength='265.8' lengthAdjust='spacingAndGlyphs'>Relative mRNA levels</text><text x='149.5' y='1972.9' font-size='27' font-style='italic' textLength='48.0' lengthAdjust='spacingAndGlyphs'>Nd1</text><text x='313.5' y='1972.9' font-size='27' font-style='italic' textLength='57.7' lengthAdjust='spacingAndGlyphs'>Cox1</text><text x='482.2' y='1972.9' font-size='27' font-style='italic' textLength='58.3' lengthAdjust='spacingAndGlyphs'>Cytb</text><path d='M108.0,1933.0V1816.0H130.6V1933.0' fill='none' stroke='#231f20' stroke-width='1.5'/><path d='M144.7,1933.0V1911.6H167.2V1933.0' fill='none' stroke='#e8262b' stroke-width='1.5'/><path d='M180.2,1933.0V1781.9H202.8V1933.0' fill='none' stroke='#f7931e' stroke-width='1.5'/><path d='M216.8,1933.0V1904.4H239.2V1933.0' fill='none' stroke='#4470c0' stroke-width='1.5'/><path d='M119.3,1808.0V1824.0M112.8,1808.0H125.8M112.8,1824.0H125.8' fill='none' stroke='#231f20' stroke-width='1.4'/><g fill='none' stroke='#231f20' stroke-width='1.3'><circle cx='118.5' cy='1739.3' r='4.5'/><circle cx='111.4' cy='1772.1' r='4.5'/><circle cx='126.6' cy='1773.8' r='4.5'/><circle cx='116.1' cy='1779.2' r='4.5'/><circle cx='118.5' cy='1793.4' r='4.5'/><circle cx='116.1' cy='1805.8' r='4.5'/><circle cx='121.3' cy='1805.1' r='4.5'/><circle cx='126.6' cy='1807.2' r='4.5'/><circle cx='111.4' cy='1812.9' r='4.5'/><circle cx='116.1' cy='1817.9' r='4.5'/><circle cx='111.4' cy='1823.6' r='4.5'/><circle cx='126.6' cy='1821.4' r='4.5'/><circle cx='121.3' cy='1832.1' r='4.5'/><circle cx='116.1' cy='1838.5' r='4.5'/><circle cx='116.1' cy='1852.8' r='4.5'/><circle cx='121.3' cy='1852.8' r='4.5'/><circle cx='118.5' cy='1864.1' r='4.5'/><circle cx='118.5' cy='1888.3' r='4.5'/></g><path d='M155.9,1906.0V1917.0M149.4,1906.0H162.4M149.4,1917.0H162.4' fill='none' stroke='#e8262b' stroke-width='1.4'/><g fill='none' stroke='#e8262b' stroke-width='1.3'><circle cx='155.1' cy='1889.8' r='4.5'/><circle cx='154.4' cy='1914.1' r='4.5'/><circle cx='161.0' cy='1911.6' r='4.5'/><circle cx='155.2' cy='1914.9' r='4.5'/><circle cx='150.7' cy='1912.8' r='4.5'/><circle cx='156.9' cy='1920.4' r='4.5'/><circle cx='149.4' cy='1907.2' r='4.5'/><circle cx='149.4' cy='1920.9' r='4.5'/><circle cx='157.8' cy='1900.1' r='4.5'/><circle cx='161.9' cy='1925.0' r='4.5'/><circle cx='157.3' cy='1915.6' r='4.5'/><circle cx='150.3' cy='1899.4' r='4.5'/><circle cx='155.5' cy='1900.6' r='4.5'/><circle cx='150.8' cy='1905.5' r='4.5'/><circle cx='148.5' cy='1911.5' r='4.5'/><circle cx='154.3' cy='1921.7' r='4.5'/><circle cx='155.4' cy='1916.3' r='4.5'/><circle cx='155.1' cy='1916.9' r='4.5'/></g><path d='M191.5,1762.7V1798.7M185.0,1762.7H198.0M185.0,1798.7H198.0' fill='none' stroke='#f7931e' stroke-width='1.4'/><g fill='none' stroke='#f7931e' stroke-width='1.3'><circle cx='191.1' cy='1649.7' r='4.5'/><circle cx='187.5' cy='1677.3' r='4.5'/><circle cx='195.3' cy='1678.7' r='4.5'/><circle cx='191.1' cy='1689.8' r='4.5'/><circle cx='187.5' cy='1714.7' r='4.5'/><circle cx='195.3' cy='1716.1' r='4.5'/><circle cx='191.1' cy='1741.0' r='4.5'/><circle cx='191.1' cy='1749.6' r='4.5'/><circle cx='191.1' cy='1811.5' r='4.5'/><circle cx='191.1' cy='1831.4' r='4.5'/><circle cx='198.9' cy='1832.1' r='4.5'/><circle cx='184.0' cy='1839.2' r='4.5'/><circle cx='198.9' cy='1841.4' r='4.5'/><circle cx='184.0' cy='1847.8' r='4.5'/><circle cx='198.9' cy='1849.9' r='4.5'/><circle cx='191.1' cy='1859.2' r='4.5'/><circle cx='198.9' cy='1859.9' r='4.5'/><circle cx='184.0' cy='1865.6' r='4.5'/></g><path d='M228.0,1898.0V1910.0M221.5,1898.0H234.5M221.5,1910.0H234.5' fill='none' stroke='#4470c0' stroke-width='1.4'/><g fill='none' stroke='#4470c0' stroke-width='1.3'><circle cx='227.3' cy='1859.2' r='4.5'/><circle cx='227.3' cy='1888.3' r='4.5'/><circle cx='226.6' cy='1900.0' r='4.5'/><circle cx='235.3' cy='1925.8' r='4.5'/><circle cx='232.7' cy='1915.5' r='4.5'/><circle cx='224.3' cy='1898.3' r='4.5'/><circle cx='223.9' cy='1892.5' r='4.5'/><circle cx='231.6' cy='1904.4' r='4.5'/><circle cx='232.8' cy='1903.9' r='4.5'/><circle cx='234.6' cy='1920.5' r='4.5'/><circle cx='219.3' cy='1897.5' r='4.5'/><circle cx='233.9' cy='1906.9' r='4.5'/><circle cx='235.0' cy='1904.3' r='4.5'/><circle cx='220.5' cy='1912.7' r='4.5'/><circle cx='231.8' cy='1899.7' r='4.5'/><circle cx='220.7' cy='1902.0' r='4.5'/><circle cx='234.7' cy='1917.3' r='4.5'/></g><path d='M277.1,1933.0V1816.5H299.6V1933.0' fill='none' stroke='#231f20' stroke-width='1.5'/><path d='M313.2,1933.0V1913.5H335.8V1933.0' fill='none' stroke='#e8262b' stroke-width='1.5'/><path d='M349.2,1933.0V1816.5H371.8V1933.0' fill='none' stroke='#f7931e' stroke-width='1.5'/><path d='M385.4,1933.0V1913.9H407.9V1933.0' fill='none' stroke='#4470c0' stroke-width='1.5'/><path d='M288.3,1808.6V1824.0M281.8,1808.6H294.8M281.8,1824.0H294.8' fill='none' stroke='#231f20' stroke-width='1.4'/><g fill='none' stroke='#231f20' stroke-width='1.3'><circle cx='288.1' cy='1737.9' r='4.5'/><circle cx='280.7' cy='1800.1' r='4.5'/><circle cx='283.5' cy='1795.1' r='4.5'/><circle cx='288.5' cy='1798.0' r='4.5'/><circle cx='292.0' cy='1798.0' r='4.5'/><circle cx='296.3' cy='1797.3' r='4.5'/><circle cx='286.3' cy='1800.1' r='4.5'/><circle cx='287.8' cy='1802.9' r='4.5'/><circle cx='282.1' cy='1821.4' r='4.5'/><circle cx='286.3' cy='1821.4' r='4.5'/><circle cx='290.6' cy='1821.4' r='4.5'/><circle cx='294.2' cy='1822.2' r='4.5'/><circle cx='286.3' cy='1830.0' r='4.5'/><circle cx='284.9' cy='1834.2' r='4.5'/><circle cx='290.6' cy='1836.4' r='4.5'/><circle cx='287.8' cy='1838.5' r='4.5'/><circle cx='289.2' cy='1859.2' r='4.5'/><circle cx='286.3' cy='1863.4' r='4.5'/></g><path d='M324.5,1909.0V1918.0M318.0,1909.0H331.0M318.0,1918.0H331.0' fill='none' stroke='#e8262b' stroke-width='1.4'/><g fill='none' stroke='#e8262b' stroke-width='1.3'><circle cx='322.5' cy='1904.7' r='4.5'/><circle cx='317.2' cy='1911.7' r='4.5'/><circle cx='316.9' cy='1907.4' r='4.5'/><circle cx='326.7' cy='1910.1' r='4.5'/><circle cx='323.3' cy='1916.3' r='4.5'/><circle cx='318.2' cy='1922.8' r='4.5'/><circle cx='317.3' cy='1920.8' r='4.5'/><circle cx='317.1' cy='1915.7' r='4.5'/><circle cx='318.5' cy='1912.2' r='4.5'/><circle cx='329.1' cy='1924.5' r='4.5'/><circle cx='319.8' cy='1926.4' r='4.5'/><circle cx='318.4' cy='1915.1' r='4.5'/><circle cx='327.5' cy='1920.8' r='4.5'/><circle cx='316.9' cy='1928.8' r='4.5'/><circle cx='318.5' cy='1911.9' r='4.5'/><circle cx='326.3' cy='1913.6' r='4.5'/><circle cx='319.6' cy='1907.7' r='4.5'/><circle cx='316.8' cy='1919.4' r='4.5'/></g><path d='M360.5,1802.2V1828.1M354.0,1802.2H367.0M354.0,1828.1H367.0' fill='none' stroke='#f7931e' stroke-width='1.4'/><g fill='none' stroke='#f7931e' stroke-width='1.3'><circle cx='360.3' cy='1706.9' r='4.5'/><circle cx='360.3' cy='1736.5' r='4.5'/><circle cx='364.2' cy='1751.3' r='4.5'/><circle cx='356.5' cy='1753.8' r='4.5'/><circle cx='360.3' cy='1768.8' r='4.5'/><circle cx='356.5' cy='1795.5' r='4.5'/><circle cx='364.2' cy='1798.2' r='4.5'/><circle cx='352.9' cy='1810.1' r='4.5'/><circle cx='367.9' cy='1817.9' r='4.5'/><circle cx='352.9' cy='1826.1' r='4.5'/><circle cx='360.3' cy='1831.4' r='4.5'/><circle cx='352.9' cy='1848.5' r='4.5'/><circle cx='360.3' cy='1854.9' r='4.5'/><circle cx='367.9' cy='1857.7' r='4.5'/><circle cx='352.9' cy='1864.1' r='4.5'/><circle cx='367.9' cy='1866.6' r='4.5'/><circle cx='360.3' cy='1870.5' r='4.5'/><circle cx='360.3' cy='1909.0' r='4.5'/></g><path d='M396.6,1908.0V1919.0M390.1,1908.0H403.1M390.1,1919.0H403.1' fill='none' stroke='#4470c0' stroke-width='1.4'/><g fill='none' stroke='#4470c0' stroke-width='1.3'><circle cx='396.6' cy='1889.8' r='4.5'/><circle cx='396.6' cy='1899.0' r='4.5'/><circle cx='392.5' cy='1916.4' r='4.5'/><circle cx='394.5' cy='1912.1' r='4.5'/><circle cx='403.9' cy='1913.0' r='4.5'/><circle cx='397.8' cy='1924.1' r='4.5'/><circle cx='391.5' cy='1903.5' r='4.5'/><circle cx='403.1' cy='1922.7' r='4.5'/><circle cx='392.6' cy='1904.5' r='4.5'/><circle cx='400.4' cy='1926.3' r='4.5'/><circle cx='391.7' cy='1926.6' r='4.5'/><circle cx='402.7' cy='1916.5' r='4.5'/><circle cx='395.3' cy='1902.0' r='4.5'/><circle cx='389.2' cy='1926.9' r='4.5'/><circle cx='392.4' cy='1919.4' r='4.5'/><circle cx='392.7' cy='1922.9' r='4.5'/><circle cx='398.1' cy='1907.5' r='4.5'/><circle cx='391.4' cy='1919.9' r='4.5'/></g><path d='M445.9,1933.0V1816.5H468.4V1933.0' fill='none' stroke='#231f20' stroke-width='1.5'/><path d='M482.4,1933.0V1911.0H504.9V1933.0' fill='none' stroke='#e8262b' stroke-width='1.5'/><path d='M518.2,1933.0V1786.6H540.8V1933.0' fill='none' stroke='#f7931e' stroke-width='1.5'/><path d='M554.8,1933.0V1906.1H577.2V1933.0' fill='none' stroke='#4470c0' stroke-width='1.5'/><path d='M457.1,1802.0V1829.3M450.6,1802.0H463.6M450.6,1829.3H463.6' fill='none' stroke='#231f20' stroke-width='1.4'/><g fill='none' stroke='#231f20' stroke-width='1.3'><circle cx='454.2' cy='1722.5' r='4.5'/><circle cx='459.9' cy='1731.1' r='4.5'/><circle cx='454.2' cy='1735.3' r='4.5'/><circle cx='456.6' cy='1766.7' r='4.5'/><circle cx='459.9' cy='1788.7' r='4.5'/><circle cx='454.2' cy='1791.6' r='4.5'/><circle cx='456.6' cy='1803.0' r='4.5'/><circle cx='454.2' cy='1810.8' r='4.5'/><circle cx='459.9' cy='1812.9' r='4.5'/><circle cx='464.9' cy='1812.2' r='4.5'/><circle cx='449.9' cy='1819.6' r='4.5'/><circle cx='454.2' cy='1820.0' r='4.5'/><circle cx='459.9' cy='1827.6' r='4.5'/><circle cx='454.2' cy='1856.3' r='4.5'/><circle cx='459.9' cy='1861.3' r='4.5'/><circle cx='456.6' cy='1870.5' r='4.5'/><circle cx='456.6' cy='1919.6' r='4.5'/><circle cx='456.6' cy='1931.7' r='4.5'/></g><path d='M493.7,1905.0V1916.0M487.2,1905.0H500.2M487.2,1916.0H500.2' fill='none' stroke='#e8262b' stroke-width='1.4'/><g fill='none' stroke='#e8262b' stroke-width='1.3'><circle cx='494.1' cy='1892.6' r='4.5'/><circle cx='488.1' cy='1903.9' r='4.5'/><circle cx='494.9' cy='1922.6' r='4.5'/><circle cx='495.7' cy='1905.4' r='4.5'/><circle cx='499.9' cy='1903.1' r='4.5'/><circle cx='487.3' cy='1905.1' r='4.5'/><circle cx='493.3' cy='1898.8' r='4.5'/><circle cx='489.6' cy='1908.1' r='4.5'/><circle cx='495.1' cy='1900.9' r='4.5'/><circle cx='492.2' cy='1923.7' r='4.5'/><circle cx='500.8' cy='1916.7' r='4.5'/><circle cx='496.8' cy='1914.5' r='4.5'/><circle cx='489.1' cy='1898.1' r='4.5'/><circle cx='487.4' cy='1924.3' r='4.5'/><circle cx='496.9' cy='1925.9' r='4.5'/><circle cx='487.4' cy='1916.1' r='4.5'/><circle cx='493.9' cy='1918.9' r='4.5'/><circle cx='491.6' cy='1927.0' r='4.5'/></g><path d='M529.5,1768.8V1802.2M523.0,1768.8H536.0M523.0,1802.2H536.0' fill='none' stroke='#f7931e' stroke-width='1.4'/><g fill='none' stroke='#f7931e' stroke-width='1.3'><circle cx='529.4' cy='1612.0' r='4.5'/><circle cx='529.4' cy='1662.1' r='4.5'/><circle cx='529.4' cy='1711.9' r='4.5'/><circle cx='529.4' cy='1739.3' r='4.5'/><circle cx='529.4' cy='1753.6' r='4.5'/><circle cx='537.2' cy='1776.6' r='4.5'/><circle cx='529.4' cy='1778.0' r='4.5'/><circle cx='521.8' cy='1786.6' r='4.5'/><circle cx='529.4' cy='1788.0' r='4.5'/><circle cx='521.8' cy='1795.1' r='4.5'/><circle cx='537.2' cy='1798.0' r='4.5'/><circle cx='537.2' cy='1807.9' r='4.5'/><circle cx='529.4' cy='1810.8' r='4.5'/><circle cx='529.4' cy='1832.8' r='4.5'/><circle cx='533.2' cy='1856.6' r='4.5'/><circle cx='525.4' cy='1859.2' r='4.5'/><circle cx='529.4' cy='1880.2' r='4.5'/><circle cx='529.4' cy='1888.3' r='4.5'/></g><path d='M566.0,1899.0V1912.0M559.5,1899.0H572.5M559.5,1912.0H572.5' fill='none' stroke='#4470c0' stroke-width='1.4'/><g fill='none' stroke='#4470c0' stroke-width='1.3'><circle cx='567.3' cy='1877.0' r='4.5'/><circle cx='564.5' cy='1880.5' r='4.5'/><circle cx='565.2' cy='1889.0' r='4.5'/><circle cx='558.4' cy='1911.7' r='4.5'/><circle cx='569.0' cy='1924.4' r='4.5'/><circle cx='569.0' cy='1917.3' r='4.5'/><circle cx='569.9' cy='1924.9' r='4.5'/><circle cx='562.8' cy='1916.7' r='4.5'/><circle cx='571.6' cy='1923.4' r='4.5'/><circle cx='563.9' cy='1920.5' r='4.5'/><circle cx='571.0' cy='1912.6' r='4.5'/><circle cx='567.2' cy='1905.8' r='4.5'/><circle cx='566.5' cy='1913.9' r='4.5'/><circle cx='558.5' cy='1915.0' r='4.5'/><circle cx='573.1' cy='1923.7' r='4.5'/><circle cx='568.9' cy='1906.0' r='4.5'/><circle cx='569.0' cy='1912.9' r='4.5'/><circle cx='564.2' cy='1922.2' r='4.5'/><circle cx='558.5' cy='1919.0' r='4.5'/></g><polyline points='118.9,1714.0 118.9,1559.7 155.0,1559.7 155.0,1864.0' fill='none' stroke='#231f20' stroke-width='1.6'/><polyline points='191.0,1511.1 191.0,1485.1 227.7,1485.1 227.7,1834.0' fill='none' stroke='#231f20' stroke-width='1.6'/><polyline points='288.3,1711.6 288.3,1559.7 323.6,1559.7 323.6,1879.2' fill='none' stroke='#231f20' stroke-width='1.6'/><polyline points='360.4,1511.0 360.4,1485.0 397.1,1485.0 397.1,1863.7' fill='none' stroke='#231f20' stroke-width='1.6'/><polyline points='457.0,1696.7 457.0,1559.0 493.0,1559.0 493.0,1866.6' fill='none' stroke='#231f20' stroke-width='1.6'/><polyline points='529.0,1505.7 529.0,1484.0 567.6,1484.0 567.6,1851.4' fill='none' stroke='#231f20' stroke-width='1.6'/><text x='100.2' y='1547.1' font-size='22.7' textLength='87.9' lengthAdjust='spacingAndGlyphs'>&lt;0.0001</text><text x='166.5' y='1473.2' font-size='22.7' textLength='87.5' lengthAdjust='spacingAndGlyphs'>&lt;0.0001</text><text x='263.8' y='1547.1' font-size='22.7' textLength='86.5' lengthAdjust='spacingAndGlyphs'>&lt;0.0001</text><text x='335.9' y='1473.2' font-size='22.7' textLength='87.5' lengthAdjust='spacingAndGlyphs'>&lt;0.0001</text><text x='432.4' y='1547.1' font-size='22.7' textLength='86.5' lengthAdjust='spacingAndGlyphs'>&lt;0.0001</text><text x='511.0' y='1473.2' font-size='22.7' textLength='76.4' lengthAdjust='spacingAndGlyphs'>0.0001</text><text x='703.0' y='1470.6' font-size='40' font-weight='bold' stroke='#231f20' stroke-width='1.1'>i</text><line x1='800.1' y1='1468.7' x2='800.1' y2='1929.8' stroke='#231f20' stroke-width='1.5'/><line x1='789.7' y1='1468.7' x2='800.1' y2='1468.7' stroke='#231f20' stroke-width='1.5'/><text x='775.7' y='1476.7' font-size='22.7' text-anchor='end' textLength='27.3' lengthAdjust='spacingAndGlyphs'>80</text><line x1='789.7' y1='1583.9' x2='800.1' y2='1583.9' stroke='#231f20' stroke-width='1.5'/><text x='775.7' y='1591.9' font-size='22.7' text-anchor='end' textLength='27.3' lengthAdjust='spacingAndGlyphs'>60</text><line x1='789.7' y1='1698.9' x2='800.1' y2='1698.9' stroke='#231f20' stroke-width='1.5'/><text x='775.7' y='1706.9' font-size='22.7' text-anchor='end' textLength='27.3' lengthAdjust='spacingAndGlyphs'>40</text><line x1='789.7' y1='1814.5' x2='800.1' y2='1814.5' stroke='#231f20' stroke-width='1.5'/><text x='775.7' y='1822.5' font-size='22.7' text-anchor='end' textLength='27.3' lengthAdjust='spacingAndGlyphs'>20</text><line x1='789.7' y1='1929.8' x2='800.1' y2='1929.8' stroke='#231f20' stroke-width='1.5'/><text x='775.7' y='1937.8' font-size='22.7' text-anchor='end' textLength='13.0' lengthAdjust='spacingAndGlyphs'>0</text><line x1='789.2' y1='1929.8' x2='899.8' y2='1929.8' stroke='#231f20' stroke-width='1.5'/><line x1='1399.5' y1='1467.0' x2='1399.5' y2='1931.0' stroke='#231f20' stroke-width='1.5'/><line x1='1399.5' y1='1467.0' x2='1411.0' y2='1467.0' stroke='#231f20' stroke-width='1.5'/><text x='1423.7' y='1475.0' font-size='22.7' textLength='27.3' lengthAdjust='spacingAndGlyphs'>80</text><line x1='1399.5' y1='1582.8' x2='1411.0' y2='1582.8' stroke='#231f20' stroke-width='1.5'/><text x='1423.7' y='1590.8' font-size='22.7' textLength='27.3' lengthAdjust='spacingAndGlyphs'>60</text><line x1='1399.5' y1='1698.6' x2='1411.0' y2='1698.6' stroke='#231f20' stroke-width='1.5'/><text x='1423.7' y='1706.6' font-size='22.7' textLength='27.3' lengthAdjust='spacingAndGlyphs'>40</text><line x1='1399.5' y1='1815.3' x2='1411.0' y2='1815.3' stroke='#231f20' stroke-width='1.5'/><text x='1423.7' y='1823.3' font-size='22.7' textLength='27.3' lengthAdjust='spacingAndGlyphs'>20</text><line x1='1399.5' y1='1931.0' x2='1411.0' y2='1931.0' stroke='#231f20' stroke-width='1.5'/><text x='1423.7' y='1939.0' font-size='22.7' textLength='13.0' lengthAdjust='spacingAndGlyphs'>0</text><line x1='939.2' y1='1931.0' x2='1411.3' y2='1931.0' stroke='#231f20' stroke-width='1.5'/><line x1='980.1' y1='1931.0' x2='980.1' y2='1937.5' stroke='#231f20' stroke-width='1.5'/><line x1='1074.3' y1='1931.0' x2='1074.3' y2='1937.5' stroke='#231f20' stroke-width='1.5'/><line x1='1168.6' y1='1931.0' x2='1168.6' y2='1937.5' stroke='#231f20' stroke-width='1.5'/><line x1='1263.3' y1='1931.0' x2='1263.3' y2='1937.5' stroke='#231f20' stroke-width='1.5'/><line x1='1357.6' y1='1931.0' x2='1357.6' y2='1937.5' stroke='#231f20' stroke-width='1.5'/><text transform='translate(726.4,1874.4) rotate(-90)' font-size='26' textLength='350.8' lengthAdjust='spacingAndGlyphs'>IMT concentration (µmol l<tspan dy='-9' font-size='16'>&#8722;1</tspan><tspan dy='9'>)</tspan></text><text transform='translate(1473.7,1520.2) rotate(90)' font-size='26' textLength='359.4' lengthAdjust='spacingAndGlyphs'>IMT concentration (nmol g<tspan dy='-9' font-size='16'>&#8722;1</tspan><tspan dy='9'>)</tspan></text><path d='M815.6,1929.8V1722.5H841.4V1929.8' fill='none' stroke='#e8262b' stroke-width='1.5'/><path d='M828.5,1672.5V1770.3M821.2,1672.5H835.8M821.2,1770.3H835.8' fill='none' stroke='#e8262b' stroke-width='1.4'/><g fill='none' stroke='#e8262b' stroke-width='1.3'><circle cx='828.6' cy='1536.6' r='4.3'/><circle cx='818.5' cy='1742.7' r='4.3'/><circle cx='838.5' cy='1739.0' r='4.3'/><circle cx='828.6' cy='1761.2' r='4.3'/><circle cx='828.6' cy='1827.6' r='4.3'/></g><path d='M858.1,1929.8V1759.2H884.4V1929.8' fill='none' stroke='#4470c0' stroke-width='1.5'/><path d='M871.3,1734.1V1782.8M864.0,1734.1H878.6M864.0,1782.8H878.6' fill='none' stroke='#4470c0' stroke-width='1.4'/><g fill='none' stroke='#4470c0' stroke-width='1.3'><circle cx='871.5' cy='1677.5' r='4.3'/><circle cx='871.5' cy='1742.0' r='4.3'/><circle cx='861.6' cy='1769.8' r='4.3'/><circle cx='880.8' cy='1776.0' r='4.3'/><circle cx='871.5' cy='1826.8' r='4.3'/></g><path d='M951.8,1931.0V1711.2H973.6V1931.0' fill='none' stroke='#e8262b' stroke-width='1.5'/><path d='M962.7,1689.0V1731.6M955.4,1689.0H970.0M955.4,1731.6H970.0' fill='none' stroke='#e8262b' stroke-width='1.4'/><g fill='none' stroke='#e8262b' stroke-width='1.3'><circle cx='962.6' cy='1630.0' r='4.3'/><circle cx='962.6' cy='1659.7' r='4.3'/><circle cx='962.6' cy='1678.7' r='4.3'/><circle cx='962.6' cy='1718.1' r='4.3'/><circle cx='962.6' cy='1745.2' r='4.3'/><circle cx='962.6' cy='1754.5' r='4.3'/><circle cx='962.6' cy='1788.9' r='4.3'/></g><path d='M987.4,1931.0V1626.5H1009.3V1931.0' fill='none' stroke='#4470c0' stroke-width='1.5'/><path d='M998.4,1602.9V1647.9M991.1,1602.9H1005.7M991.1,1647.9H1005.7' fill='none' stroke='#4470c0' stroke-width='1.4'/><g fill='none' stroke='#4470c0' stroke-width='1.3'><circle cx='998.3' cy='1511.3' r='4.3'/><circle cx='998.3' cy='1574.0' r='4.3'/><circle cx='998.3' cy='1597.4' r='4.3'/><circle cx='998.3' cy='1619.1' r='4.3'/><circle cx='998.3' cy='1641.8' r='4.3'/><circle cx='998.3' cy='1660.7' r='4.3'/><circle cx='990.4' cy='1701.4' r='4.3'/><circle cx='1005.7' cy='1700.4' r='4.3'/></g><path d='M1046.3,1931.0V1888.0H1068.6V1931.0' fill='none' stroke='#e8262b' stroke-width='1.5'/><path d='M1057.5,1880.5V1893.0M1050.2,1880.5H1064.8M1050.2,1893.0H1064.8' fill='none' stroke='#e8262b' stroke-width='1.4'/><g fill='none' stroke='#e8262b' stroke-width='1.3'><circle cx='1056.8' cy='1860.9' r='4.3'/><circle cx='1050.6' cy='1873.4' r='4.3'/><circle cx='1064.0' cy='1873.4' r='4.3'/><circle cx='1056.8' cy='1881.2' r='4.3'/><circle cx='1050.6' cy='1896.8' r='4.3'/><circle cx='1056.8' cy='1896.8' r='4.3'/><circle cx='1064.0' cy='1902.4' r='4.3'/><circle cx='1049.3' cy='1909.9' r='4.3'/></g><path d='M1082.0,1931.0V1899.3H1104.0V1931.0' fill='none' stroke='#4470c0' stroke-width='1.5'/><path d='M1093.0,1896.0V1902.5M1085.7,1896.0H1100.3M1085.7,1902.5H1100.3' fill='none' stroke='#4470c0' stroke-width='1.4'/><g fill='none' stroke='#4470c0' stroke-width='1.3'><circle cx='1096.2' cy='1883.4' r='4.3'/><circle cx='1092.1' cy='1890.5' r='4.3'/><circle cx='1085.9' cy='1899.3' r='4.3'/><circle cx='1092.1' cy='1900.8' r='4.3'/><circle cx='1100.6' cy='1900.8' r='4.3'/><circle cx='1095.3' cy='1904.6' r='4.3'/><circle cx='1089.0' cy='1912.4' r='4.3'/></g><path d='M1140.4,1931.0V1915.5H1162.4V1931.0' fill='none' stroke='#e8262b' stroke-width='1.5'/><path d='M1151.4,1912.0V1919.0M1144.1,1912.0H1158.7M1144.1,1919.0H1158.7' fill='none' stroke='#e8262b' stroke-width='1.4'/><g fill='none' stroke='#e8262b' stroke-width='1.3'><circle cx='1151.5' cy='1902.4' r='4.3'/><circle cx='1151.5' cy='1906.8' r='4.3'/><circle cx='1145.2' cy='1915.5' r='4.3'/><circle cx='1149.9' cy='1917.1' r='4.3'/><circle cx='1157.7' cy='1917.7' r='4.3'/><circle cx='1143.7' cy='1920.2' r='4.3'/><circle cx='1157.7' cy='1920.2' r='4.3'/><circle cx='1151.5' cy='1920.2' r='4.3'/></g><path d='M1176.4,1931.0V1912.4H1198.4V1931.0' fill='none' stroke='#4470c0' stroke-width='1.5'/><path d='M1187.4,1909.0V1916.0M1180.1,1909.0H1194.7M1180.1,1916.0H1194.7' fill='none' stroke='#4470c0' stroke-width='1.4'/><g fill='none' stroke='#4470c0' stroke-width='1.3'><circle cx='1186.8' cy='1896.8' r='4.3'/><circle cx='1186.8' cy='1907.7' r='4.3'/><circle cx='1180.5' cy='1915.5' r='4.3'/><circle cx='1192.1' cy='1914.0' r='4.3'/><circle cx='1186.8' cy='1914.0' r='4.3'/><circle cx='1181.1' cy='1918.6' r='4.3'/><circle cx='1190.5' cy='1918.6' r='4.3'/></g><path d='M1235.0,1931.0V1918.6H1257.5V1931.0' fill='none' stroke='#e8262b' stroke-width='1.5'/><path d='M1246.3,1916.0V1921.0M1239.0,1916.0H1253.6M1239.0,1921.0H1253.6' fill='none' stroke='#e8262b' stroke-width='1.4'/><g fill='none' stroke='#e8262b' stroke-width='1.3'><circle cx='1246.1' cy='1904.6' r='4.3'/><circle cx='1242.0' cy='1909.3' r='4.3'/><circle cx='1253.6' cy='1915.5' r='4.3'/><circle cx='1240.5' cy='1917.1' r='4.3'/><circle cx='1246.7' cy='1918.6' r='4.3'/><circle cx='1238.9' cy='1923.3' r='4.3'/><circle cx='1253.0' cy='1924.9' r='4.3'/></g><path d='M1270.2,1931.0V1921.8H1292.7V1931.0' fill='none' stroke='#4470c0' stroke-width='1.5'/><path d='M1281.4,1919.0V1924.0M1274.1,1919.0H1288.7M1274.1,1924.0H1288.7' fill='none' stroke='#4470c0' stroke-width='1.4'/><g fill='none' stroke='#4470c0' stroke-width='1.3'><circle cx='1281.1' cy='1909.9' r='4.3'/><circle cx='1276.4' cy='1915.5' r='4.3'/><circle cx='1285.8' cy='1918.6' r='4.3'/><circle cx='1274.8' cy='1921.8' r='4.3'/><circle cx='1281.1' cy='1921.8' r='4.3'/><circle cx='1288.9' cy='1923.3' r='4.3'/><circle cx='1282.6' cy='1923.3' r='4.3'/></g><path d='M1329.5,1931.0V1895.2H1352.0V1931.0' fill='none' stroke='#e8262b' stroke-width='1.5'/><path d='M1340.8,1894.0V1897.0M1333.5,1894.0H1348.1M1333.5,1897.0H1348.1' fill='none' stroke='#e8262b' stroke-width='1.4'/><g fill='none' stroke='#e8262b' stroke-width='1.3'><circle cx='1334.2' cy='1896.2' r='4.3'/><circle cx='1340.4' cy='1894.3' r='4.3'/><circle cx='1346.7' cy='1896.2' r='4.3'/></g><path d='M1364.8,1931.0V1881.2H1387.2V1931.0' fill='none' stroke='#4470c0' stroke-width='1.5'/><path d='M1376.0,1874.9V1887.4M1368.7,1874.9H1383.3M1368.7,1887.4H1383.3' fill='none' stroke='#4470c0' stroke-width='1.4'/><g fill='none' stroke='#4470c0' stroke-width='1.3'><circle cx='1376.3' cy='1870.2' r='4.3'/><circle cx='1376.3' cy='1881.2' r='4.3'/><circle cx='1376.3' cy='1889.9' r='4.3'/></g><text transform='translate(862.0,1962.0) rotate(-45)' font-size='29' text-anchor='end' textLength='81.9' lengthAdjust='spacingAndGlyphs'>Plasma</text><text transform='translate(991.0,1960.0) rotate(-45)' font-size='29' text-anchor='end' textLength='52.3' lengthAdjust='spacingAndGlyphs'>Liver</text><text transform='translate(1085.5,1961.0) rotate(-45)' font-size='29' text-anchor='end' textLength='61.0' lengthAdjust='spacingAndGlyphs'>Heart</text><text transform='translate(1181.0,1963.0) rotate(-45)' font-size='29' text-anchor='end' textLength='193.6' lengthAdjust='spacingAndGlyphs'>Skeletal muscle</text><text transform='translate(1273.0,1961.0) rotate(-45)' font-size='29' text-anchor='end' textLength='58.7' lengthAdjust='spacingAndGlyphs'>eWAT</text><text transform='translate(1367.0,1961.0) rotate(-45)' font-size='29' text-anchor='end' textLength='38.9' lengthAdjust='spacingAndGlyphs'>BAT</text>
</svg></body></html>
